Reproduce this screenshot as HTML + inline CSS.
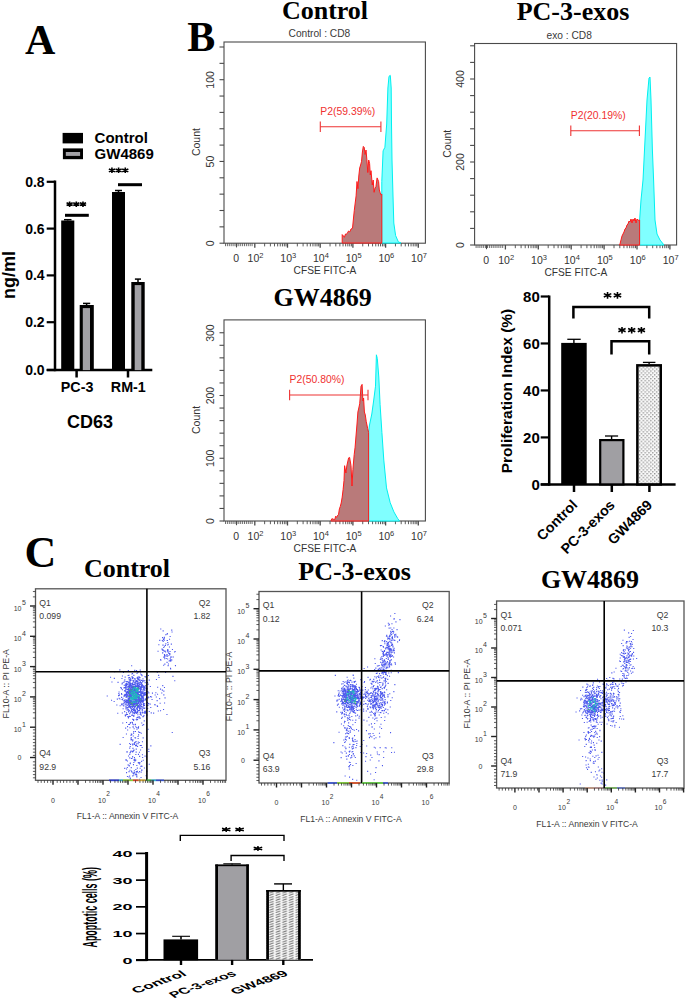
<!DOCTYPE html>
<html><head><meta charset="utf-8"><style>
html,body{margin:0;padding:0;background:#fff;width:685px;height:1001px;overflow:hidden;font-family:"Liberation Sans",sans-serif;}
svg{display:block;}
</style></head><body>
<svg width="685" height="1001" viewBox="0 0 685 1001">
<rect width="685" height="1001" fill="#fff"/>
<text x="25.00" y="54.00" font-family="Liberation Serif" font-size="42" font-weight="bold" text-anchor="start" fill="#000" >A</text>
<text x="187.20" y="50.80" font-family="Liberation Serif" font-size="42" font-weight="bold" text-anchor="start" fill="#000" >B</text>
<text x="24.50" y="566.60" font-family="Liberation Serif" font-size="44" font-weight="bold" text-anchor="start" fill="#000" >C</text>
<rect x="62.60" y="132.90" width="20.40" height="10.50" fill="#000" stroke="none" stroke-width="0" />
<rect x="62.90" y="148.40" width="20.10" height="10.80" fill="#000" stroke="none" stroke-width="0" />
<rect x="65.80" y="152.00" width="14.30" height="3.90" fill="#a2a1a6" stroke="none" stroke-width="0" />
<text x="94.60" y="143.40" font-family="Liberation Sans" font-size="15" font-weight="bold" text-anchor="start" fill="#000" >Control</text>
<text x="94.60" y="159.30" font-family="Liberation Sans" font-size="15" font-weight="bold" text-anchor="start" fill="#000" >GW4869</text>
<line x1="55.00" y1="180.50" x2="55.00" y2="371.20" stroke="#000" stroke-width="2.5" />
<line x1="46.70" y1="370.00" x2="152.30" y2="370.00" stroke="#000" stroke-width="2.5" />
<line x1="46.70" y1="181.80" x2="55.00" y2="181.80" stroke="#000" stroke-width="2.2" />
<text x="44.60" y="186.80" font-family="Liberation Sans" font-size="14" font-weight="bold" text-anchor="end" fill="#000" >0.8</text>
<line x1="46.70" y1="228.60" x2="55.00" y2="228.60" stroke="#000" stroke-width="2.2" />
<text x="44.60" y="233.60" font-family="Liberation Sans" font-size="14" font-weight="bold" text-anchor="end" fill="#000" >0.6</text>
<line x1="46.70" y1="275.40" x2="55.00" y2="275.40" stroke="#000" stroke-width="2.2" />
<text x="44.60" y="280.40" font-family="Liberation Sans" font-size="14" font-weight="bold" text-anchor="end" fill="#000" >0.4</text>
<line x1="46.70" y1="322.20" x2="55.00" y2="322.20" stroke="#000" stroke-width="2.2" />
<text x="44.60" y="327.20" font-family="Liberation Sans" font-size="14" font-weight="bold" text-anchor="end" fill="#000" >0.2</text>
<line x1="46.70" y1="370.00" x2="55.00" y2="370.00" stroke="#000" stroke-width="2.2" />
<text x="44.60" y="375.00" font-family="Liberation Sans" font-size="14" font-weight="bold" text-anchor="end" fill="#000" >0.0</text>
<rect x="61.20" y="220.50" width="13.10" height="149.50" fill="#000" stroke="none" stroke-width="0" />
<rect x="79.70" y="305.00" width="14.10" height="65.00" fill="#000" stroke="none" stroke-width="0" />
<rect x="82.80" y="308.10" width="7.20" height="62.00" fill="#a2a1a6" stroke="none" stroke-width="0" />
<rect x="112.00" y="192.00" width="13.00" height="178.00" fill="#000" stroke="none" stroke-width="0" />
<rect x="131.30" y="282.00" width="13.40" height="88.00" fill="#000" stroke="none" stroke-width="0" />
<rect x="134.70" y="285.10" width="6.60" height="85.00" fill="#a2a1a6" stroke="none" stroke-width="0" />
<line x1="67.70" y1="219.50" x2="67.70" y2="220.50" stroke="#000" stroke-width="1.5" />
<line x1="64.00" y1="219.70" x2="71.50" y2="219.70" stroke="#000" stroke-width="1.5" />
<line x1="86.60" y1="303.40" x2="86.60" y2="305.00" stroke="#000" stroke-width="1.5" />
<line x1="83.00" y1="303.40" x2="90.20" y2="303.40" stroke="#000" stroke-width="1.5" />
<line x1="118.50" y1="190.50" x2="118.50" y2="192.00" stroke="#000" stroke-width="1.5" />
<line x1="115.00" y1="190.50" x2="122.00" y2="190.50" stroke="#000" stroke-width="1.5" />
<line x1="138.00" y1="279.10" x2="138.00" y2="282.00" stroke="#000" stroke-width="1.5" />
<line x1="134.90" y1="279.10" x2="141.00" y2="279.10" stroke="#000" stroke-width="1.5" />
<line x1="65.00" y1="215.30" x2="88.80" y2="215.30" stroke="#000" stroke-width="3" />
<line x1="118.00" y1="184.70" x2="142.00" y2="184.70" stroke="#000" stroke-width="3" />
<path d="M69.63 201.40V207.00M66.57 202.80L72.70 205.60M66.57 205.60L72.70 202.80" stroke="#000" stroke-width="1.6" fill="none"/>
<path d="M76.30 201.40V207.00M73.23 202.80L79.37 205.60M73.23 205.60L79.37 202.80" stroke="#000" stroke-width="1.6" fill="none"/>
<path d="M82.97 201.40V207.00M79.90 202.80L86.03 205.60M79.90 205.60L86.03 202.80" stroke="#000" stroke-width="1.6" fill="none"/>
<path d="M111.93 167.60V173.10M108.87 168.97L115.00 171.72M108.87 171.72L115.00 168.97" stroke="#000" stroke-width="1.6" fill="none"/>
<path d="M118.60 167.60V173.10M115.53 168.97L121.67 171.72M115.53 171.72L121.67 168.97" stroke="#000" stroke-width="1.6" fill="none"/>
<path d="M125.27 167.60V173.10M122.20 168.97L128.33 171.72M122.20 171.72L128.33 168.97" stroke="#000" stroke-width="1.6" fill="none"/>
<line x1="76.60" y1="370.00" x2="76.60" y2="377.50" stroke="#000" stroke-width="2.5" />
<line x1="128.00" y1="370.00" x2="128.00" y2="377.50" stroke="#000" stroke-width="2.5" />
<text x="77.10" y="392.20" font-family="Liberation Sans" font-size="14.3" font-weight="bold" text-anchor="middle" fill="#000" >PC-3</text>
<text x="128.30" y="392.20" font-family="Liberation Sans" font-size="14.3" font-weight="bold" text-anchor="middle" fill="#000" >RM-1</text>
<text x="90.10" y="427.70" font-family="Liberation Sans" font-size="18" font-weight="bold" text-anchor="middle" fill="#000" >CD63</text>
<text transform="translate(14.7,275) rotate(-90)" font-family="Liberation Sans" font-size="18" font-weight="bold" text-anchor="middle">ng/ml</text>
<rect x="224.00" y="42.00" width="201.40" height="201.20" fill="none" stroke="#4a4a4a" stroke-width="1.1" />
<line x1="219.50" y1="243.20" x2="224.00" y2="243.20" stroke="#4a4a4a" stroke-width="1.1" />
<line x1="219.50" y1="226.85" x2="224.00" y2="226.85" stroke="#4a4a4a" stroke-width="1.1" />
<line x1="219.50" y1="210.50" x2="224.00" y2="210.50" stroke="#4a4a4a" stroke-width="1.1" />
<line x1="219.50" y1="194.15" x2="224.00" y2="194.15" stroke="#4a4a4a" stroke-width="1.1" />
<line x1="219.50" y1="177.80" x2="224.00" y2="177.80" stroke="#4a4a4a" stroke-width="1.1" />
<line x1="219.50" y1="161.45" x2="224.00" y2="161.45" stroke="#4a4a4a" stroke-width="1.1" />
<line x1="219.50" y1="145.10" x2="224.00" y2="145.10" stroke="#4a4a4a" stroke-width="1.1" />
<line x1="219.50" y1="128.75" x2="224.00" y2="128.75" stroke="#4a4a4a" stroke-width="1.1" />
<line x1="219.50" y1="112.40" x2="224.00" y2="112.40" stroke="#4a4a4a" stroke-width="1.1" />
<line x1="219.50" y1="96.05" x2="224.00" y2="96.05" stroke="#4a4a4a" stroke-width="1.1" />
<line x1="219.50" y1="79.70" x2="224.00" y2="79.70" stroke="#4a4a4a" stroke-width="1.1" />
<line x1="219.50" y1="63.35" x2="224.00" y2="63.35" stroke="#4a4a4a" stroke-width="1.1" />
<line x1="219.50" y1="47.00" x2="224.00" y2="47.00" stroke="#4a4a4a" stroke-width="1.1" />
<text transform="translate(213.80,243.40) rotate(-90)" font-family="Liberation Sans" font-size="10.5" text-anchor="middle" fill="#333">0</text>
<text transform="translate(213.80,161.60) rotate(-90)" font-family="Liberation Sans" font-size="10.5" text-anchor="middle" fill="#333">50</text>
<text transform="translate(213.80,79.90) rotate(-90)" font-family="Liberation Sans" font-size="10.5" text-anchor="middle" fill="#333">100</text>
<text transform="translate(200.00,142.10) rotate(-90)" font-family="Liberation Sans" font-size="10.5" text-anchor="middle" fill="#333">Count</text>
<line x1="225.50" y1="243.20" x2="225.50" y2="246.20" stroke="#4a4a4a" stroke-width="0.8" />
<line x1="227.40" y1="243.20" x2="227.40" y2="246.20" stroke="#4a4a4a" stroke-width="0.8" />
<line x1="229.30" y1="243.20" x2="229.30" y2="246.20" stroke="#4a4a4a" stroke-width="0.8" />
<line x1="231.20" y1="243.20" x2="231.20" y2="246.20" stroke="#4a4a4a" stroke-width="0.8" />
<line x1="233.10" y1="243.20" x2="233.10" y2="246.20" stroke="#4a4a4a" stroke-width="0.8" />
<line x1="235.00" y1="243.20" x2="235.00" y2="246.20" stroke="#4a4a4a" stroke-width="0.8" />
<line x1="236.90" y1="243.20" x2="236.90" y2="246.20" stroke="#4a4a4a" stroke-width="0.8" />
<line x1="238.80" y1="243.20" x2="238.80" y2="246.20" stroke="#4a4a4a" stroke-width="0.8" />
<line x1="240.70" y1="243.20" x2="240.70" y2="246.20" stroke="#4a4a4a" stroke-width="0.8" />
<line x1="242.60" y1="243.20" x2="242.60" y2="246.20" stroke="#4a4a4a" stroke-width="0.8" />
<line x1="244.50" y1="243.20" x2="244.50" y2="246.20" stroke="#4a4a4a" stroke-width="0.8" />
<line x1="246.40" y1="243.20" x2="246.40" y2="246.20" stroke="#4a4a4a" stroke-width="0.8" />
<line x1="248.30" y1="243.20" x2="248.30" y2="246.20" stroke="#4a4a4a" stroke-width="0.8" />
<line x1="250.20" y1="243.20" x2="250.20" y2="246.20" stroke="#4a4a4a" stroke-width="0.8" />
<line x1="252.10" y1="243.20" x2="252.10" y2="246.20" stroke="#4a4a4a" stroke-width="0.8" />
<line x1="236.50" y1="243.20" x2="236.50" y2="247.40" stroke="#4a4a4a" stroke-width="1.1" />
<line x1="254.80" y1="243.20" x2="254.80" y2="247.70" stroke="#4a4a4a" stroke-width="1.3" />
<line x1="264.64" y1="243.20" x2="264.64" y2="246.40" stroke="#4a4a4a" stroke-width="0.9" />
<line x1="270.40" y1="243.20" x2="270.40" y2="246.40" stroke="#4a4a4a" stroke-width="0.9" />
<line x1="274.49" y1="243.20" x2="274.49" y2="246.40" stroke="#4a4a4a" stroke-width="0.9" />
<line x1="277.66" y1="243.20" x2="277.66" y2="246.40" stroke="#4a4a4a" stroke-width="0.9" />
<line x1="280.25" y1="243.20" x2="280.25" y2="246.40" stroke="#4a4a4a" stroke-width="0.9" />
<line x1="282.43" y1="243.20" x2="282.43" y2="246.40" stroke="#4a4a4a" stroke-width="0.9" />
<line x1="284.33" y1="243.20" x2="284.33" y2="246.40" stroke="#4a4a4a" stroke-width="0.9" />
<line x1="286.00" y1="243.20" x2="286.00" y2="246.40" stroke="#4a4a4a" stroke-width="0.9" />
<line x1="287.50" y1="243.20" x2="287.50" y2="247.70" stroke="#4a4a4a" stroke-width="1.3" />
<line x1="297.34" y1="243.20" x2="297.34" y2="246.40" stroke="#4a4a4a" stroke-width="0.9" />
<line x1="303.10" y1="243.20" x2="303.10" y2="246.40" stroke="#4a4a4a" stroke-width="0.9" />
<line x1="307.19" y1="243.20" x2="307.19" y2="246.40" stroke="#4a4a4a" stroke-width="0.9" />
<line x1="310.36" y1="243.20" x2="310.36" y2="246.40" stroke="#4a4a4a" stroke-width="0.9" />
<line x1="312.95" y1="243.20" x2="312.95" y2="246.40" stroke="#4a4a4a" stroke-width="0.9" />
<line x1="315.13" y1="243.20" x2="315.13" y2="246.40" stroke="#4a4a4a" stroke-width="0.9" />
<line x1="317.03" y1="243.20" x2="317.03" y2="246.40" stroke="#4a4a4a" stroke-width="0.9" />
<line x1="318.70" y1="243.20" x2="318.70" y2="246.40" stroke="#4a4a4a" stroke-width="0.9" />
<line x1="320.20" y1="243.20" x2="320.20" y2="247.70" stroke="#4a4a4a" stroke-width="1.3" />
<line x1="330.04" y1="243.20" x2="330.04" y2="246.40" stroke="#4a4a4a" stroke-width="0.9" />
<line x1="335.80" y1="243.20" x2="335.80" y2="246.40" stroke="#4a4a4a" stroke-width="0.9" />
<line x1="339.89" y1="243.20" x2="339.89" y2="246.40" stroke="#4a4a4a" stroke-width="0.9" />
<line x1="343.06" y1="243.20" x2="343.06" y2="246.40" stroke="#4a4a4a" stroke-width="0.9" />
<line x1="345.65" y1="243.20" x2="345.65" y2="246.40" stroke="#4a4a4a" stroke-width="0.9" />
<line x1="347.83" y1="243.20" x2="347.83" y2="246.40" stroke="#4a4a4a" stroke-width="0.9" />
<line x1="349.73" y1="243.20" x2="349.73" y2="246.40" stroke="#4a4a4a" stroke-width="0.9" />
<line x1="351.40" y1="243.20" x2="351.40" y2="246.40" stroke="#4a4a4a" stroke-width="0.9" />
<line x1="352.90" y1="243.20" x2="352.90" y2="247.70" stroke="#4a4a4a" stroke-width="1.3" />
<line x1="362.74" y1="243.20" x2="362.74" y2="246.40" stroke="#4a4a4a" stroke-width="0.9" />
<line x1="368.50" y1="243.20" x2="368.50" y2="246.40" stroke="#4a4a4a" stroke-width="0.9" />
<line x1="372.59" y1="243.20" x2="372.59" y2="246.40" stroke="#4a4a4a" stroke-width="0.9" />
<line x1="375.76" y1="243.20" x2="375.76" y2="246.40" stroke="#4a4a4a" stroke-width="0.9" />
<line x1="378.35" y1="243.20" x2="378.35" y2="246.40" stroke="#4a4a4a" stroke-width="0.9" />
<line x1="380.53" y1="243.20" x2="380.53" y2="246.40" stroke="#4a4a4a" stroke-width="0.9" />
<line x1="382.43" y1="243.20" x2="382.43" y2="246.40" stroke="#4a4a4a" stroke-width="0.9" />
<line x1="384.10" y1="243.20" x2="384.10" y2="246.40" stroke="#4a4a4a" stroke-width="0.9" />
<line x1="385.60" y1="243.20" x2="385.60" y2="247.70" stroke="#4a4a4a" stroke-width="1.3" />
<line x1="395.44" y1="243.20" x2="395.44" y2="246.40" stroke="#4a4a4a" stroke-width="0.9" />
<line x1="401.20" y1="243.20" x2="401.20" y2="246.40" stroke="#4a4a4a" stroke-width="0.9" />
<line x1="405.29" y1="243.20" x2="405.29" y2="246.40" stroke="#4a4a4a" stroke-width="0.9" />
<line x1="408.46" y1="243.20" x2="408.46" y2="246.40" stroke="#4a4a4a" stroke-width="0.9" />
<line x1="411.05" y1="243.20" x2="411.05" y2="246.40" stroke="#4a4a4a" stroke-width="0.9" />
<line x1="413.23" y1="243.20" x2="413.23" y2="246.40" stroke="#4a4a4a" stroke-width="0.9" />
<line x1="415.13" y1="243.20" x2="415.13" y2="246.40" stroke="#4a4a4a" stroke-width="0.9" />
<line x1="416.80" y1="243.20" x2="416.80" y2="246.40" stroke="#4a4a4a" stroke-width="0.9" />
<line x1="418.30" y1="243.20" x2="418.30" y2="247.70" stroke="#4a4a4a" stroke-width="1.3" />
<text x="236.20" y="261.80" font-family="Liberation Sans" font-size="10.5" font-weight="normal" text-anchor="middle" fill="#333" >0</text>
<text x="247.60" y="261.80" font-family="Liberation Sans" font-size="10.5" fill="#333">10<tspan font-size="7.5" dy="-4">2</tspan></text>
<text x="280.30" y="261.80" font-family="Liberation Sans" font-size="10.5" fill="#333">10<tspan font-size="7.5" dy="-4">3</tspan></text>
<text x="313.00" y="261.80" font-family="Liberation Sans" font-size="10.5" fill="#333">10<tspan font-size="7.5" dy="-4">4</tspan></text>
<text x="345.70" y="261.80" font-family="Liberation Sans" font-size="10.5" fill="#333">10<tspan font-size="7.5" dy="-4">5</tspan></text>
<text x="378.40" y="261.80" font-family="Liberation Sans" font-size="10.5" fill="#333">10<tspan font-size="7.5" dy="-4">6</tspan></text>
<text x="411.10" y="261.80" font-family="Liberation Sans" font-size="10.5" fill="#333">10<tspan font-size="7.5" dy="-4">7</tspan></text>
<text x="325.00" y="274.00" font-family="Liberation Sans" font-size="10.2" font-weight="normal" text-anchor="middle" fill="#333" >CFSE FITC-A</text>
<text x="325.00" y="18.70" font-family="Liberation Serif" font-size="26" font-weight="bold" text-anchor="middle" fill="#000" >Control</text>
<text x="319.40" y="37.40" font-family="Liberation Sans" font-size="10.2" font-weight="normal" text-anchor="middle" fill="#3a3a3a" >Control : CD8</text>
<polygon points="381.8,243.0 381.8,181.5 383.1,150.9 384.9,147.3 386.7,124.0 387.9,88.0 389.0,76.3 390.3,75.4 391.2,88.0 391.5,124.0 392.0,160.0 393.0,196.0 393.8,223.0 395.6,235.5 398.3,241.8 401.0,243.0" fill="#80ffff" stroke="#00f0f0" stroke-width="1" stroke-linejoin="round" />
<polygon points="342.2,243.0 342.2,234.6 343.3,235.8 344.4,237.3 345.5,234.0 346.3,234.1 347.1,233.7 348.5,231.0 349.8,231.9 351.0,229.0 352.5,228.3 353.5,218.0 354.3,210.3 355.2,203.0 356.1,195.9 357.0,181.5 357.9,188.7 358.8,176.0 359.7,168.0 360.6,165.0 361.5,161.7 362.4,152.0 363.3,146.4 364.2,147.3 365.1,154.5 366.0,150.0 366.9,159.9 367.8,172.5 368.7,160.0 369.6,163.5 370.3,175.0 371.0,170.7 372.3,185.0 373.2,180.0 374.1,192.3 375.0,188.0 375.9,186.9 377.1,177.9 378.6,181.5 379.3,190.0 380.0,192.3 380.9,194.9 381.8,194.1 381.8,243.0" fill="#b97a7a" stroke="#ff1a1a" stroke-width="1" stroke-linejoin="round" />
<line x1="320.30" y1="126.70" x2="380.90" y2="126.70" stroke="#ee3333" stroke-width="1.1" />
<line x1="320.30" y1="121.40" x2="320.30" y2="132.00" stroke="#ee3333" stroke-width="1.1" />
<line x1="380.90" y1="121.40" x2="380.90" y2="132.00" stroke="#ee3333" stroke-width="1.1" />
<text x="320.30" y="114.80" font-family="Liberation Sans" font-size="10.4" font-weight="normal" text-anchor="start" fill="#f03030" >P2(59.39%)</text>
<rect x="474.60" y="43.50" width="202.00" height="201.50" fill="none" stroke="#4a4a4a" stroke-width="1.1" />
<line x1="470.10" y1="245.00" x2="474.60" y2="245.00" stroke="#4a4a4a" stroke-width="1.1" />
<line x1="470.10" y1="228.40" x2="474.60" y2="228.40" stroke="#4a4a4a" stroke-width="1.1" />
<line x1="470.10" y1="211.80" x2="474.60" y2="211.80" stroke="#4a4a4a" stroke-width="1.1" />
<line x1="470.10" y1="195.20" x2="474.60" y2="195.20" stroke="#4a4a4a" stroke-width="1.1" />
<line x1="470.10" y1="178.60" x2="474.60" y2="178.60" stroke="#4a4a4a" stroke-width="1.1" />
<line x1="470.10" y1="162.00" x2="474.60" y2="162.00" stroke="#4a4a4a" stroke-width="1.1" />
<line x1="470.10" y1="145.40" x2="474.60" y2="145.40" stroke="#4a4a4a" stroke-width="1.1" />
<line x1="470.10" y1="128.80" x2="474.60" y2="128.80" stroke="#4a4a4a" stroke-width="1.1" />
<line x1="470.10" y1="112.20" x2="474.60" y2="112.20" stroke="#4a4a4a" stroke-width="1.1" />
<line x1="470.10" y1="95.60" x2="474.60" y2="95.60" stroke="#4a4a4a" stroke-width="1.1" />
<line x1="470.10" y1="79.00" x2="474.60" y2="79.00" stroke="#4a4a4a" stroke-width="1.1" />
<line x1="470.10" y1="62.40" x2="474.60" y2="62.40" stroke="#4a4a4a" stroke-width="1.1" />
<line x1="470.10" y1="45.80" x2="474.60" y2="45.80" stroke="#4a4a4a" stroke-width="1.1" />
<text transform="translate(464.40,245.00) rotate(-90)" font-family="Liberation Sans" font-size="10.5" text-anchor="middle" fill="#333">0</text>
<text transform="translate(464.40,162.00) rotate(-90)" font-family="Liberation Sans" font-size="10.5" text-anchor="middle" fill="#333">200</text>
<text transform="translate(464.40,79.00) rotate(-90)" font-family="Liberation Sans" font-size="10.5" text-anchor="middle" fill="#333">400</text>
<text transform="translate(450.60,143.75) rotate(-90)" font-family="Liberation Sans" font-size="10.5" text-anchor="middle" fill="#333">Count</text>
<line x1="476.10" y1="245.00" x2="476.10" y2="248.00" stroke="#4a4a4a" stroke-width="0.8" />
<line x1="478.00" y1="245.00" x2="478.00" y2="248.00" stroke="#4a4a4a" stroke-width="0.8" />
<line x1="479.90" y1="245.00" x2="479.90" y2="248.00" stroke="#4a4a4a" stroke-width="0.8" />
<line x1="481.80" y1="245.00" x2="481.80" y2="248.00" stroke="#4a4a4a" stroke-width="0.8" />
<line x1="483.70" y1="245.00" x2="483.70" y2="248.00" stroke="#4a4a4a" stroke-width="0.8" />
<line x1="485.60" y1="245.00" x2="485.60" y2="248.00" stroke="#4a4a4a" stroke-width="0.8" />
<line x1="487.50" y1="245.00" x2="487.50" y2="248.00" stroke="#4a4a4a" stroke-width="0.8" />
<line x1="489.40" y1="245.00" x2="489.40" y2="248.00" stroke="#4a4a4a" stroke-width="0.8" />
<line x1="491.30" y1="245.00" x2="491.30" y2="248.00" stroke="#4a4a4a" stroke-width="0.8" />
<line x1="493.20" y1="245.00" x2="493.20" y2="248.00" stroke="#4a4a4a" stroke-width="0.8" />
<line x1="495.10" y1="245.00" x2="495.10" y2="248.00" stroke="#4a4a4a" stroke-width="0.8" />
<line x1="497.00" y1="245.00" x2="497.00" y2="248.00" stroke="#4a4a4a" stroke-width="0.8" />
<line x1="498.90" y1="245.00" x2="498.90" y2="248.00" stroke="#4a4a4a" stroke-width="0.8" />
<line x1="500.80" y1="245.00" x2="500.80" y2="248.00" stroke="#4a4a4a" stroke-width="0.8" />
<line x1="502.70" y1="245.00" x2="502.70" y2="248.00" stroke="#4a4a4a" stroke-width="0.8" />
<line x1="486.50" y1="245.00" x2="486.50" y2="249.20" stroke="#4a4a4a" stroke-width="1.1" />
<line x1="505.40" y1="245.00" x2="505.40" y2="249.50" stroke="#4a4a4a" stroke-width="1.3" />
<line x1="515.30" y1="245.00" x2="515.30" y2="248.20" stroke="#4a4a4a" stroke-width="0.9" />
<line x1="521.10" y1="245.00" x2="521.10" y2="248.20" stroke="#4a4a4a" stroke-width="0.9" />
<line x1="525.21" y1="245.00" x2="525.21" y2="248.20" stroke="#4a4a4a" stroke-width="0.9" />
<line x1="528.40" y1="245.00" x2="528.40" y2="248.20" stroke="#4a4a4a" stroke-width="0.9" />
<line x1="531.00" y1="245.00" x2="531.00" y2="248.20" stroke="#4a4a4a" stroke-width="0.9" />
<line x1="533.20" y1="245.00" x2="533.20" y2="248.20" stroke="#4a4a4a" stroke-width="0.9" />
<line x1="535.11" y1="245.00" x2="535.11" y2="248.20" stroke="#4a4a4a" stroke-width="0.9" />
<line x1="536.79" y1="245.00" x2="536.79" y2="248.20" stroke="#4a4a4a" stroke-width="0.9" />
<line x1="538.30" y1="245.00" x2="538.30" y2="249.50" stroke="#4a4a4a" stroke-width="1.3" />
<line x1="548.20" y1="245.00" x2="548.20" y2="248.20" stroke="#4a4a4a" stroke-width="0.9" />
<line x1="554.00" y1="245.00" x2="554.00" y2="248.20" stroke="#4a4a4a" stroke-width="0.9" />
<line x1="558.11" y1="245.00" x2="558.11" y2="248.20" stroke="#4a4a4a" stroke-width="0.9" />
<line x1="561.30" y1="245.00" x2="561.30" y2="248.20" stroke="#4a4a4a" stroke-width="0.9" />
<line x1="563.90" y1="245.00" x2="563.90" y2="248.20" stroke="#4a4a4a" stroke-width="0.9" />
<line x1="566.10" y1="245.00" x2="566.10" y2="248.20" stroke="#4a4a4a" stroke-width="0.9" />
<line x1="568.01" y1="245.00" x2="568.01" y2="248.20" stroke="#4a4a4a" stroke-width="0.9" />
<line x1="569.69" y1="245.00" x2="569.69" y2="248.20" stroke="#4a4a4a" stroke-width="0.9" />
<line x1="571.20" y1="245.00" x2="571.20" y2="249.50" stroke="#4a4a4a" stroke-width="1.3" />
<line x1="581.10" y1="245.00" x2="581.10" y2="248.20" stroke="#4a4a4a" stroke-width="0.9" />
<line x1="586.90" y1="245.00" x2="586.90" y2="248.20" stroke="#4a4a4a" stroke-width="0.9" />
<line x1="591.01" y1="245.00" x2="591.01" y2="248.20" stroke="#4a4a4a" stroke-width="0.9" />
<line x1="594.20" y1="245.00" x2="594.20" y2="248.20" stroke="#4a4a4a" stroke-width="0.9" />
<line x1="596.80" y1="245.00" x2="596.80" y2="248.20" stroke="#4a4a4a" stroke-width="0.9" />
<line x1="599.00" y1="245.00" x2="599.00" y2="248.20" stroke="#4a4a4a" stroke-width="0.9" />
<line x1="600.91" y1="245.00" x2="600.91" y2="248.20" stroke="#4a4a4a" stroke-width="0.9" />
<line x1="602.59" y1="245.00" x2="602.59" y2="248.20" stroke="#4a4a4a" stroke-width="0.9" />
<line x1="604.10" y1="245.00" x2="604.10" y2="249.50" stroke="#4a4a4a" stroke-width="1.3" />
<line x1="614.00" y1="245.00" x2="614.00" y2="248.20" stroke="#4a4a4a" stroke-width="0.9" />
<line x1="619.80" y1="245.00" x2="619.80" y2="248.20" stroke="#4a4a4a" stroke-width="0.9" />
<line x1="623.91" y1="245.00" x2="623.91" y2="248.20" stroke="#4a4a4a" stroke-width="0.9" />
<line x1="627.10" y1="245.00" x2="627.10" y2="248.20" stroke="#4a4a4a" stroke-width="0.9" />
<line x1="629.70" y1="245.00" x2="629.70" y2="248.20" stroke="#4a4a4a" stroke-width="0.9" />
<line x1="631.90" y1="245.00" x2="631.90" y2="248.20" stroke="#4a4a4a" stroke-width="0.9" />
<line x1="633.81" y1="245.00" x2="633.81" y2="248.20" stroke="#4a4a4a" stroke-width="0.9" />
<line x1="635.49" y1="245.00" x2="635.49" y2="248.20" stroke="#4a4a4a" stroke-width="0.9" />
<line x1="637.00" y1="245.00" x2="637.00" y2="249.50" stroke="#4a4a4a" stroke-width="1.3" />
<line x1="646.90" y1="245.00" x2="646.90" y2="248.20" stroke="#4a4a4a" stroke-width="0.9" />
<line x1="652.70" y1="245.00" x2="652.70" y2="248.20" stroke="#4a4a4a" stroke-width="0.9" />
<line x1="656.81" y1="245.00" x2="656.81" y2="248.20" stroke="#4a4a4a" stroke-width="0.9" />
<line x1="660.00" y1="245.00" x2="660.00" y2="248.20" stroke="#4a4a4a" stroke-width="0.9" />
<line x1="662.60" y1="245.00" x2="662.60" y2="248.20" stroke="#4a4a4a" stroke-width="0.9" />
<line x1="664.80" y1="245.00" x2="664.80" y2="248.20" stroke="#4a4a4a" stroke-width="0.9" />
<line x1="666.71" y1="245.00" x2="666.71" y2="248.20" stroke="#4a4a4a" stroke-width="0.9" />
<line x1="668.39" y1="245.00" x2="668.39" y2="248.20" stroke="#4a4a4a" stroke-width="0.9" />
<line x1="669.90" y1="245.00" x2="669.90" y2="249.50" stroke="#4a4a4a" stroke-width="1.3" />
<text x="486.20" y="263.60" font-family="Liberation Sans" font-size="10.5" font-weight="normal" text-anchor="middle" fill="#333" >0</text>
<text x="498.20" y="263.60" font-family="Liberation Sans" font-size="10.5" fill="#333">10<tspan font-size="7.5" dy="-4">2</tspan></text>
<text x="531.10" y="263.60" font-family="Liberation Sans" font-size="10.5" fill="#333">10<tspan font-size="7.5" dy="-4">3</tspan></text>
<text x="564.00" y="263.60" font-family="Liberation Sans" font-size="10.5" fill="#333">10<tspan font-size="7.5" dy="-4">4</tspan></text>
<text x="596.90" y="263.60" font-family="Liberation Sans" font-size="10.5" fill="#333">10<tspan font-size="7.5" dy="-4">5</tspan></text>
<text x="629.80" y="263.60" font-family="Liberation Sans" font-size="10.5" fill="#333">10<tspan font-size="7.5" dy="-4">6</tspan></text>
<text x="662.70" y="263.60" font-family="Liberation Sans" font-size="10.5" fill="#333">10<tspan font-size="7.5" dy="-4">7</tspan></text>
<text x="575.90" y="275.80" font-family="Liberation Sans" font-size="10.2" font-weight="normal" text-anchor="middle" fill="#333" >CFSE FITC-A</text>
<text x="573.00" y="20.00" font-family="Liberation Serif" font-size="26" font-weight="bold" text-anchor="middle" fill="#000" >PC-3-exos</text>
<text x="569.20" y="38.90" font-family="Liberation Sans" font-size="10.2" font-weight="normal" text-anchor="middle" fill="#3a3a3a" >exo : CD8</text>
<polygon points="639.6,245.0 639.6,220.0 641.0,200.0 643.0,180.0 645.0,140.0 647.0,100.0 649.0,78.0 650.0,77.0 651.0,100.0 652.4,150.0 653.6,180.0 655.0,220.0 657.0,234.0 660.0,240.0 664.0,245.0" fill="#80ffff" stroke="#00f0f0" stroke-width="1" stroke-linejoin="round" />
<polygon points="619.6,245.0 620.0,244.0 621.0,239.9 622.0,236.0 623.0,234.0 624.0,232.0 625.0,229.0 626.0,228.0 627.0,225.0 628.0,224.0 629.0,221.0 630.0,222.0 631.0,219.0 632.0,223.0 633.0,219.0 634.0,221.0 635.0,218.0 636.0,223.0 637.0,219.0 638.0,220.0 638.8,220.3 639.6,220.0 639.6,245.0" fill="#b97a7a" stroke="#ff1a1a" stroke-width="1" stroke-linejoin="round" />
<line x1="570.80" y1="130.70" x2="639.40" y2="130.70" stroke="#ee3333" stroke-width="1.1" />
<line x1="570.80" y1="125.40" x2="570.80" y2="136.00" stroke="#ee3333" stroke-width="1.1" />
<line x1="639.40" y1="125.40" x2="639.40" y2="136.00" stroke="#ee3333" stroke-width="1.1" />
<text x="570.80" y="118.80" font-family="Liberation Sans" font-size="10.4" font-weight="normal" text-anchor="start" fill="#f03030" >P2(20.19%)</text>
<rect x="224.00" y="319.90" width="201.40" height="201.10" fill="none" stroke="#4a4a4a" stroke-width="1.1" />
<line x1="219.50" y1="521.00" x2="224.00" y2="521.00" stroke="#4a4a4a" stroke-width="1.1" />
<line x1="219.50" y1="508.45" x2="224.00" y2="508.45" stroke="#4a4a4a" stroke-width="1.1" />
<line x1="219.50" y1="495.90" x2="224.00" y2="495.90" stroke="#4a4a4a" stroke-width="1.1" />
<line x1="219.50" y1="483.35" x2="224.00" y2="483.35" stroke="#4a4a4a" stroke-width="1.1" />
<line x1="219.50" y1="470.80" x2="224.00" y2="470.80" stroke="#4a4a4a" stroke-width="1.1" />
<line x1="219.50" y1="458.25" x2="224.00" y2="458.25" stroke="#4a4a4a" stroke-width="1.1" />
<line x1="219.50" y1="445.70" x2="224.00" y2="445.70" stroke="#4a4a4a" stroke-width="1.1" />
<line x1="219.50" y1="433.15" x2="224.00" y2="433.15" stroke="#4a4a4a" stroke-width="1.1" />
<line x1="219.50" y1="420.60" x2="224.00" y2="420.60" stroke="#4a4a4a" stroke-width="1.1" />
<line x1="219.50" y1="408.05" x2="224.00" y2="408.05" stroke="#4a4a4a" stroke-width="1.1" />
<line x1="219.50" y1="395.50" x2="224.00" y2="395.50" stroke="#4a4a4a" stroke-width="1.1" />
<line x1="219.50" y1="382.95" x2="224.00" y2="382.95" stroke="#4a4a4a" stroke-width="1.1" />
<line x1="219.50" y1="370.40" x2="224.00" y2="370.40" stroke="#4a4a4a" stroke-width="1.1" />
<line x1="219.50" y1="357.85" x2="224.00" y2="357.85" stroke="#4a4a4a" stroke-width="1.1" />
<line x1="219.50" y1="345.30" x2="224.00" y2="345.30" stroke="#4a4a4a" stroke-width="1.1" />
<line x1="219.50" y1="332.75" x2="224.00" y2="332.75" stroke="#4a4a4a" stroke-width="1.1" />
<text transform="translate(213.80,521.00) rotate(-90)" font-family="Liberation Sans" font-size="10.5" text-anchor="middle" fill="#333">0</text>
<text transform="translate(213.80,458.30) rotate(-90)" font-family="Liberation Sans" font-size="10.5" text-anchor="middle" fill="#333">100</text>
<text transform="translate(213.80,395.60) rotate(-90)" font-family="Liberation Sans" font-size="10.5" text-anchor="middle" fill="#333">200</text>
<text transform="translate(213.80,333.10) rotate(-90)" font-family="Liberation Sans" font-size="10.5" text-anchor="middle" fill="#333">300</text>
<text transform="translate(200.00,419.95) rotate(-90)" font-family="Liberation Sans" font-size="10.5" text-anchor="middle" fill="#333">Count</text>
<line x1="225.50" y1="521.00" x2="225.50" y2="524.00" stroke="#4a4a4a" stroke-width="0.8" />
<line x1="227.40" y1="521.00" x2="227.40" y2="524.00" stroke="#4a4a4a" stroke-width="0.8" />
<line x1="229.30" y1="521.00" x2="229.30" y2="524.00" stroke="#4a4a4a" stroke-width="0.8" />
<line x1="231.20" y1="521.00" x2="231.20" y2="524.00" stroke="#4a4a4a" stroke-width="0.8" />
<line x1="233.10" y1="521.00" x2="233.10" y2="524.00" stroke="#4a4a4a" stroke-width="0.8" />
<line x1="235.00" y1="521.00" x2="235.00" y2="524.00" stroke="#4a4a4a" stroke-width="0.8" />
<line x1="236.90" y1="521.00" x2="236.90" y2="524.00" stroke="#4a4a4a" stroke-width="0.8" />
<line x1="238.80" y1="521.00" x2="238.80" y2="524.00" stroke="#4a4a4a" stroke-width="0.8" />
<line x1="240.70" y1="521.00" x2="240.70" y2="524.00" stroke="#4a4a4a" stroke-width="0.8" />
<line x1="242.60" y1="521.00" x2="242.60" y2="524.00" stroke="#4a4a4a" stroke-width="0.8" />
<line x1="244.50" y1="521.00" x2="244.50" y2="524.00" stroke="#4a4a4a" stroke-width="0.8" />
<line x1="246.40" y1="521.00" x2="246.40" y2="524.00" stroke="#4a4a4a" stroke-width="0.8" />
<line x1="248.30" y1="521.00" x2="248.30" y2="524.00" stroke="#4a4a4a" stroke-width="0.8" />
<line x1="250.20" y1="521.00" x2="250.20" y2="524.00" stroke="#4a4a4a" stroke-width="0.8" />
<line x1="252.10" y1="521.00" x2="252.10" y2="524.00" stroke="#4a4a4a" stroke-width="0.8" />
<line x1="236.50" y1="521.00" x2="236.50" y2="525.20" stroke="#4a4a4a" stroke-width="1.1" />
<line x1="254.80" y1="521.00" x2="254.80" y2="525.50" stroke="#4a4a4a" stroke-width="1.3" />
<line x1="264.64" y1="521.00" x2="264.64" y2="524.20" stroke="#4a4a4a" stroke-width="0.9" />
<line x1="270.40" y1="521.00" x2="270.40" y2="524.20" stroke="#4a4a4a" stroke-width="0.9" />
<line x1="274.49" y1="521.00" x2="274.49" y2="524.20" stroke="#4a4a4a" stroke-width="0.9" />
<line x1="277.66" y1="521.00" x2="277.66" y2="524.20" stroke="#4a4a4a" stroke-width="0.9" />
<line x1="280.25" y1="521.00" x2="280.25" y2="524.20" stroke="#4a4a4a" stroke-width="0.9" />
<line x1="282.43" y1="521.00" x2="282.43" y2="524.20" stroke="#4a4a4a" stroke-width="0.9" />
<line x1="284.33" y1="521.00" x2="284.33" y2="524.20" stroke="#4a4a4a" stroke-width="0.9" />
<line x1="286.00" y1="521.00" x2="286.00" y2="524.20" stroke="#4a4a4a" stroke-width="0.9" />
<line x1="287.50" y1="521.00" x2="287.50" y2="525.50" stroke="#4a4a4a" stroke-width="1.3" />
<line x1="297.34" y1="521.00" x2="297.34" y2="524.20" stroke="#4a4a4a" stroke-width="0.9" />
<line x1="303.10" y1="521.00" x2="303.10" y2="524.20" stroke="#4a4a4a" stroke-width="0.9" />
<line x1="307.19" y1="521.00" x2="307.19" y2="524.20" stroke="#4a4a4a" stroke-width="0.9" />
<line x1="310.36" y1="521.00" x2="310.36" y2="524.20" stroke="#4a4a4a" stroke-width="0.9" />
<line x1="312.95" y1="521.00" x2="312.95" y2="524.20" stroke="#4a4a4a" stroke-width="0.9" />
<line x1="315.13" y1="521.00" x2="315.13" y2="524.20" stroke="#4a4a4a" stroke-width="0.9" />
<line x1="317.03" y1="521.00" x2="317.03" y2="524.20" stroke="#4a4a4a" stroke-width="0.9" />
<line x1="318.70" y1="521.00" x2="318.70" y2="524.20" stroke="#4a4a4a" stroke-width="0.9" />
<line x1="320.20" y1="521.00" x2="320.20" y2="525.50" stroke="#4a4a4a" stroke-width="1.3" />
<line x1="330.04" y1="521.00" x2="330.04" y2="524.20" stroke="#4a4a4a" stroke-width="0.9" />
<line x1="335.80" y1="521.00" x2="335.80" y2="524.20" stroke="#4a4a4a" stroke-width="0.9" />
<line x1="339.89" y1="521.00" x2="339.89" y2="524.20" stroke="#4a4a4a" stroke-width="0.9" />
<line x1="343.06" y1="521.00" x2="343.06" y2="524.20" stroke="#4a4a4a" stroke-width="0.9" />
<line x1="345.65" y1="521.00" x2="345.65" y2="524.20" stroke="#4a4a4a" stroke-width="0.9" />
<line x1="347.83" y1="521.00" x2="347.83" y2="524.20" stroke="#4a4a4a" stroke-width="0.9" />
<line x1="349.73" y1="521.00" x2="349.73" y2="524.20" stroke="#4a4a4a" stroke-width="0.9" />
<line x1="351.40" y1="521.00" x2="351.40" y2="524.20" stroke="#4a4a4a" stroke-width="0.9" />
<line x1="352.90" y1="521.00" x2="352.90" y2="525.50" stroke="#4a4a4a" stroke-width="1.3" />
<line x1="362.74" y1="521.00" x2="362.74" y2="524.20" stroke="#4a4a4a" stroke-width="0.9" />
<line x1="368.50" y1="521.00" x2="368.50" y2="524.20" stroke="#4a4a4a" stroke-width="0.9" />
<line x1="372.59" y1="521.00" x2="372.59" y2="524.20" stroke="#4a4a4a" stroke-width="0.9" />
<line x1="375.76" y1="521.00" x2="375.76" y2="524.20" stroke="#4a4a4a" stroke-width="0.9" />
<line x1="378.35" y1="521.00" x2="378.35" y2="524.20" stroke="#4a4a4a" stroke-width="0.9" />
<line x1="380.53" y1="521.00" x2="380.53" y2="524.20" stroke="#4a4a4a" stroke-width="0.9" />
<line x1="382.43" y1="521.00" x2="382.43" y2="524.20" stroke="#4a4a4a" stroke-width="0.9" />
<line x1="384.10" y1="521.00" x2="384.10" y2="524.20" stroke="#4a4a4a" stroke-width="0.9" />
<line x1="385.60" y1="521.00" x2="385.60" y2="525.50" stroke="#4a4a4a" stroke-width="1.3" />
<line x1="395.44" y1="521.00" x2="395.44" y2="524.20" stroke="#4a4a4a" stroke-width="0.9" />
<line x1="401.20" y1="521.00" x2="401.20" y2="524.20" stroke="#4a4a4a" stroke-width="0.9" />
<line x1="405.29" y1="521.00" x2="405.29" y2="524.20" stroke="#4a4a4a" stroke-width="0.9" />
<line x1="408.46" y1="521.00" x2="408.46" y2="524.20" stroke="#4a4a4a" stroke-width="0.9" />
<line x1="411.05" y1="521.00" x2="411.05" y2="524.20" stroke="#4a4a4a" stroke-width="0.9" />
<line x1="413.23" y1="521.00" x2="413.23" y2="524.20" stroke="#4a4a4a" stroke-width="0.9" />
<line x1="415.13" y1="521.00" x2="415.13" y2="524.20" stroke="#4a4a4a" stroke-width="0.9" />
<line x1="416.80" y1="521.00" x2="416.80" y2="524.20" stroke="#4a4a4a" stroke-width="0.9" />
<line x1="418.30" y1="521.00" x2="418.30" y2="525.50" stroke="#4a4a4a" stroke-width="1.3" />
<text x="236.20" y="539.60" font-family="Liberation Sans" font-size="10.5" font-weight="normal" text-anchor="middle" fill="#333" >0</text>
<text x="247.60" y="539.60" font-family="Liberation Sans" font-size="10.5" fill="#333">10<tspan font-size="7.5" dy="-4">2</tspan></text>
<text x="280.30" y="539.60" font-family="Liberation Sans" font-size="10.5" fill="#333">10<tspan font-size="7.5" dy="-4">3</tspan></text>
<text x="313.00" y="539.60" font-family="Liberation Sans" font-size="10.5" fill="#333">10<tspan font-size="7.5" dy="-4">4</tspan></text>
<text x="345.70" y="539.60" font-family="Liberation Sans" font-size="10.5" fill="#333">10<tspan font-size="7.5" dy="-4">5</tspan></text>
<text x="378.40" y="539.60" font-family="Liberation Sans" font-size="10.5" fill="#333">10<tspan font-size="7.5" dy="-4">6</tspan></text>
<text x="411.10" y="539.60" font-family="Liberation Sans" font-size="10.5" fill="#333">10<tspan font-size="7.5" dy="-4">7</tspan></text>
<text x="325.00" y="551.80" font-family="Liberation Sans" font-size="10.2" font-weight="normal" text-anchor="middle" fill="#333" >CFSE FITC-A</text>
<text x="322.70" y="305.50" font-family="Liberation Serif" font-size="26" font-weight="bold" text-anchor="middle" fill="#000" >GW4869</text>
<text x="0.00" y="0.60" font-family="Liberation Sans" font-size="10.2" font-weight="normal" text-anchor="middle" fill="#3a3a3a" ></text>
<polygon points="368.6,521.0 368.6,432.4 369.5,425.0 371.8,414.0 373.6,401.0 375.5,386.2 376.4,354.8 377.3,358.5 378.8,377.0 380.1,404.7 381.9,432.4 383.8,460.1 386.5,487.9 390.2,502.7 393.9,511.9 397.6,518.4 399.5,521.0" fill="#80ffff" stroke="#00f0f0" stroke-width="1" stroke-linejoin="round" />
<polygon points="331.1,521.0 331.1,520.2 332.0,518.5 332.9,519.3 333.9,519.3 334.8,519.5 335.7,516.2 336.6,517.4 337.6,515.3 338.5,514.7 339.4,508.9 340.3,506.4 341.2,503.0 342.2,497.1 343.1,489.6 344.0,480.5 344.6,465.7 345.9,473.0 346.8,466.0 347.7,462.0 348.6,457.9 349.6,457.4 351.0,465.7 352.0,486.0 352.9,469.4 354.2,454.6 355.1,447.2 356.0,436.0 357.0,424.0 357.9,412.0 358.8,408.0 359.7,403.8 360.4,395.0 361.0,386.2 362.1,384.4 362.9,401.0 363.6,398.0 364.4,412.0 365.3,415.0 366.2,421.3 367.7,428.7 368.6,432.4 368.6,521.0" fill="#b97a7a" stroke="#ff1a1a" stroke-width="1" stroke-linejoin="round" />
<line x1="289.60" y1="395.00" x2="368.00" y2="395.00" stroke="#ee3333" stroke-width="1.1" />
<line x1="289.60" y1="389.70" x2="289.60" y2="400.30" stroke="#ee3333" stroke-width="1.1" />
<line x1="368.00" y1="389.70" x2="368.00" y2="400.30" stroke="#ee3333" stroke-width="1.1" />
<text x="289.60" y="383.10" font-family="Liberation Sans" font-size="10.4" font-weight="normal" text-anchor="start" fill="#f03030" >P2(50.80%)</text>
<line x1="549.20" y1="295.50" x2="549.20" y2="485.60" stroke="#000" stroke-width="2.5" />
<line x1="540.70" y1="484.40" x2="675.60" y2="484.40" stroke="#000" stroke-width="2.5" />
<line x1="540.70" y1="296.50" x2="549.20" y2="296.50" stroke="#000" stroke-width="2.2" />
<text x="539.80" y="301.70" font-family="Liberation Sans" font-size="15" font-weight="bold" text-anchor="end" fill="#000" >80</text>
<line x1="540.70" y1="343.47" x2="549.20" y2="343.47" stroke="#000" stroke-width="2.2" />
<text x="539.80" y="348.67" font-family="Liberation Sans" font-size="15" font-weight="bold" text-anchor="end" fill="#000" >60</text>
<line x1="540.70" y1="390.45" x2="549.20" y2="390.45" stroke="#000" stroke-width="2.2" />
<text x="539.80" y="395.65" font-family="Liberation Sans" font-size="15" font-weight="bold" text-anchor="end" fill="#000" >40</text>
<line x1="540.70" y1="437.42" x2="549.20" y2="437.42" stroke="#000" stroke-width="2.2" />
<text x="539.80" y="442.62" font-family="Liberation Sans" font-size="15" font-weight="bold" text-anchor="end" fill="#000" >20</text>
<line x1="540.70" y1="484.40" x2="549.20" y2="484.40" stroke="#000" stroke-width="2.2" />
<text x="539.80" y="489.60" font-family="Liberation Sans" font-size="15" font-weight="bold" text-anchor="end" fill="#000" >0</text>
<rect x="561.20" y="342.90" width="25.50" height="141.50" fill="#000" stroke="none" stroke-width="0" />
<rect x="600.20" y="440.10" width="23.20" height="44.30" fill="#a09fa3" stroke="#000" stroke-width="2.2" />
<defs><pattern id="dots" x="638.8" y="366.6" width="3.8" height="3.8" patternUnits="userSpaceOnUse"><rect width="3.8" height="3.8" fill="#fafafa"/><rect x="0.2" y="0.2" width="1.1" height="1.1" fill="#555"/><rect x="2.1" y="2.1" width="1.1" height="1.1" fill="#606060"/></pattern><pattern id="hatch" x="268.5" y="891" width="6.6" height="2.45" patternUnits="userSpaceOnUse"><rect width="6.6" height="2.45" fill="#f7f7f7"/><path d="M0.6,2.1 L5.2,0.5" stroke="#707070" stroke-width="0.9"/></pattern></defs>
<rect x="637.35" y="365.35" width="23.40" height="119.05" fill="url(#dots)" stroke="#000" stroke-width="2.5" />
<line x1="573.90" y1="339.30" x2="573.90" y2="342.90" stroke="#000" stroke-width="1.4" />
<line x1="567.30" y1="339.30" x2="580.70" y2="339.30" stroke="#000" stroke-width="1.3" />
<line x1="611.60" y1="436.00" x2="611.60" y2="439.00" stroke="#000" stroke-width="1.4" />
<line x1="605.00" y1="436.00" x2="618.10" y2="436.00" stroke="#000" stroke-width="1.3" />
<line x1="649.10" y1="362.40" x2="649.10" y2="364.10" stroke="#000" stroke-width="1.4" />
<line x1="642.90" y1="362.40" x2="655.40" y2="362.40" stroke="#000" stroke-width="1.3" />
<line x1="574.00" y1="484.40" x2="574.00" y2="492.00" stroke="#000" stroke-width="2.5" />
<line x1="611.80" y1="484.40" x2="611.80" y2="492.00" stroke="#000" stroke-width="2.5" />
<line x1="649.40" y1="484.40" x2="649.40" y2="492.00" stroke="#000" stroke-width="2.5" />
<polyline points="573.4,318.4 573.4,307 649.2,307 649.2,318.4" fill="none" stroke="#000" stroke-width="2.5"/>
<polyline points="611.5,354.6 611.5,341.2 649.2,341.2 649.2,354.6" fill="none" stroke="#000" stroke-width="2.5"/>
<path d="M607.55 291.90V298.80M603.80 293.62L611.30 297.08M603.80 297.08L611.30 293.62" stroke="#000" stroke-width="1.6" fill="none"/>
<path d="M617.45 291.90V298.80M613.70 293.62L621.20 297.08M613.70 297.08L621.20 293.62" stroke="#000" stroke-width="1.6" fill="none"/>
<path d="M622.00 326.90V333.50M618.40 328.55L625.60 331.85M618.40 331.85L625.60 328.55" stroke="#000" stroke-width="1.6" fill="none"/>
<path d="M631.70 326.90V333.50M628.10 328.55L635.30 331.85M628.10 331.85L635.30 328.55" stroke="#000" stroke-width="1.6" fill="none"/>
<path d="M641.40 326.90V333.50M637.80 328.55L645.00 331.85M637.80 331.85L645.00 328.55" stroke="#000" stroke-width="1.6" fill="none"/>
<text transform="translate(512.2,391) rotate(-90)" font-family="Liberation Sans" font-size="15.5" font-weight="bold" text-anchor="middle">Proliferation Index (%)</text>
<text transform="translate(578.2,505.8) rotate(-45)" font-family="Liberation Sans" font-size="14.2" font-weight="bold" text-anchor="end">Control</text>
<text transform="translate(615.7,505.8) rotate(-45)" font-family="Liberation Sans" font-size="14.2" font-weight="bold" text-anchor="end">PC-3-exos</text>
<text transform="translate(653.2,505.8) rotate(-45)" font-family="Liberation Sans" font-size="14.2" font-weight="bold" text-anchor="end">GW4869</text>
<rect x="35.50" y="588.80" width="190.50" height="191.50" fill="none" stroke="#555" stroke-width="1.3" />
<path d="M141.6 708.8h1.1v1.1h-1.1zM134.3 706.1h1.1v1.1h-1.1zM128.9 681.4h1.1v1.1h-1.1zM144.8 698.2h1.1v1.1h-1.1zM134.5 694.4h1.1v1.1h-1.1zM133.8 688.3h1.1v1.1h-1.1zM121.9 689.2h1.1v1.1h-1.1zM135.5 705.0h1.1v1.1h-1.1zM138.2 684.7h1.1v1.1h-1.1zM141.2 722.4h1.1v1.1h-1.1zM138.1 700.9h1.1v1.1h-1.1zM131.4 673.4h1.1v1.1h-1.1zM138.4 682.6h1.1v1.1h-1.1zM124.8 684.7h1.1v1.1h-1.1zM127.2 694.6h1.1v1.1h-1.1zM134.9 712.0h1.1v1.1h-1.1zM137.7 705.6h1.1v1.1h-1.1zM132.1 686.8h1.1v1.1h-1.1zM125.0 694.1h1.1v1.1h-1.1zM142.8 699.0h1.1v1.1h-1.1zM129.9 689.7h1.1v1.1h-1.1zM118.9 694.6h1.1v1.1h-1.1zM123.9 690.4h1.1v1.1h-1.1zM121.0 693.0h1.1v1.1h-1.1zM130.3 696.9h1.1v1.1h-1.1zM135.1 694.7h1.1v1.1h-1.1zM139.4 677.1h1.1v1.1h-1.1zM136.9 684.3h1.1v1.1h-1.1zM132.8 696.4h1.1v1.1h-1.1zM131.2 692.3h1.1v1.1h-1.1zM129.4 695.8h1.1v1.1h-1.1zM127.0 691.8h1.1v1.1h-1.1zM133.2 695.6h1.1v1.1h-1.1zM137.7 706.3h1.1v1.1h-1.1zM137.4 678.8h1.1v1.1h-1.1zM134.1 713.2h1.1v1.1h-1.1zM130.9 688.8h1.1v1.1h-1.1zM138.1 704.8h1.1v1.1h-1.1zM133.3 709.8h1.1v1.1h-1.1zM130.2 701.5h1.1v1.1h-1.1zM143.6 707.9h1.1v1.1h-1.1zM136.4 707.5h1.1v1.1h-1.1zM133.9 689.5h1.1v1.1h-1.1zM131.5 684.3h1.1v1.1h-1.1zM144.2 692.4h1.1v1.1h-1.1zM135.8 708.5h1.1v1.1h-1.1zM130.2 691.2h1.1v1.1h-1.1zM138.8 697.9h1.1v1.1h-1.1zM137.8 689.3h1.1v1.1h-1.1zM129.7 715.9h1.1v1.1h-1.1zM135.6 693.2h1.1v1.1h-1.1zM141.4 692.1h1.1v1.1h-1.1zM144.5 676.1h1.1v1.1h-1.1zM129.1 694.5h1.1v1.1h-1.1zM136.8 708.7h1.1v1.1h-1.1zM135.4 699.2h1.1v1.1h-1.1zM132.7 705.7h1.1v1.1h-1.1zM142.7 680.3h1.1v1.1h-1.1zM136.0 703.1h1.1v1.1h-1.1zM135.5 686.5h1.1v1.1h-1.1zM129.7 678.9h1.1v1.1h-1.1zM128.2 711.3h1.1v1.1h-1.1zM118.6 697.7h1.1v1.1h-1.1zM137.7 691.5h1.1v1.1h-1.1zM126.0 684.3h1.1v1.1h-1.1zM132.0 701.6h1.1v1.1h-1.1zM123.7 680.7h1.1v1.1h-1.1zM139.1 704.0h1.1v1.1h-1.1zM136.6 695.9h1.1v1.1h-1.1zM136.9 677.7h1.1v1.1h-1.1zM127.3 684.0h1.1v1.1h-1.1zM133.3 714.9h1.1v1.1h-1.1zM139.9 690.2h1.1v1.1h-1.1zM136.9 677.7h1.1v1.1h-1.1zM135.7 693.2h1.1v1.1h-1.1zM140.2 694.3h1.1v1.1h-1.1zM136.5 701.1h1.1v1.1h-1.1zM144.2 707.6h1.1v1.1h-1.1zM146.3 691.1h1.1v1.1h-1.1zM134.4 705.8h1.1v1.1h-1.1zM139.1 694.1h1.1v1.1h-1.1zM147.0 682.0h1.1v1.1h-1.1zM137.4 699.3h1.1v1.1h-1.1zM141.3 693.5h1.1v1.1h-1.1zM132.3 688.7h1.1v1.1h-1.1zM131.5 721.7h1.1v1.1h-1.1zM129.9 683.9h1.1v1.1h-1.1zM130.9 700.2h1.1v1.1h-1.1zM130.2 711.8h1.1v1.1h-1.1zM132.9 703.1h1.1v1.1h-1.1zM128.0 688.9h1.1v1.1h-1.1zM131.5 689.1h1.1v1.1h-1.1zM123.6 695.8h1.1v1.1h-1.1zM124.7 694.8h1.1v1.1h-1.1zM137.7 693.2h1.1v1.1h-1.1zM144.7 693.3h1.1v1.1h-1.1zM139.7 702.1h1.1v1.1h-1.1zM131.4 714.4h1.1v1.1h-1.1zM135.7 693.7h1.1v1.1h-1.1zM142.6 685.2h1.1v1.1h-1.1zM139.4 681.8h1.1v1.1h-1.1zM137.1 704.1h1.1v1.1h-1.1zM132.7 681.2h1.1v1.1h-1.1zM147.5 704.6h1.1v1.1h-1.1zM128.0 691.4h1.1v1.1h-1.1zM129.2 697.8h1.1v1.1h-1.1zM134.4 697.1h1.1v1.1h-1.1zM128.3 701.2h1.1v1.1h-1.1zM133.9 712.8h1.1v1.1h-1.1zM128.3 702.6h1.1v1.1h-1.1zM141.2 695.5h1.1v1.1h-1.1zM131.0 686.8h1.1v1.1h-1.1zM134.0 688.0h1.1v1.1h-1.1zM130.6 695.9h1.1v1.1h-1.1zM123.4 687.3h1.1v1.1h-1.1zM133.2 708.5h1.1v1.1h-1.1zM140.4 699.9h1.1v1.1h-1.1zM139.5 708.6h1.1v1.1h-1.1zM131.3 708.5h1.1v1.1h-1.1zM128.6 705.7h1.1v1.1h-1.1zM125.5 684.5h1.1v1.1h-1.1zM141.4 691.9h1.1v1.1h-1.1zM134.5 701.7h1.1v1.1h-1.1zM134.6 691.9h1.1v1.1h-1.1zM133.5 686.4h1.1v1.1h-1.1zM139.0 708.2h1.1v1.1h-1.1zM144.4 693.0h1.1v1.1h-1.1zM133.2 715.9h1.1v1.1h-1.1zM140.6 707.6h1.1v1.1h-1.1zM129.9 682.6h1.1v1.1h-1.1zM147.5 683.4h1.1v1.1h-1.1zM136.4 685.4h1.1v1.1h-1.1zM133.2 699.4h1.1v1.1h-1.1zM137.2 693.8h1.1v1.1h-1.1zM132.2 697.6h1.1v1.1h-1.1zM134.6 710.8h1.1v1.1h-1.1zM129.3 685.7h1.1v1.1h-1.1zM135.7 702.5h1.1v1.1h-1.1zM133.4 707.5h1.1v1.1h-1.1zM130.6 679.6h1.1v1.1h-1.1zM141.3 693.0h1.1v1.1h-1.1zM140.3 682.2h1.1v1.1h-1.1zM135.5 690.5h1.1v1.1h-1.1zM120.8 688.1h1.1v1.1h-1.1zM137.4 694.1h1.1v1.1h-1.1zM130.2 691.4h1.1v1.1h-1.1zM130.3 704.1h1.1v1.1h-1.1zM128.9 698.7h1.1v1.1h-1.1zM126.7 704.8h1.1v1.1h-1.1zM126.6 695.7h1.1v1.1h-1.1zM134.6 695.8h1.1v1.1h-1.1zM125.2 683.6h1.1v1.1h-1.1zM118.3 693.1h1.1v1.1h-1.1zM137.4 686.6h1.1v1.1h-1.1zM129.6 687.0h1.1v1.1h-1.1zM140.0 695.2h1.1v1.1h-1.1zM125.4 705.6h1.1v1.1h-1.1zM133.3 674.8h1.1v1.1h-1.1zM125.4 695.7h1.1v1.1h-1.1zM129.9 684.2h1.1v1.1h-1.1zM129.1 685.2h1.1v1.1h-1.1zM136.7 677.0h1.1v1.1h-1.1zM137.5 683.1h1.1v1.1h-1.1zM133.7 709.8h1.1v1.1h-1.1zM131.5 693.5h1.1v1.1h-1.1zM125.4 694.0h1.1v1.1h-1.1zM129.6 706.0h1.1v1.1h-1.1zM121.2 694.0h1.1v1.1h-1.1zM127.6 703.4h1.1v1.1h-1.1zM135.5 701.3h1.1v1.1h-1.1zM134.2 698.7h1.1v1.1h-1.1zM129.3 693.7h1.1v1.1h-1.1zM134.2 689.2h1.1v1.1h-1.1zM132.2 678.0h1.1v1.1h-1.1zM131.4 690.6h1.1v1.1h-1.1zM139.1 709.8h1.1v1.1h-1.1zM132.6 700.9h1.1v1.1h-1.1zM131.7 677.4h1.1v1.1h-1.1zM140.7 687.2h1.1v1.1h-1.1zM126.0 701.7h1.1v1.1h-1.1zM137.3 707.4h1.1v1.1h-1.1zM140.4 693.3h1.1v1.1h-1.1zM133.5 682.2h1.1v1.1h-1.1zM133.4 686.2h1.1v1.1h-1.1zM135.0 710.1h1.1v1.1h-1.1zM133.6 699.2h1.1v1.1h-1.1zM141.5 699.4h1.1v1.1h-1.1zM134.8 697.5h1.1v1.1h-1.1zM140.1 672.5h1.1v1.1h-1.1zM128.7 710.1h1.1v1.1h-1.1zM133.6 691.0h1.1v1.1h-1.1zM129.1 695.3h1.1v1.1h-1.1zM135.7 712.5h1.1v1.1h-1.1zM131.2 691.8h1.1v1.1h-1.1zM130.9 706.2h1.1v1.1h-1.1zM136.2 694.9h1.1v1.1h-1.1zM137.5 688.5h1.1v1.1h-1.1zM123.7 684.7h1.1v1.1h-1.1zM141.3 684.0h1.1v1.1h-1.1zM133.5 692.2h1.1v1.1h-1.1zM138.7 702.7h1.1v1.1h-1.1zM135.4 692.6h1.1v1.1h-1.1zM128.6 683.1h1.1v1.1h-1.1zM139.1 683.4h1.1v1.1h-1.1zM124.6 676.6h1.1v1.1h-1.1zM134.6 698.3h1.1v1.1h-1.1zM130.2 690.3h1.1v1.1h-1.1zM128.3 690.7h1.1v1.1h-1.1zM131.1 702.8h1.1v1.1h-1.1zM138.7 688.2h1.1v1.1h-1.1zM132.4 679.7h1.1v1.1h-1.1zM134.6 687.8h1.1v1.1h-1.1zM141.7 712.3h1.1v1.1h-1.1zM136.9 685.1h1.1v1.1h-1.1zM136.1 694.7h1.1v1.1h-1.1zM131.8 696.7h1.1v1.1h-1.1zM131.5 676.0h1.1v1.1h-1.1zM132.1 694.4h1.1v1.1h-1.1zM135.7 696.3h1.1v1.1h-1.1zM137.3 678.4h1.1v1.1h-1.1zM132.6 704.4h1.1v1.1h-1.1zM129.9 692.0h1.1v1.1h-1.1zM137.4 671.8h1.1v1.1h-1.1zM140.8 703.4h1.1v1.1h-1.1zM143.2 693.9h1.1v1.1h-1.1zM132.4 683.8h1.1v1.1h-1.1zM129.9 703.4h1.1v1.1h-1.1zM130.4 705.3h1.1v1.1h-1.1zM137.7 682.3h1.1v1.1h-1.1zM133.0 703.5h1.1v1.1h-1.1zM134.4 683.8h1.1v1.1h-1.1zM141.7 711.9h1.1v1.1h-1.1zM133.5 698.2h1.1v1.1h-1.1zM122.4 697.7h1.1v1.1h-1.1zM144.4 691.7h1.1v1.1h-1.1zM143.2 687.0h1.1v1.1h-1.1zM127.4 693.2h1.1v1.1h-1.1zM136.3 680.5h1.1v1.1h-1.1zM126.0 712.3h1.1v1.1h-1.1zM129.5 701.1h1.1v1.1h-1.1zM131.8 683.7h1.1v1.1h-1.1zM136.8 704.0h1.1v1.1h-1.1zM136.9 696.3h1.1v1.1h-1.1zM134.2 699.5h1.1v1.1h-1.1zM130.0 686.4h1.1v1.1h-1.1zM144.1 703.2h1.1v1.1h-1.1zM139.6 711.8h1.1v1.1h-1.1zM127.3 708.6h1.1v1.1h-1.1zM132.1 714.6h1.1v1.1h-1.1zM142.2 680.0h1.1v1.1h-1.1zM131.4 684.4h1.1v1.1h-1.1zM137.1 680.4h1.1v1.1h-1.1zM134.3 678.7h1.1v1.1h-1.1zM128.9 695.8h1.1v1.1h-1.1zM136.6 682.9h1.1v1.1h-1.1zM138.1 686.5h1.1v1.1h-1.1zM131.9 708.9h1.1v1.1h-1.1zM137.9 700.5h1.1v1.1h-1.1zM134.2 669.8h1.1v1.1h-1.1zM128.2 689.7h1.1v1.1h-1.1zM124.7 690.4h1.1v1.1h-1.1zM128.0 702.3h1.1v1.1h-1.1zM132.4 705.7h1.1v1.1h-1.1zM120.2 687.0h1.1v1.1h-1.1zM122.9 671.8h1.1v1.1h-1.1zM129.7 691.3h1.1v1.1h-1.1zM145.3 687.2h1.1v1.1h-1.1zM144.6 682.1h1.1v1.1h-1.1zM129.9 702.1h1.1v1.1h-1.1zM128.1 706.3h1.1v1.1h-1.1zM131.4 704.0h1.1v1.1h-1.1zM136.5 701.5h1.1v1.1h-1.1zM130.7 690.8h1.1v1.1h-1.1zM134.2 706.4h1.1v1.1h-1.1zM132.4 685.6h1.1v1.1h-1.1zM125.8 696.3h1.1v1.1h-1.1zM143.1 692.3h1.1v1.1h-1.1zM144.3 713.0h1.1v1.1h-1.1zM138.6 696.2h1.1v1.1h-1.1zM139.8 692.2h1.1v1.1h-1.1zM135.7 691.5h1.1v1.1h-1.1zM141.4 694.7h1.1v1.1h-1.1zM126.9 713.9h1.1v1.1h-1.1zM140.1 702.3h1.1v1.1h-1.1zM133.2 690.8h1.1v1.1h-1.1zM133.4 705.7h1.1v1.1h-1.1zM140.6 682.0h1.1v1.1h-1.1zM139.2 699.9h1.1v1.1h-1.1zM132.7 705.9h1.1v1.1h-1.1zM142.5 707.4h1.1v1.1h-1.1zM125.5 708.5h1.1v1.1h-1.1zM128.8 693.7h1.1v1.1h-1.1zM139.0 694.6h1.1v1.1h-1.1zM140.0 687.7h1.1v1.1h-1.1zM134.8 686.4h1.1v1.1h-1.1zM151.0 696.5h1.1v1.1h-1.1zM147.4 683.8h1.1v1.1h-1.1zM128.8 692.4h1.1v1.1h-1.1zM136.7 689.3h1.1v1.1h-1.1zM133.0 685.6h1.1v1.1h-1.1zM136.9 706.5h1.1v1.1h-1.1zM141.1 692.1h1.1v1.1h-1.1zM137.9 702.9h1.1v1.1h-1.1zM130.3 702.9h1.1v1.1h-1.1zM131.8 691.3h1.1v1.1h-1.1zM132.2 684.0h1.1v1.1h-1.1zM130.6 707.9h1.1v1.1h-1.1zM138.9 676.5h1.1v1.1h-1.1zM129.6 695.3h1.1v1.1h-1.1zM126.2 691.4h1.1v1.1h-1.1zM124.1 686.9h1.1v1.1h-1.1zM135.6 695.1h1.1v1.1h-1.1zM132.8 692.4h1.1v1.1h-1.1zM127.8 670.0h1.1v1.1h-1.1zM133.1 699.6h1.1v1.1h-1.1zM135.5 680.7h1.1v1.1h-1.1zM142.3 702.1h1.1v1.1h-1.1zM137.5 696.0h1.1v1.1h-1.1zM141.7 689.5h1.1v1.1h-1.1zM132.6 688.1h1.1v1.1h-1.1zM128.7 715.8h1.1v1.1h-1.1zM137.1 682.2h1.1v1.1h-1.1zM125.8 683.1h1.1v1.1h-1.1zM131.2 683.1h1.1v1.1h-1.1zM128.2 690.4h1.1v1.1h-1.1zM140.7 687.0h1.1v1.1h-1.1zM140.7 698.8h1.1v1.1h-1.1zM135.8 704.9h1.1v1.1h-1.1zM134.5 702.6h1.1v1.1h-1.1zM129.0 696.6h1.1v1.1h-1.1zM128.9 704.9h1.1v1.1h-1.1zM124.3 689.9h1.1v1.1h-1.1zM134.0 692.8h1.1v1.1h-1.1zM133.2 690.0h1.1v1.1h-1.1zM141.6 710.2h1.1v1.1h-1.1zM140.3 679.5h1.1v1.1h-1.1zM137.0 691.4h1.1v1.1h-1.1zM130.1 701.9h1.1v1.1h-1.1zM131.0 690.5h1.1v1.1h-1.1zM136.8 682.7h1.1v1.1h-1.1zM146.3 688.7h1.1v1.1h-1.1zM129.4 703.4h1.1v1.1h-1.1zM125.2 699.2h1.1v1.1h-1.1zM123.2 705.4h1.1v1.1h-1.1zM133.1 693.1h1.1v1.1h-1.1zM142.8 698.5h1.1v1.1h-1.1zM129.3 694.5h1.1v1.1h-1.1zM146.5 692.9h1.1v1.1h-1.1zM137.8 678.3h1.1v1.1h-1.1zM136.0 688.4h1.1v1.1h-1.1zM132.5 699.4h1.1v1.1h-1.1zM138.6 690.9h1.1v1.1h-1.1zM129.9 706.4h1.1v1.1h-1.1zM134.8 691.8h1.1v1.1h-1.1zM131.2 700.6h1.1v1.1h-1.1zM126.6 700.3h1.1v1.1h-1.1zM132.6 694.6h1.1v1.1h-1.1zM137.1 691.3h1.1v1.1h-1.1zM129.5 695.7h1.1v1.1h-1.1zM135.6 694.7h1.1v1.1h-1.1zM126.8 707.1h1.1v1.1h-1.1zM134.0 690.7h1.1v1.1h-1.1zM142.4 692.4h1.1v1.1h-1.1zM128.5 697.6h1.1v1.1h-1.1zM135.8 679.9h1.1v1.1h-1.1zM128.1 699.3h1.1v1.1h-1.1zM143.9 686.9h1.1v1.1h-1.1zM137.6 697.7h1.1v1.1h-1.1zM129.6 680.3h1.1v1.1h-1.1zM142.7 716.1h1.1v1.1h-1.1zM135.5 694.4h1.1v1.1h-1.1zM128.5 683.4h1.1v1.1h-1.1zM139.7 669.6h1.1v1.1h-1.1zM131.9 687.6h1.1v1.1h-1.1zM136.5 673.0h1.1v1.1h-1.1zM137.8 706.3h1.1v1.1h-1.1zM125.7 702.4h1.1v1.1h-1.1zM133.1 680.4h1.1v1.1h-1.1zM130.6 685.3h1.1v1.1h-1.1zM135.0 690.3h1.1v1.1h-1.1zM129.2 702.9h1.1v1.1h-1.1zM119.4 698.5h1.1v1.1h-1.1zM148.2 696.8h1.1v1.1h-1.1zM133.5 704.7h1.1v1.1h-1.1zM143.1 693.7h1.1v1.1h-1.1zM128.6 692.8h1.1v1.1h-1.1zM131.6 697.8h1.1v1.1h-1.1zM131.7 699.1h1.1v1.1h-1.1zM132.5 699.2h1.1v1.1h-1.1zM139.9 681.3h1.1v1.1h-1.1zM133.9 686.5h1.1v1.1h-1.1zM134.3 703.8h1.1v1.1h-1.1zM134.4 701.3h1.1v1.1h-1.1zM130.9 693.5h1.1v1.1h-1.1zM139.5 686.0h1.1v1.1h-1.1zM131.7 699.0h1.1v1.1h-1.1zM143.0 702.8h1.1v1.1h-1.1zM134.4 685.7h1.1v1.1h-1.1zM132.1 692.3h1.1v1.1h-1.1zM138.2 698.2h1.1v1.1h-1.1zM132.7 708.6h1.1v1.1h-1.1zM128.0 709.2h1.1v1.1h-1.1zM133.2 686.5h1.1v1.1h-1.1zM143.3 704.4h1.1v1.1h-1.1zM130.1 696.8h1.1v1.1h-1.1zM128.1 687.8h1.1v1.1h-1.1zM134.4 698.3h1.1v1.1h-1.1zM130.5 710.9h1.1v1.1h-1.1zM132.7 691.8h1.1v1.1h-1.1zM131.7 694.8h1.1v1.1h-1.1zM131.8 678.0h1.1v1.1h-1.1zM137.1 692.6h1.1v1.1h-1.1zM137.3 710.4h1.1v1.1h-1.1zM127.0 696.5h1.1v1.1h-1.1zM129.2 684.2h1.1v1.1h-1.1zM123.7 694.7h1.1v1.1h-1.1zM135.2 685.1h1.1v1.1h-1.1zM143.0 705.3h1.1v1.1h-1.1zM136.8 712.2h1.1v1.1h-1.1zM145.2 685.5h1.1v1.1h-1.1zM133.8 692.5h1.1v1.1h-1.1zM121.6 703.5h1.1v1.1h-1.1zM136.9 705.5h1.1v1.1h-1.1zM136.2 703.5h1.1v1.1h-1.1zM144.0 693.1h1.1v1.1h-1.1zM139.6 689.1h1.1v1.1h-1.1zM135.9 699.8h1.1v1.1h-1.1zM134.1 697.7h1.1v1.1h-1.1zM144.9 693.9h1.1v1.1h-1.1zM144.3 694.3h1.1v1.1h-1.1zM131.2 687.4h1.1v1.1h-1.1zM121.9 699.1h1.1v1.1h-1.1zM139.8 689.2h1.1v1.1h-1.1zM125.4 685.1h1.1v1.1h-1.1zM140.9 682.5h1.1v1.1h-1.1zM117.2 712.7h1.1v1.1h-1.1zM132.1 692.9h1.1v1.1h-1.1zM146.3 696.8h1.1v1.1h-1.1zM129.8 703.8h1.1v1.1h-1.1zM129.0 689.6h1.1v1.1h-1.1zM137.9 686.5h1.1v1.1h-1.1zM132.8 700.9h1.1v1.1h-1.1zM136.1 698.6h1.1v1.1h-1.1zM124.3 694.0h1.1v1.1h-1.1zM139.0 684.6h1.1v1.1h-1.1zM141.7 700.2h1.1v1.1h-1.1zM133.1 719.9h1.1v1.1h-1.1zM127.7 689.1h1.1v1.1h-1.1zM140.7 714.6h1.1v1.1h-1.1zM138.4 698.9h1.1v1.1h-1.1zM134.2 701.5h1.1v1.1h-1.1zM125.6 696.9h1.1v1.1h-1.1zM145.0 676.5h1.1v1.1h-1.1zM138.8 698.8h1.1v1.1h-1.1zM136.4 691.1h1.1v1.1h-1.1zM128.5 706.9h1.1v1.1h-1.1zM130.8 709.5h1.1v1.1h-1.1zM141.6 698.2h1.1v1.1h-1.1zM138.5 687.8h1.1v1.1h-1.1zM132.1 692.5h1.1v1.1h-1.1zM135.1 698.0h1.1v1.1h-1.1zM127.3 716.1h1.1v1.1h-1.1zM136.9 716.7h1.1v1.1h-1.1zM135.9 694.7h1.1v1.1h-1.1zM133.8 694.6h1.1v1.1h-1.1zM143.2 703.9h1.1v1.1h-1.1zM130.8 693.9h1.1v1.1h-1.1zM129.2 695.5h1.1v1.1h-1.1zM132.7 687.7h1.1v1.1h-1.1zM137.1 695.6h1.1v1.1h-1.1zM127.6 674.9h1.1v1.1h-1.1zM133.2 686.6h1.1v1.1h-1.1zM127.0 702.1h1.1v1.1h-1.1zM144.4 689.7h1.1v1.1h-1.1zM128.3 691.5h1.1v1.1h-1.1zM131.5 683.7h1.1v1.1h-1.1zM128.6 698.3h1.1v1.1h-1.1zM131.5 684.7h1.1v1.1h-1.1zM137.1 682.8h1.1v1.1h-1.1zM131.7 707.0h1.1v1.1h-1.1zM123.3 700.3h1.1v1.1h-1.1zM126.5 700.1h1.1v1.1h-1.1zM131.9 682.4h1.1v1.1h-1.1zM127.2 700.2h1.1v1.1h-1.1zM134.7 693.8h1.1v1.1h-1.1zM130.6 705.8h1.1v1.1h-1.1zM146.6 714.5h1.1v1.1h-1.1zM140.3 705.5h1.1v1.1h-1.1zM131.4 690.7h1.1v1.1h-1.1zM133.4 689.2h1.1v1.1h-1.1zM127.3 694.7h1.1v1.1h-1.1zM132.9 704.6h1.1v1.1h-1.1zM123.8 699.6h1.1v1.1h-1.1zM138.6 716.2h1.1v1.1h-1.1zM128.8 686.0h1.1v1.1h-1.1zM143.6 694.0h1.1v1.1h-1.1zM143.1 695.1h1.1v1.1h-1.1zM126.3 695.2h1.1v1.1h-1.1zM129.7 703.8h1.1v1.1h-1.1zM129.7 694.3h1.1v1.1h-1.1zM130.5 691.0h1.1v1.1h-1.1zM134.4 696.4h1.1v1.1h-1.1zM140.0 700.7h1.1v1.1h-1.1zM140.8 683.5h1.1v1.1h-1.1zM138.8 694.5h1.1v1.1h-1.1zM134.8 699.4h1.1v1.1h-1.1zM131.6 694.6h1.1v1.1h-1.1zM142.8 700.8h1.1v1.1h-1.1zM135.2 695.5h1.1v1.1h-1.1zM135.4 701.2h1.1v1.1h-1.1zM130.5 692.7h1.1v1.1h-1.1zM137.3 714.2h1.1v1.1h-1.1zM128.8 691.4h1.1v1.1h-1.1zM128.6 682.6h1.1v1.1h-1.1zM139.8 713.5h1.1v1.1h-1.1zM137.6 676.3h1.1v1.1h-1.1zM133.4 703.5h1.1v1.1h-1.1zM125.4 701.0h1.1v1.1h-1.1zM137.2 699.3h1.1v1.1h-1.1zM144.6 710.6h1.1v1.1h-1.1zM135.4 702.7h1.1v1.1h-1.1zM134.5 701.3h1.1v1.1h-1.1zM123.8 700.5h1.1v1.1h-1.1zM126.3 682.4h1.1v1.1h-1.1zM130.8 698.2h1.1v1.1h-1.1zM143.2 680.5h1.1v1.1h-1.1zM136.1 697.4h1.1v1.1h-1.1zM139.6 687.3h1.1v1.1h-1.1zM142.9 688.3h1.1v1.1h-1.1zM129.6 697.4h1.1v1.1h-1.1zM138.0 705.7h1.1v1.1h-1.1zM133.7 689.8h1.1v1.1h-1.1zM131.4 690.5h1.1v1.1h-1.1zM139.6 711.5h1.1v1.1h-1.1zM128.2 700.2h1.1v1.1h-1.1zM143.7 685.8h1.1v1.1h-1.1zM137.7 697.6h1.1v1.1h-1.1zM143.3 693.6h1.1v1.1h-1.1zM125.8 714.1h1.1v1.1h-1.1zM142.0 681.3h1.1v1.1h-1.1zM128.8 684.9h1.1v1.1h-1.1zM144.2 710.9h1.1v1.1h-1.1zM133.5 708.0h1.1v1.1h-1.1zM135.5 701.9h1.1v1.1h-1.1zM131.9 703.5h1.1v1.1h-1.1zM147.0 701.9h1.1v1.1h-1.1zM126.6 709.7h1.1v1.1h-1.1zM135.2 703.1h1.1v1.1h-1.1zM140.1 688.1h1.1v1.1h-1.1zM128.9 692.4h1.1v1.1h-1.1zM129.0 689.8h1.1v1.1h-1.1zM130.9 703.0h1.1v1.1h-1.1zM137.1 710.5h1.1v1.1h-1.1zM135.4 700.5h1.1v1.1h-1.1zM139.5 697.7h1.1v1.1h-1.1zM129.7 677.8h1.1v1.1h-1.1zM132.3 690.1h1.1v1.1h-1.1zM125.2 686.8h1.1v1.1h-1.1zM135.5 694.8h1.1v1.1h-1.1zM129.8 704.0h1.1v1.1h-1.1zM138.9 698.5h1.1v1.1h-1.1zM117.5 681.8h1.1v1.1h-1.1zM140.0 687.1h1.1v1.1h-1.1zM128.6 679.2h1.1v1.1h-1.1zM136.6 702.7h1.1v1.1h-1.1zM136.6 688.7h1.1v1.1h-1.1zM121.0 696.8h1.1v1.1h-1.1zM133.3 692.8h1.1v1.1h-1.1zM138.0 692.1h1.1v1.1h-1.1zM130.5 684.9h1.1v1.1h-1.1zM128.1 686.0h1.1v1.1h-1.1zM131.2 702.7h1.1v1.1h-1.1zM124.3 687.1h1.1v1.1h-1.1zM124.6 700.6h1.1v1.1h-1.1zM134.9 710.4h1.1v1.1h-1.1zM134.4 692.3h1.1v1.1h-1.1zM126.8 688.7h1.1v1.1h-1.1zM136.5 683.3h1.1v1.1h-1.1zM141.5 696.0h1.1v1.1h-1.1zM134.3 689.3h1.1v1.1h-1.1zM142.9 699.9h1.1v1.1h-1.1zM126.7 700.5h1.1v1.1h-1.1zM133.7 698.9h1.1v1.1h-1.1zM132.5 699.4h1.1v1.1h-1.1zM141.3 674.5h1.1v1.1h-1.1zM137.8 693.9h1.1v1.1h-1.1zM138.5 695.4h1.1v1.1h-1.1zM142.0 700.0h1.1v1.1h-1.1zM151.9 692.6h1.1v1.1h-1.1zM133.2 724.2h1.1v1.1h-1.1zM139.6 714.0h1.1v1.1h-1.1zM132.0 706.3h1.1v1.1h-1.1zM127.8 698.1h1.1v1.1h-1.1zM124.3 679.3h1.1v1.1h-1.1zM150.0 696.1h1.1v1.1h-1.1zM128.7 704.5h1.1v1.1h-1.1zM130.1 688.1h1.1v1.1h-1.1zM124.7 701.4h1.1v1.1h-1.1zM134.1 690.8h1.1v1.1h-1.1zM131.2 697.1h1.1v1.1h-1.1zM140.4 693.4h1.1v1.1h-1.1zM142.6 686.4h1.1v1.1h-1.1zM131.7 691.5h1.1v1.1h-1.1zM125.3 689.1h1.1v1.1h-1.1zM138.1 692.0h1.1v1.1h-1.1zM123.7 702.1h1.1v1.1h-1.1zM140.3 698.5h1.1v1.1h-1.1zM128.1 697.4h1.1v1.1h-1.1zM128.9 692.4h1.1v1.1h-1.1zM134.1 684.2h1.1v1.1h-1.1zM143.4 715.1h1.1v1.1h-1.1zM136.1 712.1h1.1v1.1h-1.1zM123.7 700.5h1.1v1.1h-1.1zM131.1 700.9h1.1v1.1h-1.1zM140.8 696.0h1.1v1.1h-1.1zM134.2 686.9h1.1v1.1h-1.1zM130.9 709.7h1.1v1.1h-1.1zM128.5 695.7h1.1v1.1h-1.1zM127.9 692.2h1.1v1.1h-1.1zM140.6 674.1h1.1v1.1h-1.1zM128.7 683.5h1.1v1.1h-1.1zM129.4 689.2h1.1v1.1h-1.1zM129.1 702.3h1.1v1.1h-1.1zM134.7 701.3h1.1v1.1h-1.1zM134.8 711.5h1.1v1.1h-1.1zM134.8 686.5h1.1v1.1h-1.1zM131.6 702.5h1.1v1.1h-1.1zM131.5 686.8h1.1v1.1h-1.1zM137.2 688.8h1.1v1.1h-1.1zM127.7 703.8h1.1v1.1h-1.1zM137.0 703.4h1.1v1.1h-1.1zM141.8 691.8h1.1v1.1h-1.1zM130.4 689.0h1.1v1.1h-1.1zM132.9 704.8h1.1v1.1h-1.1zM139.2 700.4h1.1v1.1h-1.1zM125.8 691.8h1.1v1.1h-1.1zM134.6 689.7h1.1v1.1h-1.1zM126.9 691.5h1.1v1.1h-1.1zM147.4 691.2h1.1v1.1h-1.1zM142.4 716.1h1.1v1.1h-1.1zM137.2 694.0h1.1v1.1h-1.1zM136.5 698.7h1.1v1.1h-1.1zM136.8 680.8h1.1v1.1h-1.1zM137.9 701.8h1.1v1.1h-1.1zM135.1 706.1h1.1v1.1h-1.1zM136.6 693.1h1.1v1.1h-1.1zM131.7 692.9h1.1v1.1h-1.1zM142.0 710.3h1.1v1.1h-1.1zM140.2 699.3h1.1v1.1h-1.1zM141.2 685.1h1.1v1.1h-1.1zM135.0 694.5h1.1v1.1h-1.1zM144.3 699.6h1.1v1.1h-1.1zM137.5 678.4h1.1v1.1h-1.1zM138.8 701.1h1.1v1.1h-1.1zM131.1 665.2h1.1v1.1h-1.1zM129.8 683.5h1.1v1.1h-1.1zM131.0 701.4h1.1v1.1h-1.1zM130.0 699.8h1.1v1.1h-1.1zM135.1 698.4h1.1v1.1h-1.1zM142.6 696.8h1.1v1.1h-1.1zM129.2 686.8h1.1v1.1h-1.1zM138.5 678.9h1.1v1.1h-1.1zM125.8 702.1h1.1v1.1h-1.1zM139.9 683.7h1.1v1.1h-1.1zM142.4 685.8h1.1v1.1h-1.1zM140.3 698.1h1.1v1.1h-1.1zM127.3 693.2h1.1v1.1h-1.1zM136.7 689.0h1.1v1.1h-1.1zM137.6 700.7h1.1v1.1h-1.1zM136.5 695.6h1.1v1.1h-1.1zM140.3 693.8h1.1v1.1h-1.1zM132.5 692.4h1.1v1.1h-1.1zM128.4 674.7h1.1v1.1h-1.1zM129.1 692.3h1.1v1.1h-1.1zM128.3 693.4h1.1v1.1h-1.1zM132.6 696.3h1.1v1.1h-1.1zM138.0 688.2h1.1v1.1h-1.1zM143.9 707.7h1.1v1.1h-1.1zM133.2 691.6h1.1v1.1h-1.1zM137.9 691.3h1.1v1.1h-1.1zM129.0 687.0h1.1v1.1h-1.1zM133.3 696.7h1.1v1.1h-1.1zM133.2 708.0h1.1v1.1h-1.1zM132.4 726.2h1.1v1.1h-1.1zM140.7 693.0h1.1v1.1h-1.1zM134.1 700.8h1.1v1.1h-1.1zM127.5 698.5h1.1v1.1h-1.1zM126.5 694.1h1.1v1.1h-1.1zM131.7 686.5h1.1v1.1h-1.1zM129.4 688.8h1.1v1.1h-1.1zM146.0 691.6h1.1v1.1h-1.1zM133.9 713.1h1.1v1.1h-1.1zM154.6 694.5h1.1v1.1h-1.1zM126.1 700.1h1.1v1.1h-1.1zM131.8 693.7h1.1v1.1h-1.1zM125.3 691.2h1.1v1.1h-1.1zM133.1 719.1h1.1v1.1h-1.1zM132.0 693.1h1.1v1.1h-1.1zM128.3 686.7h1.1v1.1h-1.1zM139.9 690.5h1.1v1.1h-1.1zM127.3 692.6h1.1v1.1h-1.1zM141.2 698.2h1.1v1.1h-1.1zM136.1 691.9h1.1v1.1h-1.1zM131.9 683.6h1.1v1.1h-1.1zM139.3 704.3h1.1v1.1h-1.1zM137.2 689.1h1.1v1.1h-1.1zM142.0 696.8h1.1v1.1h-1.1zM128.7 696.6h1.1v1.1h-1.1zM138.2 709.9h1.1v1.1h-1.1zM127.8 681.6h1.1v1.1h-1.1zM137.5 687.8h1.1v1.1h-1.1zM148.7 679.6h1.1v1.1h-1.1zM136.2 717.5h1.1v1.1h-1.1zM134.1 709.5h1.1v1.1h-1.1zM131.9 694.4h1.1v1.1h-1.1zM142.2 685.1h1.1v1.1h-1.1zM130.9 710.2h1.1v1.1h-1.1zM146.3 694.5h1.1v1.1h-1.1zM135.2 684.6h1.1v1.1h-1.1zM141.8 708.8h1.1v1.1h-1.1zM141.0 685.3h1.1v1.1h-1.1zM132.0 694.6h1.1v1.1h-1.1zM131.4 692.3h1.1v1.1h-1.1zM129.9 685.0h1.1v1.1h-1.1zM128.1 699.9h1.1v1.1h-1.1zM134.7 681.7h1.1v1.1h-1.1zM136.3 698.8h1.1v1.1h-1.1zM128.7 686.0h1.1v1.1h-1.1zM133.5 707.7h1.1v1.1h-1.1zM135.8 691.0h1.1v1.1h-1.1zM139.5 707.3h1.1v1.1h-1.1zM145.6 687.9h1.1v1.1h-1.1zM128.1 677.3h1.1v1.1h-1.1zM125.7 699.5h1.1v1.1h-1.1zM136.3 685.8h1.1v1.1h-1.1zM141.7 697.2h1.1v1.1h-1.1zM136.0 669.9h1.1v1.1h-1.1zM136.4 685.8h1.1v1.1h-1.1zM129.0 676.9h1.1v1.1h-1.1zM136.0 696.3h1.1v1.1h-1.1zM132.1 706.0h1.1v1.1h-1.1zM140.9 679.9h1.1v1.1h-1.1zM126.7 681.0h1.1v1.1h-1.1zM121.4 677.9h1.1v1.1h-1.1zM133.1 687.2h1.1v1.1h-1.1zM136.9 687.7h1.1v1.1h-1.1zM140.8 695.3h1.1v1.1h-1.1zM135.2 689.8h1.1v1.1h-1.1zM138.1 705.4h1.1v1.1h-1.1zM139.2 684.5h1.1v1.1h-1.1zM136.6 711.4h1.1v1.1h-1.1zM133.1 701.2h1.1v1.1h-1.1zM124.7 693.8h1.1v1.1h-1.1zM136.3 696.8h1.1v1.1h-1.1zM125.9 692.8h1.1v1.1h-1.1zM148.1 696.4h1.1v1.1h-1.1zM131.0 693.4h1.1v1.1h-1.1zM136.2 707.6h1.1v1.1h-1.1zM134.0 703.8h1.1v1.1h-1.1zM135.3 695.3h1.1v1.1h-1.1zM130.0 697.4h1.1v1.1h-1.1zM140.9 687.6h1.1v1.1h-1.1zM133.9 693.1h1.1v1.1h-1.1zM138.4 696.2h1.1v1.1h-1.1zM141.5 675.2h1.1v1.1h-1.1zM136.5 692.9h1.1v1.1h-1.1zM134.7 696.1h1.1v1.1h-1.1zM134.1 706.9h1.1v1.1h-1.1zM127.8 692.8h1.1v1.1h-1.1zM137.2 704.8h1.1v1.1h-1.1zM125.5 706.8h1.1v1.1h-1.1zM125.9 685.1h1.1v1.1h-1.1zM142.2 700.8h1.1v1.1h-1.1zM129.9 700.0h1.1v1.1h-1.1zM138.0 696.7h1.1v1.1h-1.1zM146.1 689.5h1.1v1.1h-1.1zM131.3 692.4h1.1v1.1h-1.1zM132.7 695.4h1.1v1.1h-1.1zM135.2 693.9h1.1v1.1h-1.1zM135.3 692.7h1.1v1.1h-1.1zM131.1 695.9h1.1v1.1h-1.1zM125.3 688.0h1.1v1.1h-1.1zM142.5 692.4h1.1v1.1h-1.1zM139.1 698.3h1.1v1.1h-1.1zM129.3 694.3h1.1v1.1h-1.1zM125.2 685.9h1.1v1.1h-1.1zM139.3 691.8h1.1v1.1h-1.1zM129.6 691.3h1.1v1.1h-1.1zM141.1 704.0h1.1v1.1h-1.1zM135.2 691.5h1.1v1.1h-1.1zM132.8 693.3h1.1v1.1h-1.1zM140.7 687.2h1.1v1.1h-1.1zM140.2 691.4h1.1v1.1h-1.1zM140.8 685.8h1.1v1.1h-1.1zM126.6 686.4h1.1v1.1h-1.1zM136.8 699.2h1.1v1.1h-1.1zM132.6 680.0h1.1v1.1h-1.1zM124.1 711.1h1.1v1.1h-1.1zM128.8 685.1h1.1v1.1h-1.1zM134.3 689.2h1.1v1.1h-1.1zM128.3 682.5h1.1v1.1h-1.1zM136.7 685.0h1.1v1.1h-1.1zM138.0 684.4h1.1v1.1h-1.1zM139.1 696.9h1.1v1.1h-1.1zM128.4 685.3h1.1v1.1h-1.1zM137.3 690.0h1.1v1.1h-1.1zM128.5 710.1h1.1v1.1h-1.1zM141.0 696.6h1.1v1.1h-1.1zM138.5 694.7h1.1v1.1h-1.1zM134.7 695.8h1.1v1.1h-1.1zM132.1 691.1h1.1v1.1h-1.1zM136.8 717.0h1.1v1.1h-1.1zM140.3 693.2h1.1v1.1h-1.1zM127.6 685.8h1.1v1.1h-1.1zM130.1 694.5h1.1v1.1h-1.1zM136.5 693.3h1.1v1.1h-1.1zM134.5 689.4h1.1v1.1h-1.1zM137.8 685.3h1.1v1.1h-1.1zM131.1 694.9h1.1v1.1h-1.1zM134.5 687.2h1.1v1.1h-1.1zM131.6 676.5h1.1v1.1h-1.1zM133.3 703.7h1.1v1.1h-1.1zM141.0 685.3h1.1v1.1h-1.1zM142.5 696.7h1.1v1.1h-1.1zM136.8 691.1h1.1v1.1h-1.1zM126.9 690.8h1.1v1.1h-1.1zM136.2 696.1h1.1v1.1h-1.1zM134.3 688.5h1.1v1.1h-1.1zM143.5 708.0h1.1v1.1h-1.1zM139.5 691.3h1.1v1.1h-1.1zM136.9 685.7h1.1v1.1h-1.1zM126.7 701.6h1.1v1.1h-1.1zM147.8 702.9h1.1v1.1h-1.1zM141.2 700.2h1.1v1.1h-1.1zM121.5 683.4h1.1v1.1h-1.1zM132.5 677.1h1.1v1.1h-1.1zM138.3 717.1h1.1v1.1h-1.1zM125.5 681.0h1.1v1.1h-1.1zM135.2 687.1h1.1v1.1h-1.1zM138.1 702.3h1.1v1.1h-1.1zM132.3 699.1h1.1v1.1h-1.1zM127.6 699.4h1.1v1.1h-1.1zM142.4 678.3h1.1v1.1h-1.1zM141.1 701.4h1.1v1.1h-1.1zM140.6 689.0h1.1v1.1h-1.1zM132.9 709.9h1.1v1.1h-1.1zM130.3 693.0h1.1v1.1h-1.1zM138.3 691.4h1.1v1.1h-1.1zM138.9 700.9h1.1v1.1h-1.1zM133.8 686.9h1.1v1.1h-1.1zM143.0 697.5h1.1v1.1h-1.1zM132.1 710.8h1.1v1.1h-1.1zM141.5 686.8h1.1v1.1h-1.1zM126.5 686.8h1.1v1.1h-1.1zM141.7 683.8h1.1v1.1h-1.1zM134.6 691.9h1.1v1.1h-1.1zM126.6 699.8h1.1v1.1h-1.1zM126.5 702.2h1.1v1.1h-1.1zM135.5 694.9h1.1v1.1h-1.1zM135.7 682.4h1.1v1.1h-1.1zM143.5 687.5h1.1v1.1h-1.1zM126.7 683.5h1.1v1.1h-1.1zM126.5 688.5h1.1v1.1h-1.1zM138.7 693.9h1.1v1.1h-1.1zM135.5 685.7h1.1v1.1h-1.1zM121.8 712.4h1.1v1.1h-1.1zM141.1 686.7h1.1v1.1h-1.1zM129.8 684.9h1.1v1.1h-1.1zM130.2 700.9h1.1v1.1h-1.1zM137.5 680.3h1.1v1.1h-1.1zM131.6 689.4h1.1v1.1h-1.1zM129.9 680.1h1.1v1.1h-1.1zM140.3 691.5h1.1v1.1h-1.1zM136.7 696.0h1.1v1.1h-1.1zM135.7 696.5h1.1v1.1h-1.1zM140.0 697.7h1.1v1.1h-1.1zM142.5 707.0h1.1v1.1h-1.1zM142.0 693.0h1.1v1.1h-1.1zM138.4 705.4h1.1v1.1h-1.1zM136.7 690.6h1.1v1.1h-1.1zM129.2 701.8h1.1v1.1h-1.1zM132.1 687.7h1.1v1.1h-1.1zM143.6 687.7h1.1v1.1h-1.1zM141.7 696.2h1.1v1.1h-1.1zM144.0 705.0h1.1v1.1h-1.1zM133.6 702.9h1.1v1.1h-1.1zM143.6 689.5h1.1v1.1h-1.1zM145.0 711.4h1.1v1.1h-1.1zM128.5 682.2h1.1v1.1h-1.1zM144.3 680.2h1.1v1.1h-1.1zM133.9 690.9h1.1v1.1h-1.1zM132.4 688.3h1.1v1.1h-1.1zM134.7 688.5h1.1v1.1h-1.1zM137.0 700.2h1.1v1.1h-1.1zM135.8 713.0h1.1v1.1h-1.1zM140.2 705.1h1.1v1.1h-1.1zM132.6 706.0h1.1v1.1h-1.1zM137.2 712.5h1.1v1.1h-1.1zM128.1 710.8h1.1v1.1h-1.1zM134.9 689.8h1.1v1.1h-1.1zM142.8 704.2h1.1v1.1h-1.1zM135.6 704.8h1.1v1.1h-1.1zM129.4 679.7h1.1v1.1h-1.1zM135.5 689.6h1.1v1.1h-1.1zM137.1 687.8h1.1v1.1h-1.1zM131.6 692.8h1.1v1.1h-1.1zM145.0 685.5h1.1v1.1h-1.1zM135.5 695.2h1.1v1.1h-1.1zM137.1 681.0h1.1v1.1h-1.1zM136.3 693.0h1.1v1.1h-1.1zM132.5 686.5h1.1v1.1h-1.1zM139.7 717.6h1.1v1.1h-1.1zM131.9 702.2h1.1v1.1h-1.1zM130.5 705.6h1.1v1.1h-1.1zM143.2 689.6h1.1v1.1h-1.1zM133.2 698.0h1.1v1.1h-1.1zM136.7 689.4h1.1v1.1h-1.1zM123.3 681.9h1.1v1.1h-1.1zM134.7 678.6h1.1v1.1h-1.1zM137.8 686.9h1.1v1.1h-1.1zM137.4 697.3h1.1v1.1h-1.1zM137.9 686.0h1.1v1.1h-1.1zM128.9 695.4h1.1v1.1h-1.1zM144.9 685.2h1.1v1.1h-1.1zM135.5 703.0h1.1v1.1h-1.1zM139.0 696.8h1.1v1.1h-1.1zM134.4 708.7h1.1v1.1h-1.1zM137.8 701.4h1.1v1.1h-1.1zM133.7 703.1h1.1v1.1h-1.1zM128.7 690.0h1.1v1.1h-1.1zM132.1 711.5h1.1v1.1h-1.1zM137.7 702.6h1.1v1.1h-1.1zM144.2 688.5h1.1v1.1h-1.1zM140.1 712.3h1.1v1.1h-1.1zM121.8 682.4h1.1v1.1h-1.1zM129.9 693.8h1.1v1.1h-1.1zM140.4 703.3h1.1v1.1h-1.1zM135.0 696.0h1.1v1.1h-1.1zM130.9 703.0h1.1v1.1h-1.1zM131.4 697.0h1.1v1.1h-1.1zM134.2 677.9h1.1v1.1h-1.1zM137.0 711.3h1.1v1.1h-1.1zM135.3 697.3h1.1v1.1h-1.1zM142.5 691.0h1.1v1.1h-1.1zM130.2 702.0h1.1v1.1h-1.1zM139.5 694.9h1.1v1.1h-1.1zM130.8 695.5h1.1v1.1h-1.1zM142.8 704.0h1.1v1.1h-1.1zM129.1 681.4h1.1v1.1h-1.1zM149.8 686.0h1.1v1.1h-1.1zM141.6 700.9h1.1v1.1h-1.1zM136.4 711.2h1.1v1.1h-1.1zM134.4 699.0h1.1v1.1h-1.1zM134.8 680.4h1.1v1.1h-1.1zM133.9 695.8h1.1v1.1h-1.1zM139.9 695.2h1.1v1.1h-1.1zM139.0 707.5h1.1v1.1h-1.1zM136.1 680.9h1.1v1.1h-1.1zM125.9 692.1h1.1v1.1h-1.1zM127.9 701.6h1.1v1.1h-1.1zM135.5 692.3h1.1v1.1h-1.1zM130.0 701.0h1.1v1.1h-1.1zM139.6 700.7h1.1v1.1h-1.1zM139.4 683.8h1.1v1.1h-1.1zM126.1 685.0h1.1v1.1h-1.1zM133.4 702.1h1.1v1.1h-1.1zM139.2 705.7h1.1v1.1h-1.1zM133.5 683.9h1.1v1.1h-1.1zM138.8 685.9h1.1v1.1h-1.1zM135.2 700.7h1.1v1.1h-1.1zM138.6 706.7h1.1v1.1h-1.1zM131.3 699.7h1.1v1.1h-1.1zM127.8 706.4h1.1v1.1h-1.1zM132.0 672.9h1.1v1.1h-1.1zM137.8 687.2h1.1v1.1h-1.1zM131.2 689.7h1.1v1.1h-1.1zM138.4 686.5h1.1v1.1h-1.1zM133.9 711.4h1.1v1.1h-1.1zM135.5 692.9h1.1v1.1h-1.1zM142.9 695.4h1.1v1.1h-1.1zM136.7 677.9h1.1v1.1h-1.1zM129.8 699.2h1.1v1.1h-1.1zM130.9 695.5h1.1v1.1h-1.1zM125.5 707.5h1.1v1.1h-1.1zM133.3 680.3h1.1v1.1h-1.1zM126.7 688.8h1.1v1.1h-1.1zM135.8 692.8h1.1v1.1h-1.1zM137.5 699.5h1.1v1.1h-1.1zM128.3 704.7h1.1v1.1h-1.1zM138.7 700.0h1.1v1.1h-1.1zM138.5 677.3h1.1v1.1h-1.1zM141.1 690.7h1.1v1.1h-1.1zM126.2 694.7h1.1v1.1h-1.1zM145.3 712.4h1.1v1.1h-1.1zM139.0 695.2h1.1v1.1h-1.1zM139.0 697.8h1.1v1.1h-1.1zM140.6 705.8h1.1v1.1h-1.1zM133.3 712.2h1.1v1.1h-1.1zM137.8 710.1h1.1v1.1h-1.1zM135.6 704.3h1.1v1.1h-1.1zM135.4 698.1h1.1v1.1h-1.1zM136.9 708.8h1.1v1.1h-1.1zM137.3 707.2h1.1v1.1h-1.1zM120.8 687.6h1.1v1.1h-1.1zM134.6 682.6h1.1v1.1h-1.1zM140.4 700.5h1.1v1.1h-1.1zM129.1 690.9h1.1v1.1h-1.1zM128.2 689.4h1.1v1.1h-1.1zM131.9 693.4h1.1v1.1h-1.1zM134.2 685.9h1.1v1.1h-1.1zM129.4 691.4h1.1v1.1h-1.1zM136.3 695.0h1.1v1.1h-1.1zM145.4 693.8h1.1v1.1h-1.1zM131.3 685.9h1.1v1.1h-1.1zM136.5 700.3h1.1v1.1h-1.1zM133.7 701.4h1.1v1.1h-1.1zM132.4 712.6h1.1v1.1h-1.1zM135.3 704.9h1.1v1.1h-1.1zM137.8 685.6h1.1v1.1h-1.1zM136.9 709.1h1.1v1.1h-1.1zM134.8 686.6h1.1v1.1h-1.1zM139.7 701.9h1.1v1.1h-1.1zM146.6 687.8h1.1v1.1h-1.1zM128.2 695.3h1.1v1.1h-1.1zM123.2 704.7h1.1v1.1h-1.1zM121.5 704.5h1.1v1.1h-1.1zM142.2 695.7h1.1v1.1h-1.1zM132.4 689.8h1.1v1.1h-1.1zM144.9 699.1h1.1v1.1h-1.1zM134.4 706.2h1.1v1.1h-1.1zM132.4 694.7h1.1v1.1h-1.1zM122.6 708.2h1.1v1.1h-1.1zM136.3 700.5h1.1v1.1h-1.1zM130.0 707.4h1.1v1.1h-1.1zM139.1 679.8h1.1v1.1h-1.1zM135.9 688.5h1.1v1.1h-1.1zM135.1 699.7h1.1v1.1h-1.1zM143.8 694.1h1.1v1.1h-1.1zM140.2 701.2h1.1v1.1h-1.1zM129.0 692.5h1.1v1.1h-1.1zM125.1 690.4h1.1v1.1h-1.1zM142.7 712.2h1.1v1.1h-1.1zM124.9 715.3h1.1v1.1h-1.1zM125.5 758.9h1.1v1.1h-1.1zM133.4 743.3h1.1v1.1h-1.1zM127.6 764.3h1.1v1.1h-1.1zM142.1 757.0h1.1v1.1h-1.1zM132.8 750.7h1.1v1.1h-1.1zM137.6 738.0h1.1v1.1h-1.1zM126.9 776.0h1.1v1.1h-1.1zM137.5 743.1h1.1v1.1h-1.1zM135.5 741.1h1.1v1.1h-1.1zM122.6 737.0h1.1v1.1h-1.1zM133.2 730.9h1.1v1.1h-1.1zM150.3 745.3h1.1v1.1h-1.1zM132.6 772.8h1.1v1.1h-1.1zM130.5 750.4h1.1v1.1h-1.1zM134.1 760.1h1.1v1.1h-1.1zM133.9 743.6h1.1v1.1h-1.1zM135.7 718.9h1.1v1.1h-1.1zM141.4 769.6h1.1v1.1h-1.1zM126.0 772.2h1.1v1.1h-1.1zM138.0 726.2h1.1v1.1h-1.1zM135.7 748.6h1.1v1.1h-1.1zM129.2 706.2h1.1v1.1h-1.1zM141.5 765.7h1.1v1.1h-1.1zM135.0 744.8h1.1v1.1h-1.1zM133.9 743.8h1.1v1.1h-1.1zM135.0 737.3h1.1v1.1h-1.1zM132.2 718.8h1.1v1.1h-1.1zM137.9 753.8h1.1v1.1h-1.1zM129.7 746.0h1.1v1.1h-1.1zM134.7 741.7h1.1v1.1h-1.1zM137.8 727.7h1.1v1.1h-1.1zM148.7 763.7h1.1v1.1h-1.1zM134.9 731.0h1.1v1.1h-1.1zM137.0 719.0h1.1v1.1h-1.1zM135.8 770.9h1.1v1.1h-1.1zM135.6 751.6h1.1v1.1h-1.1zM138.0 734.3h1.1v1.1h-1.1zM141.1 760.8h1.1v1.1h-1.1zM136.8 767.6h1.1v1.1h-1.1zM136.3 719.4h1.1v1.1h-1.1zM126.8 766.9h1.1v1.1h-1.1zM142.7 759.7h1.1v1.1h-1.1zM140.7 732.7h1.1v1.1h-1.1zM132.2 744.3h1.1v1.1h-1.1zM133.9 757.0h1.1v1.1h-1.1zM130.9 758.0h1.1v1.1h-1.1zM144.5 755.6h1.1v1.1h-1.1zM133.6 728.2h1.1v1.1h-1.1zM132.1 751.4h1.1v1.1h-1.1zM129.9 722.3h1.1v1.1h-1.1zM131.9 722.1h1.1v1.1h-1.1zM132.3 739.5h1.1v1.1h-1.1zM133.3 761.9h1.1v1.1h-1.1zM132.1 723.5h1.1v1.1h-1.1zM134.1 758.9h1.1v1.1h-1.1zM119.6 743.8h1.1v1.1h-1.1zM133.6 709.6h1.1v1.1h-1.1zM145.5 775.2h1.1v1.1h-1.1zM132.2 744.4h1.1v1.1h-1.1zM137.9 726.8h1.1v1.1h-1.1zM133.0 732.6h1.1v1.1h-1.1zM134.5 760.3h1.1v1.1h-1.1zM130.9 738.8h1.1v1.1h-1.1zM135.2 759.6h1.1v1.1h-1.1zM127.9 717.4h1.1v1.1h-1.1zM140.8 744.9h1.1v1.1h-1.1zM129.6 763.1h1.1v1.1h-1.1zM138.1 731.3h1.1v1.1h-1.1zM135.9 743.4h1.1v1.1h-1.1zM141.6 747.0h1.1v1.1h-1.1zM129.7 777.6h1.1v1.1h-1.1zM132.1 755.9h1.1v1.1h-1.1zM143.9 767.4h1.1v1.1h-1.1zM132.7 726.6h1.1v1.1h-1.1zM131.2 733.8h1.1v1.1h-1.1zM147.6 728.7h1.1v1.1h-1.1zM130.9 770.6h1.1v1.1h-1.1zM125.9 733.5h1.1v1.1h-1.1zM131.8 743.4h1.1v1.1h-1.1zM142.6 737.3h1.1v1.1h-1.1zM135.3 754.0h1.1v1.1h-1.1zM141.9 741.2h1.1v1.1h-1.1zM125.6 759.8h1.1v1.1h-1.1zM136.2 775.3h1.1v1.1h-1.1zM133.3 759.4h1.1v1.1h-1.1zM132.4 747.8h1.1v1.1h-1.1zM132.7 735.4h1.1v1.1h-1.1zM129.6 752.1h1.1v1.1h-1.1zM141.5 706.1h1.1v1.1h-1.1zM130.0 751.5h1.1v1.1h-1.1zM140.0 749.4h1.1v1.1h-1.1zM130.7 736.9h1.1v1.1h-1.1zM138.9 732.0h1.1v1.1h-1.1zM133.1 749.7h1.1v1.1h-1.1zM126.5 751.0h1.1v1.1h-1.1zM129.2 747.6h1.1v1.1h-1.1zM137.7 741.4h1.1v1.1h-1.1zM141.9 724.7h1.1v1.1h-1.1zM130.8 733.4h1.1v1.1h-1.1zM146.0 756.4h1.1v1.1h-1.1zM129.2 713.1h1.1v1.1h-1.1zM138.5 716.1h1.1v1.1h-1.1zM137.5 736.0h1.1v1.1h-1.1zM131.3 715.0h1.1v1.1h-1.1zM139.7 745.0h1.1v1.1h-1.1zM137.0 745.9h1.1v1.1h-1.1zM126.9 760.4h1.1v1.1h-1.1zM130.5 734.8h1.1v1.1h-1.1zM139.3 762.0h1.1v1.1h-1.1zM130.0 721.9h1.1v1.1h-1.1zM129.6 722.7h1.1v1.1h-1.1zM134.9 724.1h1.1v1.1h-1.1zM135.5 745.3h1.1v1.1h-1.1zM131.9 757.4h1.1v1.1h-1.1zM130.5 738.3h1.1v1.1h-1.1zM132.2 775.3h1.1v1.1h-1.1zM128.7 765.5h1.1v1.1h-1.1zM148.3 750.9h1.1v1.1h-1.1zM128.7 764.9h1.1v1.1h-1.1zM148.2 748.7h1.1v1.1h-1.1zM129.4 727.2h1.1v1.1h-1.1zM138.7 717.5h1.1v1.1h-1.1zM126.0 722.0h1.1v1.1h-1.1zM139.1 755.8h1.1v1.1h-1.1zM129.2 753.8h1.1v1.1h-1.1zM125.1 727.6h1.1v1.1h-1.1zM130.6 739.4h1.1v1.1h-1.1zM129.9 744.0h1.1v1.1h-1.1zM138.9 751.7h1.1v1.1h-1.1zM134.4 737.2h1.1v1.1h-1.1zM141.0 769.6h1.1v1.1h-1.1zM143.7 720.3h1.1v1.1h-1.1zM129.2 757.3h1.1v1.1h-1.1zM128.1 716.4h1.1v1.1h-1.1zM129.4 769.7h1.1v1.1h-1.1zM141.9 754.2h1.1v1.1h-1.1zM132.2 739.2h1.1v1.1h-1.1zM136.3 727.0h1.1v1.1h-1.1zM134.8 723.8h1.1v1.1h-1.1zM137.8 762.1h1.1v1.1h-1.1zM138.7 742.0h1.1v1.1h-1.1zM140.4 766.0h1.1v1.1h-1.1zM134.2 758.6h1.1v1.1h-1.1zM139.4 732.0h1.1v1.1h-1.1zM127.0 726.1h1.1v1.1h-1.1zM129.0 724.0h1.1v1.1h-1.1zM133.5 749.6h1.1v1.1h-1.1zM124.2 767.8h1.1v1.1h-1.1zM135.2 726.2h1.1v1.1h-1.1zM128.0 755.4h1.1v1.1h-1.1zM131.7 750.8h1.1v1.1h-1.1zM127.1 729.5h1.1v1.1h-1.1zM129.1 742.9h1.1v1.1h-1.1zM128.2 723.9h1.1v1.1h-1.1zM136.4 728.6h1.1v1.1h-1.1zM134.1 742.1h1.1v1.1h-1.1zM136.1 744.9h1.1v1.1h-1.1zM132.1 740.4h1.1v1.1h-1.1zM126.5 751.6h1.1v1.1h-1.1zM139.0 770.9h1.1v1.1h-1.1zM128.3 776.4h1.1v1.1h-1.1zM135.5 772.4h1.1v1.1h-1.1zM139.1 778.8h1.1v1.1h-1.1zM135.4 773.8h1.1v1.1h-1.1zM131.5 771.6h1.1v1.1h-1.1zM130.7 767.1h1.1v1.1h-1.1zM133.9 772.4h1.1v1.1h-1.1zM140.6 771.6h1.1v1.1h-1.1zM136.1 773.9h1.1v1.1h-1.1zM129.8 762.6h1.1v1.1h-1.1zM126.0 772.1h1.1v1.1h-1.1zM139.6 767.7h1.1v1.1h-1.1zM135.3 768.9h1.1v1.1h-1.1zM133.2 772.6h1.1v1.1h-1.1zM136.3 776.5h1.1v1.1h-1.1zM134.8 774.2h1.1v1.1h-1.1zM129.8 778.3h1.1v1.1h-1.1zM136.9 770.7h1.1v1.1h-1.1zM146.4 770.7h1.1v1.1h-1.1zM140.5 777.0h1.1v1.1h-1.1zM133.8 770.3h1.1v1.1h-1.1zM138.3 772.2h1.1v1.1h-1.1zM133.1 774.5h1.1v1.1h-1.1zM126.0 768.5h1.1v1.1h-1.1zM136.3 765.0h1.1v1.1h-1.1zM132.9 764.1h1.1v1.1h-1.1zM133.7 772.1h1.1v1.1h-1.1zM136.5 771.6h1.1v1.1h-1.1zM129.1 775.4h1.1v1.1h-1.1zM138.4 762.6h1.1v1.1h-1.1zM130.7 767.2h1.1v1.1h-1.1zM128.5 771.1h1.1v1.1h-1.1zM140.7 765.6h1.1v1.1h-1.1zM139.1 763.3h1.1v1.1h-1.1zM174.2 680.2h1.1v1.1h-1.1zM164.4 656.2h1.1v1.1h-1.1zM162.6 641.0h1.1v1.1h-1.1zM171.9 649.0h1.1v1.1h-1.1zM162.4 644.6h1.1v1.1h-1.1zM160.2 628.4h1.1v1.1h-1.1zM170.8 643.6h1.1v1.1h-1.1zM166.9 639.9h1.1v1.1h-1.1zM171.5 631.5h1.1v1.1h-1.1zM169.2 653.1h1.1v1.1h-1.1zM169.7 658.3h1.1v1.1h-1.1zM167.6 649.7h1.1v1.1h-1.1zM158.3 644.2h1.1v1.1h-1.1zM164.3 663.6h1.1v1.1h-1.1zM165.0 672.0h1.1v1.1h-1.1zM174.1 651.5h1.1v1.1h-1.1zM167.2 649.0h1.1v1.1h-1.1zM162.7 649.4h1.1v1.1h-1.1zM166.6 640.0h1.1v1.1h-1.1zM169.6 636.0h1.1v1.1h-1.1zM161.8 649.2h1.1v1.1h-1.1zM167.4 655.1h1.1v1.1h-1.1zM163.9 654.0h1.1v1.1h-1.1zM169.1 654.5h1.1v1.1h-1.1zM163.2 647.0h1.1v1.1h-1.1zM169.5 651.0h1.1v1.1h-1.1zM163.2 656.5h1.1v1.1h-1.1zM157.5 650.7h1.1v1.1h-1.1zM168.0 651.4h1.1v1.1h-1.1zM166.5 661.8h1.1v1.1h-1.1zM160.3 659.7h1.1v1.1h-1.1zM166.5 653.9h1.1v1.1h-1.1zM166.9 649.8h1.1v1.1h-1.1zM170.0 667.7h1.1v1.1h-1.1zM163.8 636.7h1.1v1.1h-1.1zM171.2 656.4h1.1v1.1h-1.1zM161.6 648.5h1.1v1.1h-1.1zM166.8 633.1h1.1v1.1h-1.1zM165.7 657.9h1.1v1.1h-1.1zM168.3 652.8h1.1v1.1h-1.1zM171.2 629.6h1.1v1.1h-1.1zM167.2 642.0h1.1v1.1h-1.1zM165.3 643.2h1.1v1.1h-1.1zM165.1 651.5h1.1v1.1h-1.1zM162.6 630.3h1.1v1.1h-1.1zM163.8 639.6h1.1v1.1h-1.1zM163.6 657.0h1.1v1.1h-1.1zM169.0 638.7h1.1v1.1h-1.1zM170.5 659.3h1.1v1.1h-1.1zM162.9 639.1h1.1v1.1h-1.1zM162.5 644.4h1.1v1.1h-1.1zM165.5 654.8h1.1v1.1h-1.1zM161.8 640.0h1.1v1.1h-1.1zM167.2 644.4h1.1v1.1h-1.1zM162.0 637.1h1.1v1.1h-1.1zM169.5 660.1h1.1v1.1h-1.1zM167.6 665.1h1.1v1.1h-1.1zM164.5 650.6h1.1v1.1h-1.1zM163.4 638.0h1.1v1.1h-1.1zM167.9 663.5h1.1v1.1h-1.1zM168.6 660.4h1.1v1.1h-1.1zM167.7 643.7h1.1v1.1h-1.1zM161.4 648.4h1.1v1.1h-1.1zM170.2 660.6h1.1v1.1h-1.1zM172.8 656.4h1.1v1.1h-1.1zM163.8 637.3h1.1v1.1h-1.1zM167.0 651.2h1.1v1.1h-1.1zM164.0 655.1h1.1v1.1h-1.1zM160.1 659.1h1.1v1.1h-1.1zM166.5 633.7h1.1v1.1h-1.1zM163.1 664.7h1.1v1.1h-1.1zM164.9 644.8h1.1v1.1h-1.1zM167.1 658.5h1.1v1.1h-1.1zM174.9 665.1h1.1v1.1h-1.1zM166.5 656.0h1.1v1.1h-1.1zM164.1 658.2h1.1v1.1h-1.1zM174.6 651.0h1.1v1.1h-1.1zM163.9 645.7h1.1v1.1h-1.1zM163.6 650.6h1.1v1.1h-1.1zM170.1 668.5h1.1v1.1h-1.1zM172.4 675.8h1.1v1.1h-1.1zM165.2 634.2h1.1v1.1h-1.1zM162.2 652.2h1.1v1.1h-1.1zM168.9 646.4h1.1v1.1h-1.1zM170.1 656.6h1.1v1.1h-1.1zM162.4 650.0h1.1v1.1h-1.1zM169.4 653.6h1.1v1.1h-1.1zM162.0 652.4h1.1v1.1h-1.1zM159.2 639.8h1.1v1.1h-1.1zM171.3 659.4h1.1v1.1h-1.1zM159.1 698.1h1.1v1.1h-1.1zM163.3 694.3h1.1v1.1h-1.1zM155.3 692.2h1.1v1.1h-1.1zM144.4 694.9h1.1v1.1h-1.1zM166.4 714.0h1.1v1.1h-1.1zM144.8 692.0h1.1v1.1h-1.1zM148.7 710.9h1.1v1.1h-1.1zM161.8 689.6h1.1v1.1h-1.1zM147.1 707.9h1.1v1.1h-1.1zM148.3 692.3h1.1v1.1h-1.1zM161.2 692.4h1.1v1.1h-1.1zM171.7 731.9h1.1v1.1h-1.1zM157.0 693.7h1.1v1.1h-1.1zM164.0 702.4h1.1v1.1h-1.1zM145.0 711.2h1.1v1.1h-1.1zM147.3 697.7h1.1v1.1h-1.1zM154.3 704.0h1.1v1.1h-1.1zM163.3 690.6h1.1v1.1h-1.1zM153.1 712.6h1.1v1.1h-1.1zM151.5 698.9h1.1v1.1h-1.1zM160.0 710.2h1.1v1.1h-1.1zM156.7 705.3h1.1v1.1h-1.1zM132.2 704.4h1.1v1.1h-1.1zM146.7 704.8h1.1v1.1h-1.1zM150.2 707.0h1.1v1.1h-1.1zM163.9 686.9h1.1v1.1h-1.1zM158.1 674.8h1.1v1.1h-1.1zM139.3 699.8h1.1v1.1h-1.1zM160.0 688.6h1.1v1.1h-1.1zM144.4 699.6h1.1v1.1h-1.1zM143.1 724.1h1.1v1.1h-1.1zM155.9 678.9h1.1v1.1h-1.1zM163.0 709.0h1.1v1.1h-1.1zM144.1 711.9h1.1v1.1h-1.1zM154.5 704.3h1.1v1.1h-1.1zM148.1 702.9h1.1v1.1h-1.1zM159.6 702.7h1.1v1.1h-1.1zM149.6 703.6h1.1v1.1h-1.1zM155.8 696.5h1.1v1.1h-1.1zM156.8 671.7h1.1v1.1h-1.1zM157.0 705.9h1.1v1.1h-1.1zM137.2 693.7h1.1v1.1h-1.1zM156.6 700.1h1.1v1.1h-1.1zM157.8 710.4h1.1v1.1h-1.1zM164.5 697.3h1.1v1.1h-1.1zM158.5 676.9h1.1v1.1h-1.1zM157.1 686.7h1.1v1.1h-1.1zM147.9 674.9h1.1v1.1h-1.1zM150.7 712.3h1.1v1.1h-1.1zM162.2 685.1h1.1v1.1h-1.1zM110.0 676.7h1.1v1.1h-1.1zM128.3 699.3h1.1v1.1h-1.1zM125.9 700.2h1.1v1.1h-1.1zM121.5 698.9h1.1v1.1h-1.1zM113.8 677.8h1.1v1.1h-1.1zM106.7 695.4h1.1v1.1h-1.1zM125.5 703.8h1.1v1.1h-1.1zM122.8 703.2h1.1v1.1h-1.1zM116.3 704.5h1.1v1.1h-1.1zM111.0 699.7h1.1v1.1h-1.1zM138.6 693.9h1.1v1.1h-1.1zM116.8 698.6h1.1v1.1h-1.1zM113.6 700.9h1.1v1.1h-1.1zM114.1 671.2h1.1v1.1h-1.1zM118.5 691.5h1.1v1.1h-1.1zM128.7 700.4h1.1v1.1h-1.1zM121.0 703.6h1.1v1.1h-1.1zM122.2 722.5h1.1v1.1h-1.1zM119.3 669.3h1.1v1.1h-1.1zM118.0 695.1h1.1v1.1h-1.1zM121.9 675.4h1.1v1.1h-1.1zM124.7 714.6h1.1v1.1h-1.1zM111.4 681.5h1.1v1.1h-1.1zM124.5 703.4h1.1v1.1h-1.1zM119.6 705.2h1.1v1.1h-1.1z" fill="#1f2ee8" fill-opacity="0.8"/>
<path d="M135.6 693.6h1.1v1.1h-1.1zM134.9 701.8h1.1v1.1h-1.1zM130.1 697.0h1.1v1.1h-1.1zM135.4 695.9h1.1v1.1h-1.1zM134.6 687.8h1.1v1.1h-1.1zM135.5 695.2h1.1v1.1h-1.1zM130.9 698.6h1.1v1.1h-1.1zM134.1 691.1h1.1v1.1h-1.1zM131.0 692.1h1.1v1.1h-1.1zM133.3 691.3h1.1v1.1h-1.1zM133.6 692.8h1.1v1.1h-1.1zM130.0 697.6h1.1v1.1h-1.1zM133.0 701.7h1.1v1.1h-1.1zM138.6 695.9h1.1v1.1h-1.1zM132.5 693.8h1.1v1.1h-1.1zM132.7 699.1h1.1v1.1h-1.1zM131.2 700.2h1.1v1.1h-1.1zM139.2 694.4h1.1v1.1h-1.1zM131.5 694.1h1.1v1.1h-1.1zM132.0 695.2h1.1v1.1h-1.1zM135.3 694.1h1.1v1.1h-1.1zM135.7 693.6h1.1v1.1h-1.1zM136.3 697.8h1.1v1.1h-1.1zM135.6 692.5h1.1v1.1h-1.1zM134.0 686.8h1.1v1.1h-1.1zM136.7 688.1h1.1v1.1h-1.1zM131.2 693.8h1.1v1.1h-1.1zM138.7 694.9h1.1v1.1h-1.1zM133.0 687.9h1.1v1.1h-1.1zM137.2 700.6h1.1v1.1h-1.1zM132.9 688.8h1.1v1.1h-1.1zM132.7 701.9h1.1v1.1h-1.1zM137.1 696.2h1.1v1.1h-1.1zM132.6 698.2h1.1v1.1h-1.1zM131.4 696.1h1.1v1.1h-1.1zM131.7 689.7h1.1v1.1h-1.1zM134.5 695.8h1.1v1.1h-1.1zM130.4 690.6h1.1v1.1h-1.1zM134.7 694.3h1.1v1.1h-1.1zM135.4 699.4h1.1v1.1h-1.1zM132.4 689.9h1.1v1.1h-1.1zM134.3 686.9h1.1v1.1h-1.1zM137.1 690.3h1.1v1.1h-1.1zM131.5 699.0h1.1v1.1h-1.1zM136.6 694.5h1.1v1.1h-1.1zM134.0 696.6h1.1v1.1h-1.1zM133.7 695.9h1.1v1.1h-1.1zM136.1 690.3h1.1v1.1h-1.1zM130.8 698.3h1.1v1.1h-1.1zM133.5 695.3h1.1v1.1h-1.1zM132.4 691.3h1.1v1.1h-1.1zM137.0 695.2h1.1v1.1h-1.1zM133.0 695.3h1.1v1.1h-1.1zM132.7 696.9h1.1v1.1h-1.1zM135.5 687.5h1.1v1.1h-1.1zM135.4 692.9h1.1v1.1h-1.1zM135.9 696.9h1.1v1.1h-1.1zM136.6 689.3h1.1v1.1h-1.1zM131.6 697.1h1.1v1.1h-1.1zM133.8 698.2h1.1v1.1h-1.1zM130.0 692.9h1.1v1.1h-1.1zM135.2 698.0h1.1v1.1h-1.1zM135.2 689.5h1.1v1.1h-1.1zM137.8 688.8h1.1v1.1h-1.1zM136.7 689.2h1.1v1.1h-1.1zM136.8 701.2h1.1v1.1h-1.1zM137.7 691.4h1.1v1.1h-1.1zM136.1 694.6h1.1v1.1h-1.1zM137.0 690.5h1.1v1.1h-1.1zM135.1 696.3h1.1v1.1h-1.1zM137.6 691.2h1.1v1.1h-1.1zM139.1 697.6h1.1v1.1h-1.1zM131.3 693.8h1.1v1.1h-1.1zM134.2 697.1h1.1v1.1h-1.1zM135.8 694.0h1.1v1.1h-1.1zM135.8 688.1h1.1v1.1h-1.1zM135.6 690.8h1.1v1.1h-1.1zM132.0 698.9h1.1v1.1h-1.1zM130.5 697.9h1.1v1.1h-1.1zM134.1 692.6h1.1v1.1h-1.1zM134.8 696.1h1.1v1.1h-1.1zM131.9 697.8h1.1v1.1h-1.1zM134.5 696.3h1.1v1.1h-1.1zM132.6 691.7h1.1v1.1h-1.1zM132.0 701.4h1.1v1.1h-1.1zM133.1 694.7h1.1v1.1h-1.1zM134.0 698.0h1.1v1.1h-1.1zM134.4 701.5h1.1v1.1h-1.1zM133.6 696.0h1.1v1.1h-1.1zM131.8 692.5h1.1v1.1h-1.1zM133.3 701.2h1.1v1.1h-1.1zM136.4 690.0h1.1v1.1h-1.1z" fill="#19c9b5" fill-opacity="0.9"/>
<path d="M135.7 704.7h1.1v1.1h-1.1zM129.5 701.8h1.1v1.1h-1.1zM131.8 704.7h1.1v1.1h-1.1zM136.7 704.5h1.1v1.1h-1.1zM128.4 696.0h1.1v1.1h-1.1zM131.0 702.8h1.1v1.1h-1.1zM129.1 688.2h1.1v1.1h-1.1zM129.2 692.8h1.1v1.1h-1.1zM128.9 691.2h1.1v1.1h-1.1zM128.9 699.8h1.1v1.1h-1.1zM140.1 699.2h1.1v1.1h-1.1zM132.5 686.4h1.1v1.1h-1.1zM130.6 689.4h1.1v1.1h-1.1zM131.3 702.9h1.1v1.1h-1.1zM137.3 687.3h1.1v1.1h-1.1z" fill="#3ccc3c" fill-opacity="0.9"/>
<line x1="146.90" y1="588.80" x2="146.90" y2="780.30" stroke="#000" stroke-width="1.6" />
<line x1="35.50" y1="671.80" x2="226.00" y2="671.80" stroke="#000" stroke-width="1.6" />
<rect x="109.00" y="779.40" width="10.00" height="1.80" fill="#2a3ad8" stroke="none" stroke-width="0" fill-opacity="0.9"/>
<rect x="119.00" y="779.40" width="4.00" height="1.80" fill="#30b8d8" stroke="none" stroke-width="0" fill-opacity="0.9"/>
<rect x="123.00" y="779.40" width="10.00" height="1.80" fill="#90d030" stroke="none" stroke-width="0" fill-opacity="0.9"/>
<rect x="133.00" y="779.40" width="5.50" height="1.80" fill="#e04020" stroke="none" stroke-width="0" fill-opacity="0.9"/>
<rect x="138.50" y="779.40" width="7.00" height="1.80" fill="#e0b030" stroke="none" stroke-width="0" fill-opacity="0.9"/>
<rect x="146.70" y="779.40" width="4.70" height="1.80" fill="#50d040" stroke="none" stroke-width="0" fill-opacity="0.9"/>
<rect x="151.40" y="779.40" width="4.60" height="1.80" fill="#30b8d8" stroke="none" stroke-width="0" fill-opacity="0.9"/>
<rect x="156.00" y="779.40" width="8.00" height="1.80" fill="#3050e0" stroke="none" stroke-width="0" fill-opacity="0.8"/>
<line x1="53.00" y1="780.30" x2="53.00" y2="784.80" stroke="#222" stroke-width="1.4" />
<line x1="78.00" y1="780.30" x2="78.00" y2="784.80" stroke="#222" stroke-width="1.4" />
<line x1="85.53" y1="780.30" x2="85.53" y2="782.90" stroke="#333" stroke-width="0.8" />
<line x1="89.93" y1="780.30" x2="89.93" y2="782.90" stroke="#333" stroke-width="0.8" />
<line x1="93.05" y1="780.30" x2="93.05" y2="782.90" stroke="#333" stroke-width="0.8" />
<line x1="95.47" y1="780.30" x2="95.47" y2="782.90" stroke="#333" stroke-width="0.8" />
<line x1="97.45" y1="780.30" x2="97.45" y2="782.90" stroke="#333" stroke-width="0.8" />
<line x1="99.13" y1="780.30" x2="99.13" y2="782.90" stroke="#333" stroke-width="0.8" />
<line x1="100.58" y1="780.30" x2="100.58" y2="782.90" stroke="#333" stroke-width="0.8" />
<line x1="101.86" y1="780.30" x2="101.86" y2="782.90" stroke="#333" stroke-width="0.8" />
<line x1="103.00" y1="780.30" x2="103.00" y2="784.80" stroke="#222" stroke-width="1.4" />
<line x1="110.53" y1="780.30" x2="110.53" y2="782.90" stroke="#333" stroke-width="0.8" />
<line x1="114.93" y1="780.30" x2="114.93" y2="782.90" stroke="#333" stroke-width="0.8" />
<line x1="118.05" y1="780.30" x2="118.05" y2="782.90" stroke="#333" stroke-width="0.8" />
<line x1="120.47" y1="780.30" x2="120.47" y2="782.90" stroke="#333" stroke-width="0.8" />
<line x1="122.45" y1="780.30" x2="122.45" y2="782.90" stroke="#333" stroke-width="0.8" />
<line x1="124.13" y1="780.30" x2="124.13" y2="782.90" stroke="#333" stroke-width="0.8" />
<line x1="125.58" y1="780.30" x2="125.58" y2="782.90" stroke="#333" stroke-width="0.8" />
<line x1="126.86" y1="780.30" x2="126.86" y2="782.90" stroke="#333" stroke-width="0.8" />
<line x1="128.00" y1="780.30" x2="128.00" y2="784.80" stroke="#222" stroke-width="1.4" />
<line x1="135.53" y1="780.30" x2="135.53" y2="782.90" stroke="#333" stroke-width="0.8" />
<line x1="139.93" y1="780.30" x2="139.93" y2="782.90" stroke="#333" stroke-width="0.8" />
<line x1="143.05" y1="780.30" x2="143.05" y2="782.90" stroke="#333" stroke-width="0.8" />
<line x1="145.47" y1="780.30" x2="145.47" y2="782.90" stroke="#333" stroke-width="0.8" />
<line x1="147.45" y1="780.30" x2="147.45" y2="782.90" stroke="#333" stroke-width="0.8" />
<line x1="149.13" y1="780.30" x2="149.13" y2="782.90" stroke="#333" stroke-width="0.8" />
<line x1="150.58" y1="780.30" x2="150.58" y2="782.90" stroke="#333" stroke-width="0.8" />
<line x1="151.86" y1="780.30" x2="151.86" y2="782.90" stroke="#333" stroke-width="0.8" />
<line x1="153.00" y1="780.30" x2="153.00" y2="784.80" stroke="#222" stroke-width="1.4" />
<line x1="160.53" y1="780.30" x2="160.53" y2="782.90" stroke="#333" stroke-width="0.8" />
<line x1="164.93" y1="780.30" x2="164.93" y2="782.90" stroke="#333" stroke-width="0.8" />
<line x1="168.05" y1="780.30" x2="168.05" y2="782.90" stroke="#333" stroke-width="0.8" />
<line x1="170.47" y1="780.30" x2="170.47" y2="782.90" stroke="#333" stroke-width="0.8" />
<line x1="172.45" y1="780.30" x2="172.45" y2="782.90" stroke="#333" stroke-width="0.8" />
<line x1="174.13" y1="780.30" x2="174.13" y2="782.90" stroke="#333" stroke-width="0.8" />
<line x1="175.58" y1="780.30" x2="175.58" y2="782.90" stroke="#333" stroke-width="0.8" />
<line x1="176.86" y1="780.30" x2="176.86" y2="782.90" stroke="#333" stroke-width="0.8" />
<line x1="178.00" y1="780.30" x2="178.00" y2="784.80" stroke="#222" stroke-width="1.4" />
<line x1="185.53" y1="780.30" x2="185.53" y2="782.90" stroke="#333" stroke-width="0.8" />
<line x1="189.93" y1="780.30" x2="189.93" y2="782.90" stroke="#333" stroke-width="0.8" />
<line x1="193.05" y1="780.30" x2="193.05" y2="782.90" stroke="#333" stroke-width="0.8" />
<line x1="195.47" y1="780.30" x2="195.47" y2="782.90" stroke="#333" stroke-width="0.8" />
<line x1="197.45" y1="780.30" x2="197.45" y2="782.90" stroke="#333" stroke-width="0.8" />
<line x1="199.13" y1="780.30" x2="199.13" y2="782.90" stroke="#333" stroke-width="0.8" />
<line x1="200.58" y1="780.30" x2="200.58" y2="782.90" stroke="#333" stroke-width="0.8" />
<line x1="201.86" y1="780.30" x2="201.86" y2="782.90" stroke="#333" stroke-width="0.8" />
<line x1="203.00" y1="780.30" x2="203.00" y2="784.80" stroke="#222" stroke-width="1.4" />
<line x1="210.53" y1="780.30" x2="210.53" y2="782.90" stroke="#333" stroke-width="0.8" />
<line x1="214.93" y1="780.30" x2="214.93" y2="782.90" stroke="#333" stroke-width="0.8" />
<line x1="218.05" y1="780.30" x2="218.05" y2="782.90" stroke="#333" stroke-width="0.8" />
<line x1="220.47" y1="780.30" x2="220.47" y2="782.90" stroke="#333" stroke-width="0.8" />
<line x1="222.45" y1="780.30" x2="222.45" y2="782.90" stroke="#333" stroke-width="0.8" />
<line x1="224.13" y1="780.30" x2="224.13" y2="782.90" stroke="#333" stroke-width="0.8" />
<line x1="225.58" y1="780.30" x2="225.58" y2="782.90" stroke="#333" stroke-width="0.8" />
<line x1="38.00" y1="780.30" x2="38.00" y2="782.90" stroke="#333" stroke-width="0.8" />
<line x1="41.20" y1="780.30" x2="41.20" y2="782.90" stroke="#333" stroke-width="0.8" />
<line x1="44.40" y1="780.30" x2="44.40" y2="782.90" stroke="#333" stroke-width="0.8" />
<line x1="47.60" y1="780.30" x2="47.60" y2="782.90" stroke="#333" stroke-width="0.8" />
<line x1="50.80" y1="780.30" x2="50.80" y2="782.90" stroke="#333" stroke-width="0.8" />
<line x1="57.20" y1="780.30" x2="57.20" y2="782.90" stroke="#333" stroke-width="0.8" />
<line x1="60.40" y1="780.30" x2="60.40" y2="782.90" stroke="#333" stroke-width="0.8" />
<line x1="63.60" y1="780.30" x2="63.60" y2="782.90" stroke="#333" stroke-width="0.8" />
<line x1="66.80" y1="780.30" x2="66.80" y2="782.90" stroke="#333" stroke-width="0.8" />
<line x1="70.00" y1="780.30" x2="70.00" y2="782.90" stroke="#333" stroke-width="0.8" />
<line x1="73.20" y1="780.30" x2="73.20" y2="782.90" stroke="#333" stroke-width="0.8" />
<line x1="76.40" y1="780.30" x2="76.40" y2="782.90" stroke="#333" stroke-width="0.8" />
<line x1="30.00" y1="757.50" x2="35.50" y2="757.50" stroke="#222" stroke-width="1.4" />
<line x1="30.00" y1="727.20" x2="35.50" y2="727.20" stroke="#222" stroke-width="1.4" />
<line x1="32.90" y1="718.08" x2="35.50" y2="718.08" stroke="#333" stroke-width="0.8" />
<line x1="32.90" y1="712.74" x2="35.50" y2="712.74" stroke="#333" stroke-width="0.8" />
<line x1="32.90" y1="708.96" x2="35.50" y2="708.96" stroke="#333" stroke-width="0.8" />
<line x1="32.90" y1="706.02" x2="35.50" y2="706.02" stroke="#333" stroke-width="0.8" />
<line x1="32.90" y1="703.62" x2="35.50" y2="703.62" stroke="#333" stroke-width="0.8" />
<line x1="32.90" y1="701.59" x2="35.50" y2="701.59" stroke="#333" stroke-width="0.8" />
<line x1="32.90" y1="699.84" x2="35.50" y2="699.84" stroke="#333" stroke-width="0.8" />
<line x1="32.90" y1="698.29" x2="35.50" y2="698.29" stroke="#333" stroke-width="0.8" />
<line x1="30.00" y1="696.90" x2="35.50" y2="696.90" stroke="#222" stroke-width="1.4" />
<line x1="32.90" y1="687.78" x2="35.50" y2="687.78" stroke="#333" stroke-width="0.8" />
<line x1="32.90" y1="682.44" x2="35.50" y2="682.44" stroke="#333" stroke-width="0.8" />
<line x1="32.90" y1="678.66" x2="35.50" y2="678.66" stroke="#333" stroke-width="0.8" />
<line x1="32.90" y1="675.72" x2="35.50" y2="675.72" stroke="#333" stroke-width="0.8" />
<line x1="32.90" y1="673.32" x2="35.50" y2="673.32" stroke="#333" stroke-width="0.8" />
<line x1="32.90" y1="671.29" x2="35.50" y2="671.29" stroke="#333" stroke-width="0.8" />
<line x1="32.90" y1="669.54" x2="35.50" y2="669.54" stroke="#333" stroke-width="0.8" />
<line x1="32.90" y1="667.99" x2="35.50" y2="667.99" stroke="#333" stroke-width="0.8" />
<line x1="30.00" y1="666.60" x2="35.50" y2="666.60" stroke="#222" stroke-width="1.4" />
<line x1="32.90" y1="657.48" x2="35.50" y2="657.48" stroke="#333" stroke-width="0.8" />
<line x1="32.90" y1="652.14" x2="35.50" y2="652.14" stroke="#333" stroke-width="0.8" />
<line x1="32.90" y1="648.36" x2="35.50" y2="648.36" stroke="#333" stroke-width="0.8" />
<line x1="32.90" y1="645.42" x2="35.50" y2="645.42" stroke="#333" stroke-width="0.8" />
<line x1="32.90" y1="643.02" x2="35.50" y2="643.02" stroke="#333" stroke-width="0.8" />
<line x1="32.90" y1="640.99" x2="35.50" y2="640.99" stroke="#333" stroke-width="0.8" />
<line x1="32.90" y1="639.24" x2="35.50" y2="639.24" stroke="#333" stroke-width="0.8" />
<line x1="32.90" y1="637.69" x2="35.50" y2="637.69" stroke="#333" stroke-width="0.8" />
<line x1="30.00" y1="636.30" x2="35.50" y2="636.30" stroke="#222" stroke-width="1.4" />
<line x1="32.90" y1="627.18" x2="35.50" y2="627.18" stroke="#333" stroke-width="0.8" />
<line x1="32.90" y1="621.84" x2="35.50" y2="621.84" stroke="#333" stroke-width="0.8" />
<line x1="32.90" y1="618.06" x2="35.50" y2="618.06" stroke="#333" stroke-width="0.8" />
<line x1="32.90" y1="615.12" x2="35.50" y2="615.12" stroke="#333" stroke-width="0.8" />
<line x1="32.90" y1="612.72" x2="35.50" y2="612.72" stroke="#333" stroke-width="0.8" />
<line x1="32.90" y1="610.69" x2="35.50" y2="610.69" stroke="#333" stroke-width="0.8" />
<line x1="32.90" y1="608.94" x2="35.50" y2="608.94" stroke="#333" stroke-width="0.8" />
<line x1="32.90" y1="607.39" x2="35.50" y2="607.39" stroke="#333" stroke-width="0.8" />
<line x1="30.00" y1="606.00" x2="35.50" y2="606.00" stroke="#222" stroke-width="1.4" />
<line x1="32.90" y1="596.88" x2="35.50" y2="596.88" stroke="#333" stroke-width="0.8" />
<line x1="32.90" y1="591.54" x2="35.50" y2="591.54" stroke="#333" stroke-width="0.8" />
<line x1="32.90" y1="777.80" x2="35.50" y2="777.80" stroke="#333" stroke-width="0.8" />
<line x1="32.90" y1="774.60" x2="35.50" y2="774.60" stroke="#333" stroke-width="0.8" />
<line x1="32.90" y1="771.40" x2="35.50" y2="771.40" stroke="#333" stroke-width="0.8" />
<line x1="32.90" y1="768.20" x2="35.50" y2="768.20" stroke="#333" stroke-width="0.8" />
<line x1="32.90" y1="765.00" x2="35.50" y2="765.00" stroke="#333" stroke-width="0.8" />
<line x1="32.90" y1="761.80" x2="35.50" y2="761.80" stroke="#333" stroke-width="0.8" />
<line x1="32.90" y1="755.40" x2="35.50" y2="755.40" stroke="#333" stroke-width="0.8" />
<line x1="32.90" y1="752.20" x2="35.50" y2="752.20" stroke="#333" stroke-width="0.8" />
<line x1="32.90" y1="749.00" x2="35.50" y2="749.00" stroke="#333" stroke-width="0.8" />
<line x1="32.90" y1="745.80" x2="35.50" y2="745.80" stroke="#333" stroke-width="0.8" />
<line x1="32.90" y1="742.60" x2="35.50" y2="742.60" stroke="#333" stroke-width="0.8" />
<line x1="32.90" y1="739.40" x2="35.50" y2="739.40" stroke="#333" stroke-width="0.8" />
<line x1="32.90" y1="736.20" x2="35.50" y2="736.20" stroke="#333" stroke-width="0.8" />
<line x1="32.90" y1="733.00" x2="35.50" y2="733.00" stroke="#333" stroke-width="0.8" />
<line x1="32.90" y1="729.80" x2="35.50" y2="729.80" stroke="#333" stroke-width="0.8" />
<text x="53.00" y="802.60" font-family="Liberation Sans" font-size="7" font-weight="normal" text-anchor="middle" fill="#3a3a3a" >0</text>
<text x="98.00" y="802.60" font-family="Liberation Sans" font-size="7" fill="#3a3a3a">10<tspan font-size="6.6" dx="0.5" dy="-6.5">2</tspan></text>
<text x="148.00" y="802.60" font-family="Liberation Sans" font-size="7" fill="#3a3a3a">10<tspan font-size="6.6" dx="0.5" dy="-6.5">4</tspan></text>
<text x="198.00" y="802.60" font-family="Liberation Sans" font-size="7" fill="#3a3a3a">10<tspan font-size="6.6" dx="0.5" dy="-6.5">6</tspan></text>
<text x="21.30" y="760.00" font-family="Liberation Sans" font-size="7" font-weight="normal" text-anchor="end" fill="#3a3a3a" >0</text>
<text x="13.70" y="732.20" font-family="Liberation Sans" font-size="7" fill="#3a3a3a">10<tspan font-size="7" dx="0.5" dy="-5.6">1</tspan></text>
<text x="13.70" y="701.90" font-family="Liberation Sans" font-size="7" fill="#3a3a3a">10<tspan font-size="7" dx="0.5" dy="-5.6">2</tspan></text>
<text x="13.70" y="671.60" font-family="Liberation Sans" font-size="7" fill="#3a3a3a">10<tspan font-size="7" dx="0.5" dy="-5.6">3</tspan></text>
<text x="13.70" y="641.30" font-family="Liberation Sans" font-size="7" fill="#3a3a3a">10<tspan font-size="7" dx="0.5" dy="-5.6">4</tspan></text>
<text x="13.70" y="611.00" font-family="Liberation Sans" font-size="7" fill="#3a3a3a">10<tspan font-size="7" dx="0.5" dy="-5.6">5</tspan></text>
<text x="127.55" y="819.10" font-family="Liberation Sans" font-size="9" font-weight="normal" text-anchor="middle" fill="#3a3a3a" textLength="101.5" lengthAdjust="spacingAndGlyphs">FL1-A :: Annexin V FITC-A</text>
<text transform="translate(8.50,683.75) rotate(-90)" font-family="Liberation Sans" font-size="9.8" text-anchor="middle" fill="#3a3a3a" textLength="69.5" lengthAdjust="spacingAndGlyphs">FL10-A :: PI PE-A</text>
<text x="127.00" y="577.00" font-family="Liberation Serif" font-size="26" font-weight="bold" text-anchor="middle" fill="#000" >Control</text>
<text x="39.30" y="605.60" font-family="Liberation Sans" font-size="8.7" font-weight="normal" text-anchor="start" fill="#3a3a3a" >Q1</text>
<text x="39.30" y="619.10" font-family="Liberation Sans" font-size="8.7" font-weight="normal" text-anchor="start" fill="#3a3a3a" >0.099</text>
<text x="210.40" y="605.60" font-family="Liberation Sans" font-size="8.7" font-weight="normal" text-anchor="end" fill="#3a3a3a" >Q2</text>
<text x="210.40" y="619.10" font-family="Liberation Sans" font-size="8.7" font-weight="normal" text-anchor="end" fill="#3a3a3a" >1.82</text>
<text x="39.30" y="755.80" font-family="Liberation Sans" font-size="8.7" font-weight="normal" text-anchor="start" fill="#3a3a3a" >Q4</text>
<text x="39.30" y="769.60" font-family="Liberation Sans" font-size="8.7" font-weight="normal" text-anchor="start" fill="#3a3a3a" >92.9</text>
<text x="210.40" y="755.80" font-family="Liberation Sans" font-size="8.7" font-weight="normal" text-anchor="end" fill="#3a3a3a" >Q3</text>
<text x="210.40" y="769.60" font-family="Liberation Sans" font-size="8.7" font-weight="normal" text-anchor="end" fill="#3a3a3a" >5.16</text>
<rect x="259.00" y="591.50" width="190.20" height="191.50" fill="none" stroke="#555" stroke-width="1.3" />
<path d="M364.6 691.5h1.1v1.1h-1.1zM360.5 703.7h1.1v1.1h-1.1zM348.6 690.9h1.1v1.1h-1.1zM345.0 690.3h1.1v1.1h-1.1zM345.7 699.7h1.1v1.1h-1.1zM365.2 695.9h1.1v1.1h-1.1zM357.4 697.9h1.1v1.1h-1.1zM342.1 707.3h1.1v1.1h-1.1zM349.6 700.1h1.1v1.1h-1.1zM359.7 696.4h1.1v1.1h-1.1zM359.1 688.2h1.1v1.1h-1.1zM359.2 689.5h1.1v1.1h-1.1zM341.1 713.3h1.1v1.1h-1.1zM356.1 707.2h1.1v1.1h-1.1zM344.1 698.7h1.1v1.1h-1.1zM357.1 692.5h1.1v1.1h-1.1zM343.7 708.8h1.1v1.1h-1.1zM343.7 698.9h1.1v1.1h-1.1zM349.9 688.0h1.1v1.1h-1.1zM346.9 706.9h1.1v1.1h-1.1zM354.8 693.3h1.1v1.1h-1.1zM345.7 714.0h1.1v1.1h-1.1zM344.0 696.3h1.1v1.1h-1.1zM337.5 695.2h1.1v1.1h-1.1zM360.6 702.8h1.1v1.1h-1.1zM354.2 693.8h1.1v1.1h-1.1zM358.9 700.4h1.1v1.1h-1.1zM352.7 711.6h1.1v1.1h-1.1zM339.7 694.4h1.1v1.1h-1.1zM353.9 711.5h1.1v1.1h-1.1zM350.7 694.6h1.1v1.1h-1.1zM355.1 706.4h1.1v1.1h-1.1zM352.3 696.0h1.1v1.1h-1.1zM355.4 697.3h1.1v1.1h-1.1zM353.0 700.5h1.1v1.1h-1.1zM349.7 698.0h1.1v1.1h-1.1zM351.9 698.2h1.1v1.1h-1.1zM343.8 688.3h1.1v1.1h-1.1zM350.2 698.1h1.1v1.1h-1.1zM352.0 684.3h1.1v1.1h-1.1zM351.4 681.6h1.1v1.1h-1.1zM346.9 697.4h1.1v1.1h-1.1zM349.9 699.7h1.1v1.1h-1.1zM353.1 693.7h1.1v1.1h-1.1zM345.5 702.1h1.1v1.1h-1.1zM355.3 695.0h1.1v1.1h-1.1zM350.0 697.2h1.1v1.1h-1.1zM352.4 699.4h1.1v1.1h-1.1zM334.4 695.4h1.1v1.1h-1.1zM355.2 696.3h1.1v1.1h-1.1zM351.0 706.5h1.1v1.1h-1.1zM353.8 685.3h1.1v1.1h-1.1zM356.8 698.2h1.1v1.1h-1.1zM344.6 695.4h1.1v1.1h-1.1zM348.5 692.5h1.1v1.1h-1.1zM360.1 693.7h1.1v1.1h-1.1zM343.4 695.8h1.1v1.1h-1.1zM344.8 701.0h1.1v1.1h-1.1zM359.7 704.0h1.1v1.1h-1.1zM338.0 694.5h1.1v1.1h-1.1zM346.9 717.3h1.1v1.1h-1.1zM359.8 697.9h1.1v1.1h-1.1zM347.2 710.0h1.1v1.1h-1.1zM357.3 697.3h1.1v1.1h-1.1zM347.1 697.0h1.1v1.1h-1.1zM355.2 699.2h1.1v1.1h-1.1zM353.1 695.3h1.1v1.1h-1.1zM353.7 705.6h1.1v1.1h-1.1zM341.6 699.4h1.1v1.1h-1.1zM355.9 687.8h1.1v1.1h-1.1zM350.5 694.9h1.1v1.1h-1.1zM352.6 684.6h1.1v1.1h-1.1zM347.0 703.0h1.1v1.1h-1.1zM350.2 705.6h1.1v1.1h-1.1zM361.1 692.7h1.1v1.1h-1.1zM353.5 691.1h1.1v1.1h-1.1zM346.5 696.9h1.1v1.1h-1.1zM345.4 681.3h1.1v1.1h-1.1zM352.1 693.4h1.1v1.1h-1.1zM354.3 696.4h1.1v1.1h-1.1zM353.2 697.8h1.1v1.1h-1.1zM359.4 695.7h1.1v1.1h-1.1zM349.8 701.7h1.1v1.1h-1.1zM348.4 689.2h1.1v1.1h-1.1zM356.5 702.6h1.1v1.1h-1.1zM351.1 693.1h1.1v1.1h-1.1zM350.0 690.9h1.1v1.1h-1.1zM342.2 699.3h1.1v1.1h-1.1zM361.1 696.1h1.1v1.1h-1.1zM341.1 687.8h1.1v1.1h-1.1zM344.4 696.0h1.1v1.1h-1.1zM347.6 679.4h1.1v1.1h-1.1zM336.4 699.8h1.1v1.1h-1.1zM350.8 685.5h1.1v1.1h-1.1zM353.5 692.2h1.1v1.1h-1.1zM344.0 702.9h1.1v1.1h-1.1zM350.4 695.6h1.1v1.1h-1.1zM348.1 681.4h1.1v1.1h-1.1zM351.4 695.2h1.1v1.1h-1.1zM350.0 686.3h1.1v1.1h-1.1zM353.0 694.2h1.1v1.1h-1.1zM351.4 691.5h1.1v1.1h-1.1zM347.8 694.0h1.1v1.1h-1.1zM356.2 704.4h1.1v1.1h-1.1zM350.8 706.2h1.1v1.1h-1.1zM355.2 715.3h1.1v1.1h-1.1zM357.7 696.7h1.1v1.1h-1.1zM345.7 686.0h1.1v1.1h-1.1zM348.6 690.5h1.1v1.1h-1.1zM351.1 691.9h1.1v1.1h-1.1zM352.3 689.0h1.1v1.1h-1.1zM353.7 681.9h1.1v1.1h-1.1zM354.0 702.8h1.1v1.1h-1.1zM350.8 697.5h1.1v1.1h-1.1zM356.4 695.0h1.1v1.1h-1.1zM346.4 702.0h1.1v1.1h-1.1zM348.0 706.6h1.1v1.1h-1.1zM338.5 692.5h1.1v1.1h-1.1zM353.2 690.8h1.1v1.1h-1.1zM353.4 686.0h1.1v1.1h-1.1zM352.4 693.7h1.1v1.1h-1.1zM345.5 702.3h1.1v1.1h-1.1zM353.4 686.4h1.1v1.1h-1.1zM351.7 704.7h1.1v1.1h-1.1zM348.5 715.1h1.1v1.1h-1.1zM353.4 689.8h1.1v1.1h-1.1zM350.0 699.2h1.1v1.1h-1.1zM354.1 703.5h1.1v1.1h-1.1zM361.3 686.1h1.1v1.1h-1.1zM342.5 683.2h1.1v1.1h-1.1zM348.6 690.0h1.1v1.1h-1.1zM352.2 691.3h1.1v1.1h-1.1zM347.1 690.9h1.1v1.1h-1.1zM344.5 709.4h1.1v1.1h-1.1zM342.1 696.3h1.1v1.1h-1.1zM350.5 684.0h1.1v1.1h-1.1zM359.9 691.6h1.1v1.1h-1.1zM348.9 706.6h1.1v1.1h-1.1zM347.1 702.1h1.1v1.1h-1.1zM356.2 694.7h1.1v1.1h-1.1zM353.9 693.5h1.1v1.1h-1.1zM352.0 697.8h1.1v1.1h-1.1zM342.8 709.5h1.1v1.1h-1.1zM351.5 688.5h1.1v1.1h-1.1zM351.9 710.7h1.1v1.1h-1.1zM349.2 706.9h1.1v1.1h-1.1zM345.6 712.2h1.1v1.1h-1.1zM353.5 700.5h1.1v1.1h-1.1zM347.1 699.2h1.1v1.1h-1.1zM351.1 702.1h1.1v1.1h-1.1zM348.1 702.7h1.1v1.1h-1.1zM354.0 698.1h1.1v1.1h-1.1zM341.9 702.1h1.1v1.1h-1.1zM339.9 694.4h1.1v1.1h-1.1zM351.9 686.3h1.1v1.1h-1.1zM356.8 696.4h1.1v1.1h-1.1zM347.3 692.0h1.1v1.1h-1.1zM344.7 690.8h1.1v1.1h-1.1zM368.3 694.4h1.1v1.1h-1.1zM345.3 698.7h1.1v1.1h-1.1zM353.7 697.5h1.1v1.1h-1.1zM360.5 709.2h1.1v1.1h-1.1zM353.0 695.0h1.1v1.1h-1.1zM349.8 693.6h1.1v1.1h-1.1zM349.9 694.6h1.1v1.1h-1.1zM351.4 705.1h1.1v1.1h-1.1zM355.4 703.3h1.1v1.1h-1.1zM355.0 712.5h1.1v1.1h-1.1zM342.3 694.9h1.1v1.1h-1.1zM355.3 703.2h1.1v1.1h-1.1zM354.8 698.2h1.1v1.1h-1.1zM342.8 686.2h1.1v1.1h-1.1zM349.6 687.8h1.1v1.1h-1.1zM352.4 699.5h1.1v1.1h-1.1zM348.2 692.8h1.1v1.1h-1.1zM349.2 704.1h1.1v1.1h-1.1zM342.7 704.5h1.1v1.1h-1.1zM344.9 693.3h1.1v1.1h-1.1zM352.6 674.5h1.1v1.1h-1.1zM348.4 685.4h1.1v1.1h-1.1zM358.2 698.3h1.1v1.1h-1.1zM353.6 705.8h1.1v1.1h-1.1zM344.3 687.7h1.1v1.1h-1.1zM349.2 696.9h1.1v1.1h-1.1zM355.9 683.7h1.1v1.1h-1.1zM346.2 689.4h1.1v1.1h-1.1zM366.4 690.8h1.1v1.1h-1.1zM355.0 686.1h1.1v1.1h-1.1zM357.2 690.9h1.1v1.1h-1.1zM343.0 702.6h1.1v1.1h-1.1zM349.4 693.3h1.1v1.1h-1.1zM349.2 712.8h1.1v1.1h-1.1zM347.4 704.6h1.1v1.1h-1.1zM338.0 693.8h1.1v1.1h-1.1zM352.2 685.1h1.1v1.1h-1.1zM345.0 699.2h1.1v1.1h-1.1zM347.3 697.2h1.1v1.1h-1.1zM341.9 687.4h1.1v1.1h-1.1zM344.6 689.2h1.1v1.1h-1.1zM353.6 692.9h1.1v1.1h-1.1zM349.1 701.7h1.1v1.1h-1.1zM347.6 703.2h1.1v1.1h-1.1zM351.6 695.3h1.1v1.1h-1.1zM353.2 699.7h1.1v1.1h-1.1zM349.5 698.4h1.1v1.1h-1.1zM358.2 691.0h1.1v1.1h-1.1zM355.0 680.7h1.1v1.1h-1.1zM346.4 715.0h1.1v1.1h-1.1zM353.6 707.7h1.1v1.1h-1.1zM343.4 690.2h1.1v1.1h-1.1zM349.4 693.0h1.1v1.1h-1.1zM346.2 701.6h1.1v1.1h-1.1zM345.9 701.9h1.1v1.1h-1.1zM351.9 701.7h1.1v1.1h-1.1zM352.0 693.5h1.1v1.1h-1.1zM350.1 694.3h1.1v1.1h-1.1zM345.3 701.7h1.1v1.1h-1.1zM344.0 695.9h1.1v1.1h-1.1zM343.1 690.8h1.1v1.1h-1.1zM351.2 698.2h1.1v1.1h-1.1zM353.2 699.5h1.1v1.1h-1.1zM343.2 694.1h1.1v1.1h-1.1zM353.5 695.3h1.1v1.1h-1.1zM358.4 702.3h1.1v1.1h-1.1zM354.2 701.5h1.1v1.1h-1.1zM337.3 699.5h1.1v1.1h-1.1zM344.0 710.8h1.1v1.1h-1.1zM358.9 704.7h1.1v1.1h-1.1zM358.8 693.0h1.1v1.1h-1.1zM356.5 691.1h1.1v1.1h-1.1zM356.2 697.6h1.1v1.1h-1.1zM359.7 697.1h1.1v1.1h-1.1zM348.5 681.9h1.1v1.1h-1.1zM343.3 693.9h1.1v1.1h-1.1zM342.0 702.9h1.1v1.1h-1.1zM358.5 699.3h1.1v1.1h-1.1zM355.0 686.6h1.1v1.1h-1.1zM352.4 695.3h1.1v1.1h-1.1zM353.9 681.0h1.1v1.1h-1.1zM353.4 694.5h1.1v1.1h-1.1zM356.9 696.8h1.1v1.1h-1.1zM349.4 707.2h1.1v1.1h-1.1zM343.9 695.5h1.1v1.1h-1.1zM353.6 694.5h1.1v1.1h-1.1zM345.6 698.3h1.1v1.1h-1.1zM344.7 692.6h1.1v1.1h-1.1zM337.8 703.6h1.1v1.1h-1.1zM348.9 692.9h1.1v1.1h-1.1zM346.6 676.7h1.1v1.1h-1.1zM347.0 694.1h1.1v1.1h-1.1zM345.1 698.2h1.1v1.1h-1.1zM352.8 708.8h1.1v1.1h-1.1zM354.5 687.1h1.1v1.1h-1.1zM347.4 710.1h1.1v1.1h-1.1zM343.8 693.6h1.1v1.1h-1.1zM351.2 708.3h1.1v1.1h-1.1zM354.7 689.7h1.1v1.1h-1.1zM344.3 693.3h1.1v1.1h-1.1zM360.3 692.8h1.1v1.1h-1.1zM338.6 696.0h1.1v1.1h-1.1zM342.6 681.0h1.1v1.1h-1.1zM344.4 690.4h1.1v1.1h-1.1zM365.8 692.0h1.1v1.1h-1.1zM343.6 688.0h1.1v1.1h-1.1zM344.2 706.7h1.1v1.1h-1.1zM356.2 705.3h1.1v1.1h-1.1zM345.3 701.3h1.1v1.1h-1.1zM353.1 689.3h1.1v1.1h-1.1zM345.7 693.2h1.1v1.1h-1.1zM353.6 680.9h1.1v1.1h-1.1zM348.3 697.5h1.1v1.1h-1.1zM345.9 704.3h1.1v1.1h-1.1zM355.8 709.3h1.1v1.1h-1.1zM357.9 701.4h1.1v1.1h-1.1zM356.5 692.5h1.1v1.1h-1.1zM352.4 696.7h1.1v1.1h-1.1zM350.6 694.1h1.1v1.1h-1.1zM338.7 698.7h1.1v1.1h-1.1zM356.9 688.9h1.1v1.1h-1.1zM352.4 706.7h1.1v1.1h-1.1zM347.4 709.8h1.1v1.1h-1.1zM350.0 688.2h1.1v1.1h-1.1zM343.4 696.3h1.1v1.1h-1.1zM360.2 679.1h1.1v1.1h-1.1zM351.5 710.2h1.1v1.1h-1.1zM352.2 706.3h1.1v1.1h-1.1zM356.0 688.9h1.1v1.1h-1.1zM354.1 703.0h1.1v1.1h-1.1zM346.9 680.3h1.1v1.1h-1.1zM343.3 687.7h1.1v1.1h-1.1zM353.3 707.8h1.1v1.1h-1.1zM359.7 703.1h1.1v1.1h-1.1zM353.3 703.4h1.1v1.1h-1.1zM362.9 697.5h1.1v1.1h-1.1zM345.1 692.8h1.1v1.1h-1.1zM354.5 695.3h1.1v1.1h-1.1zM355.6 690.8h1.1v1.1h-1.1zM354.0 698.1h1.1v1.1h-1.1zM360.4 702.7h1.1v1.1h-1.1zM354.1 693.2h1.1v1.1h-1.1zM356.4 703.6h1.1v1.1h-1.1zM351.5 698.5h1.1v1.1h-1.1zM351.7 692.3h1.1v1.1h-1.1zM344.9 689.3h1.1v1.1h-1.1zM344.1 685.0h1.1v1.1h-1.1zM359.0 704.4h1.1v1.1h-1.1zM364.9 686.9h1.1v1.1h-1.1zM346.9 691.9h1.1v1.1h-1.1zM350.6 691.6h1.1v1.1h-1.1zM352.1 696.7h1.1v1.1h-1.1zM348.8 681.9h1.1v1.1h-1.1zM357.2 705.8h1.1v1.1h-1.1zM348.1 688.8h1.1v1.1h-1.1zM358.5 700.6h1.1v1.1h-1.1zM359.1 705.7h1.1v1.1h-1.1zM344.3 708.1h1.1v1.1h-1.1zM348.7 705.7h1.1v1.1h-1.1zM348.6 695.8h1.1v1.1h-1.1zM341.9 690.8h1.1v1.1h-1.1zM345.5 699.5h1.1v1.1h-1.1zM353.6 690.6h1.1v1.1h-1.1zM348.0 690.8h1.1v1.1h-1.1zM359.2 693.5h1.1v1.1h-1.1zM348.7 689.8h1.1v1.1h-1.1zM351.4 691.2h1.1v1.1h-1.1zM338.8 692.4h1.1v1.1h-1.1zM355.7 686.2h1.1v1.1h-1.1zM346.7 687.6h1.1v1.1h-1.1zM346.1 695.0h1.1v1.1h-1.1zM351.5 704.7h1.1v1.1h-1.1zM354.3 699.9h1.1v1.1h-1.1zM345.1 702.5h1.1v1.1h-1.1zM350.6 706.0h1.1v1.1h-1.1zM351.5 700.6h1.1v1.1h-1.1zM361.0 690.7h1.1v1.1h-1.1zM352.6 699.4h1.1v1.1h-1.1zM350.4 696.9h1.1v1.1h-1.1zM346.9 683.3h1.1v1.1h-1.1zM361.3 696.7h1.1v1.1h-1.1zM349.7 700.5h1.1v1.1h-1.1zM350.5 702.2h1.1v1.1h-1.1zM340.4 695.0h1.1v1.1h-1.1zM345.2 700.8h1.1v1.1h-1.1zM352.7 674.8h1.1v1.1h-1.1zM352.7 690.6h1.1v1.1h-1.1zM343.5 694.8h1.1v1.1h-1.1zM351.7 696.9h1.1v1.1h-1.1zM355.9 691.1h1.1v1.1h-1.1zM354.6 689.0h1.1v1.1h-1.1zM354.7 685.3h1.1v1.1h-1.1zM336.9 704.6h1.1v1.1h-1.1zM338.8 695.7h1.1v1.1h-1.1zM360.6 702.4h1.1v1.1h-1.1zM341.6 695.3h1.1v1.1h-1.1zM352.9 709.5h1.1v1.1h-1.1zM339.5 690.4h1.1v1.1h-1.1zM344.5 720.9h1.1v1.1h-1.1zM354.2 681.1h1.1v1.1h-1.1zM341.3 690.2h1.1v1.1h-1.1zM350.9 702.6h1.1v1.1h-1.1zM359.0 698.2h1.1v1.1h-1.1zM352.6 695.2h1.1v1.1h-1.1zM352.7 702.7h1.1v1.1h-1.1zM359.1 693.6h1.1v1.1h-1.1zM351.7 698.6h1.1v1.1h-1.1zM357.2 695.2h1.1v1.1h-1.1zM352.3 694.9h1.1v1.1h-1.1zM347.4 699.1h1.1v1.1h-1.1zM349.7 692.8h1.1v1.1h-1.1zM348.5 707.0h1.1v1.1h-1.1zM352.5 688.9h1.1v1.1h-1.1zM358.5 694.5h1.1v1.1h-1.1zM340.4 711.8h1.1v1.1h-1.1zM351.4 688.0h1.1v1.1h-1.1zM357.7 690.8h1.1v1.1h-1.1zM348.9 682.2h1.1v1.1h-1.1zM351.0 697.9h1.1v1.1h-1.1zM362.2 689.6h1.1v1.1h-1.1zM346.6 686.9h1.1v1.1h-1.1zM347.4 699.4h1.1v1.1h-1.1zM358.6 689.7h1.1v1.1h-1.1zM355.6 697.7h1.1v1.1h-1.1zM351.2 701.7h1.1v1.1h-1.1zM349.5 692.3h1.1v1.1h-1.1zM365.5 696.6h1.1v1.1h-1.1zM348.1 691.7h1.1v1.1h-1.1zM350.5 699.6h1.1v1.1h-1.1zM343.3 692.1h1.1v1.1h-1.1zM353.3 677.6h1.1v1.1h-1.1zM342.6 698.2h1.1v1.1h-1.1zM341.9 711.8h1.1v1.1h-1.1zM357.1 696.3h1.1v1.1h-1.1zM356.8 701.9h1.1v1.1h-1.1zM351.9 706.9h1.1v1.1h-1.1zM343.3 699.0h1.1v1.1h-1.1zM353.2 700.5h1.1v1.1h-1.1zM347.4 690.0h1.1v1.1h-1.1zM345.5 692.0h1.1v1.1h-1.1zM363.8 696.7h1.1v1.1h-1.1zM354.6 700.6h1.1v1.1h-1.1zM360.0 691.6h1.1v1.1h-1.1zM356.7 702.7h1.1v1.1h-1.1zM341.1 683.5h1.1v1.1h-1.1zM350.9 691.9h1.1v1.1h-1.1zM360.5 689.6h1.1v1.1h-1.1zM349.4 687.7h1.1v1.1h-1.1zM349.9 709.3h1.1v1.1h-1.1zM351.6 690.2h1.1v1.1h-1.1zM358.5 702.4h1.1v1.1h-1.1zM353.7 696.6h1.1v1.1h-1.1zM357.5 695.6h1.1v1.1h-1.1zM341.5 689.1h1.1v1.1h-1.1zM353.2 690.4h1.1v1.1h-1.1zM354.7 692.7h1.1v1.1h-1.1zM341.1 703.3h1.1v1.1h-1.1zM355.6 696.2h1.1v1.1h-1.1zM354.9 691.3h1.1v1.1h-1.1zM352.8 711.1h1.1v1.1h-1.1zM342.6 697.4h1.1v1.1h-1.1zM353.5 688.8h1.1v1.1h-1.1zM349.7 685.5h1.1v1.1h-1.1zM358.5 686.8h1.1v1.1h-1.1zM343.8 684.7h1.1v1.1h-1.1zM347.2 688.8h1.1v1.1h-1.1zM354.5 700.7h1.1v1.1h-1.1zM363.7 681.9h1.1v1.1h-1.1zM358.9 686.9h1.1v1.1h-1.1zM346.7 682.4h1.1v1.1h-1.1zM349.5 708.0h1.1v1.1h-1.1zM342.4 701.5h1.1v1.1h-1.1zM356.4 704.6h1.1v1.1h-1.1zM353.9 710.0h1.1v1.1h-1.1zM350.7 709.2h1.1v1.1h-1.1zM345.6 696.6h1.1v1.1h-1.1zM344.3 700.4h1.1v1.1h-1.1zM352.2 702.2h1.1v1.1h-1.1zM354.7 694.5h1.1v1.1h-1.1zM344.3 695.2h1.1v1.1h-1.1zM352.5 695.9h1.1v1.1h-1.1zM342.7 694.6h1.1v1.1h-1.1zM352.1 693.4h1.1v1.1h-1.1zM348.6 693.7h1.1v1.1h-1.1zM353.6 699.9h1.1v1.1h-1.1zM352.6 686.4h1.1v1.1h-1.1zM346.9 691.1h1.1v1.1h-1.1zM344.3 690.6h1.1v1.1h-1.1zM351.0 706.5h1.1v1.1h-1.1zM350.4 694.1h1.1v1.1h-1.1zM352.8 706.3h1.1v1.1h-1.1zM360.2 701.4h1.1v1.1h-1.1zM343.8 689.3h1.1v1.1h-1.1zM346.6 699.8h1.1v1.1h-1.1zM351.1 702.3h1.1v1.1h-1.1zM345.9 706.5h1.1v1.1h-1.1zM341.1 699.3h1.1v1.1h-1.1zM362.3 696.8h1.1v1.1h-1.1zM350.0 679.7h1.1v1.1h-1.1zM343.9 701.1h1.1v1.1h-1.1zM349.1 708.9h1.1v1.1h-1.1zM348.5 692.4h1.1v1.1h-1.1zM361.3 705.2h1.1v1.1h-1.1zM355.6 693.2h1.1v1.1h-1.1zM348.8 690.9h1.1v1.1h-1.1zM353.0 691.3h1.1v1.1h-1.1zM341.5 692.5h1.1v1.1h-1.1zM344.6 692.8h1.1v1.1h-1.1zM345.2 693.8h1.1v1.1h-1.1zM336.2 711.3h1.1v1.1h-1.1zM355.6 701.2h1.1v1.1h-1.1zM350.0 693.7h1.1v1.1h-1.1zM340.3 700.8h1.1v1.1h-1.1zM360.2 689.6h1.1v1.1h-1.1zM343.8 696.6h1.1v1.1h-1.1zM354.0 693.2h1.1v1.1h-1.1zM362.0 697.3h1.1v1.1h-1.1zM361.5 698.8h1.1v1.1h-1.1zM345.5 685.6h1.1v1.1h-1.1zM351.1 707.6h1.1v1.1h-1.1zM350.3 703.7h1.1v1.1h-1.1zM349.9 711.5h1.1v1.1h-1.1zM354.7 697.2h1.1v1.1h-1.1zM342.2 691.1h1.1v1.1h-1.1zM356.9 690.1h1.1v1.1h-1.1zM355.8 701.1h1.1v1.1h-1.1zM349.3 702.1h1.1v1.1h-1.1zM359.5 694.0h1.1v1.1h-1.1zM349.1 698.0h1.1v1.1h-1.1zM355.4 703.7h1.1v1.1h-1.1zM343.6 703.4h1.1v1.1h-1.1zM356.3 692.5h1.1v1.1h-1.1zM356.2 690.9h1.1v1.1h-1.1zM346.3 682.8h1.1v1.1h-1.1zM347.7 700.6h1.1v1.1h-1.1zM349.8 701.5h1.1v1.1h-1.1zM357.0 714.6h1.1v1.1h-1.1zM353.1 695.4h1.1v1.1h-1.1zM345.8 695.3h1.1v1.1h-1.1zM353.5 692.2h1.1v1.1h-1.1zM344.4 697.2h1.1v1.1h-1.1zM351.8 689.8h1.1v1.1h-1.1zM349.7 697.0h1.1v1.1h-1.1zM347.4 695.6h1.1v1.1h-1.1zM345.2 691.3h1.1v1.1h-1.1zM354.1 701.0h1.1v1.1h-1.1zM347.4 686.1h1.1v1.1h-1.1zM352.6 685.1h1.1v1.1h-1.1zM339.7 694.4h1.1v1.1h-1.1zM345.7 692.5h1.1v1.1h-1.1zM353.8 685.8h1.1v1.1h-1.1zM348.1 706.0h1.1v1.1h-1.1zM350.1 695.9h1.1v1.1h-1.1zM349.2 680.2h1.1v1.1h-1.1zM346.0 694.2h1.1v1.1h-1.1zM343.1 689.2h1.1v1.1h-1.1zM347.6 705.4h1.1v1.1h-1.1zM348.0 687.4h1.1v1.1h-1.1zM351.4 695.1h1.1v1.1h-1.1zM352.8 700.6h1.1v1.1h-1.1zM345.9 698.4h1.1v1.1h-1.1zM349.7 691.8h1.1v1.1h-1.1zM343.0 702.1h1.1v1.1h-1.1zM345.8 693.9h1.1v1.1h-1.1zM352.9 707.7h1.1v1.1h-1.1zM350.3 701.2h1.1v1.1h-1.1zM343.7 696.3h1.1v1.1h-1.1zM358.2 698.1h1.1v1.1h-1.1zM351.4 710.6h1.1v1.1h-1.1zM345.8 700.8h1.1v1.1h-1.1zM350.8 697.1h1.1v1.1h-1.1zM334.8 674.8h1.1v1.1h-1.1zM343.7 713.3h1.1v1.1h-1.1zM355.2 703.9h1.1v1.1h-1.1zM349.7 695.4h1.1v1.1h-1.1zM345.3 696.9h1.1v1.1h-1.1zM350.9 693.3h1.1v1.1h-1.1zM347.6 684.0h1.1v1.1h-1.1zM360.4 694.8h1.1v1.1h-1.1zM355.1 687.6h1.1v1.1h-1.1zM342.9 689.5h1.1v1.1h-1.1zM341.1 699.9h1.1v1.1h-1.1zM350.3 679.9h1.1v1.1h-1.1zM358.5 709.6h1.1v1.1h-1.1zM351.4 698.7h1.1v1.1h-1.1zM342.3 704.6h1.1v1.1h-1.1zM343.9 705.5h1.1v1.1h-1.1zM348.2 698.7h1.1v1.1h-1.1zM353.3 707.8h1.1v1.1h-1.1zM349.8 684.0h1.1v1.1h-1.1zM350.2 698.3h1.1v1.1h-1.1zM351.3 706.0h1.1v1.1h-1.1zM351.6 707.9h1.1v1.1h-1.1zM345.2 694.9h1.1v1.1h-1.1zM349.5 696.3h1.1v1.1h-1.1zM351.4 703.5h1.1v1.1h-1.1zM342.9 689.5h1.1v1.1h-1.1zM345.0 703.5h1.1v1.1h-1.1zM351.4 709.9h1.1v1.1h-1.1zM346.6 689.2h1.1v1.1h-1.1zM340.9 698.2h1.1v1.1h-1.1zM345.2 699.6h1.1v1.1h-1.1zM347.4 692.3h1.1v1.1h-1.1zM361.5 698.5h1.1v1.1h-1.1zM352.3 698.1h1.1v1.1h-1.1zM354.6 712.7h1.1v1.1h-1.1zM347.3 691.5h1.1v1.1h-1.1zM357.9 700.2h1.1v1.1h-1.1zM362.9 697.1h1.1v1.1h-1.1zM351.8 698.1h1.1v1.1h-1.1zM356.8 701.0h1.1v1.1h-1.1zM357.0 710.0h1.1v1.1h-1.1zM351.3 690.9h1.1v1.1h-1.1zM347.6 684.3h1.1v1.1h-1.1zM357.1 693.9h1.1v1.1h-1.1zM355.4 693.5h1.1v1.1h-1.1zM351.6 699.3h1.1v1.1h-1.1zM342.7 693.1h1.1v1.1h-1.1zM344.7 706.2h1.1v1.1h-1.1zM355.7 704.3h1.1v1.1h-1.1zM347.7 695.3h1.1v1.1h-1.1zM350.2 707.5h1.1v1.1h-1.1zM345.9 700.3h1.1v1.1h-1.1zM356.0 702.8h1.1v1.1h-1.1zM338.8 706.7h1.1v1.1h-1.1zM346.1 696.7h1.1v1.1h-1.1zM360.1 702.1h1.1v1.1h-1.1zM354.4 689.2h1.1v1.1h-1.1zM343.8 681.7h1.1v1.1h-1.1zM350.4 705.6h1.1v1.1h-1.1zM354.4 686.9h1.1v1.1h-1.1zM354.1 688.0h1.1v1.1h-1.1zM360.6 693.8h1.1v1.1h-1.1zM346.4 689.5h1.1v1.1h-1.1zM352.0 690.3h1.1v1.1h-1.1zM355.2 704.0h1.1v1.1h-1.1zM353.4 712.0h1.1v1.1h-1.1zM350.9 706.6h1.1v1.1h-1.1zM344.5 692.9h1.1v1.1h-1.1zM341.8 696.4h1.1v1.1h-1.1zM346.1 705.7h1.1v1.1h-1.1zM351.0 699.0h1.1v1.1h-1.1zM345.6 690.8h1.1v1.1h-1.1zM351.8 688.3h1.1v1.1h-1.1zM337.7 690.2h1.1v1.1h-1.1zM341.7 701.1h1.1v1.1h-1.1zM343.9 693.8h1.1v1.1h-1.1zM348.1 722.3h1.1v1.1h-1.1zM349.5 688.9h1.1v1.1h-1.1zM350.2 700.9h1.1v1.1h-1.1zM348.9 690.7h1.1v1.1h-1.1zM349.0 695.5h1.1v1.1h-1.1zM359.8 696.1h1.1v1.1h-1.1zM356.2 702.9h1.1v1.1h-1.1zM347.1 681.8h1.1v1.1h-1.1zM363.1 708.6h1.1v1.1h-1.1zM357.0 689.9h1.1v1.1h-1.1zM343.5 689.3h1.1v1.1h-1.1zM360.3 692.9h1.1v1.1h-1.1zM343.9 699.1h1.1v1.1h-1.1zM336.4 700.7h1.1v1.1h-1.1zM358.1 697.0h1.1v1.1h-1.1zM351.5 708.8h1.1v1.1h-1.1zM356.2 691.9h1.1v1.1h-1.1zM344.0 688.6h1.1v1.1h-1.1zM364.0 681.0h1.1v1.1h-1.1zM348.0 694.4h1.1v1.1h-1.1zM384.7 685.8h1.1v1.1h-1.1zM369.5 706.3h1.1v1.1h-1.1zM382.0 705.3h1.1v1.1h-1.1zM375.7 700.3h1.1v1.1h-1.1zM373.2 705.8h1.1v1.1h-1.1zM371.4 683.6h1.1v1.1h-1.1zM372.9 686.1h1.1v1.1h-1.1zM376.4 688.5h1.1v1.1h-1.1zM369.5 699.2h1.1v1.1h-1.1zM377.2 694.0h1.1v1.1h-1.1zM373.9 698.3h1.1v1.1h-1.1zM380.7 693.2h1.1v1.1h-1.1zM375.5 704.2h1.1v1.1h-1.1zM367.9 703.5h1.1v1.1h-1.1zM379.6 711.9h1.1v1.1h-1.1zM372.8 701.8h1.1v1.1h-1.1zM371.5 686.4h1.1v1.1h-1.1zM371.6 707.2h1.1v1.1h-1.1zM375.3 699.7h1.1v1.1h-1.1zM381.5 693.6h1.1v1.1h-1.1zM383.5 702.4h1.1v1.1h-1.1zM372.4 693.2h1.1v1.1h-1.1zM377.4 705.3h1.1v1.1h-1.1zM370.6 703.1h1.1v1.1h-1.1zM368.3 698.1h1.1v1.1h-1.1zM366.0 696.3h1.1v1.1h-1.1zM383.8 696.1h1.1v1.1h-1.1zM387.5 682.8h1.1v1.1h-1.1zM382.8 706.9h1.1v1.1h-1.1zM374.9 712.8h1.1v1.1h-1.1zM371.6 695.2h1.1v1.1h-1.1zM374.3 704.9h1.1v1.1h-1.1zM389.2 693.2h1.1v1.1h-1.1zM381.7 688.1h1.1v1.1h-1.1zM375.8 708.8h1.1v1.1h-1.1zM371.8 681.2h1.1v1.1h-1.1zM373.2 705.7h1.1v1.1h-1.1zM391.7 697.2h1.1v1.1h-1.1zM370.3 687.5h1.1v1.1h-1.1zM377.9 709.9h1.1v1.1h-1.1zM379.3 706.5h1.1v1.1h-1.1zM380.1 691.9h1.1v1.1h-1.1zM369.9 707.2h1.1v1.1h-1.1zM386.9 701.5h1.1v1.1h-1.1zM384.2 701.5h1.1v1.1h-1.1zM373.9 696.8h1.1v1.1h-1.1zM374.8 689.6h1.1v1.1h-1.1zM373.7 697.8h1.1v1.1h-1.1zM374.9 693.5h1.1v1.1h-1.1zM375.1 692.7h1.1v1.1h-1.1zM384.8 703.3h1.1v1.1h-1.1zM358.5 709.6h1.1v1.1h-1.1zM380.3 712.1h1.1v1.1h-1.1zM371.1 699.2h1.1v1.1h-1.1zM381.9 698.3h1.1v1.1h-1.1zM376.9 695.4h1.1v1.1h-1.1zM377.2 700.4h1.1v1.1h-1.1zM367.3 699.8h1.1v1.1h-1.1zM374.6 701.1h1.1v1.1h-1.1zM390.2 699.9h1.1v1.1h-1.1zM377.6 705.2h1.1v1.1h-1.1zM382.7 700.4h1.1v1.1h-1.1zM381.1 692.8h1.1v1.1h-1.1zM372.8 701.0h1.1v1.1h-1.1zM367.4 708.8h1.1v1.1h-1.1zM387.4 696.5h1.1v1.1h-1.1zM371.7 695.1h1.1v1.1h-1.1zM380.3 706.8h1.1v1.1h-1.1zM366.1 695.9h1.1v1.1h-1.1zM378.2 695.5h1.1v1.1h-1.1zM364.8 689.1h1.1v1.1h-1.1zM374.1 712.5h1.1v1.1h-1.1zM373.0 702.1h1.1v1.1h-1.1zM377.4 691.4h1.1v1.1h-1.1zM380.0 694.4h1.1v1.1h-1.1zM374.2 687.9h1.1v1.1h-1.1zM380.9 699.4h1.1v1.1h-1.1zM372.3 688.2h1.1v1.1h-1.1zM374.4 715.3h1.1v1.1h-1.1zM383.4 694.1h1.1v1.1h-1.1zM387.7 682.7h1.1v1.1h-1.1zM381.8 696.2h1.1v1.1h-1.1zM375.6 706.7h1.1v1.1h-1.1zM373.9 704.3h1.1v1.1h-1.1zM373.4 680.8h1.1v1.1h-1.1zM381.8 710.1h1.1v1.1h-1.1zM370.3 704.0h1.1v1.1h-1.1zM367.4 696.4h1.1v1.1h-1.1zM368.3 716.8h1.1v1.1h-1.1zM364.8 703.0h1.1v1.1h-1.1zM363.4 693.8h1.1v1.1h-1.1zM380.7 691.5h1.1v1.1h-1.1zM376.9 693.1h1.1v1.1h-1.1zM378.2 690.2h1.1v1.1h-1.1zM376.9 698.6h1.1v1.1h-1.1zM377.3 697.3h1.1v1.1h-1.1zM374.7 704.7h1.1v1.1h-1.1zM374.8 706.5h1.1v1.1h-1.1zM379.1 689.0h1.1v1.1h-1.1zM362.4 696.2h1.1v1.1h-1.1zM374.6 693.7h1.1v1.1h-1.1zM365.1 695.0h1.1v1.1h-1.1zM378.8 708.8h1.1v1.1h-1.1zM375.2 688.8h1.1v1.1h-1.1zM372.1 693.6h1.1v1.1h-1.1zM366.8 691.6h1.1v1.1h-1.1zM387.4 695.5h1.1v1.1h-1.1zM380.0 695.6h1.1v1.1h-1.1zM378.7 714.5h1.1v1.1h-1.1zM367.6 694.6h1.1v1.1h-1.1zM372.4 693.6h1.1v1.1h-1.1zM382.1 693.3h1.1v1.1h-1.1zM371.8 705.7h1.1v1.1h-1.1zM371.6 711.8h1.1v1.1h-1.1zM377.7 706.8h1.1v1.1h-1.1zM374.4 698.8h1.1v1.1h-1.1zM378.8 707.2h1.1v1.1h-1.1zM376.9 685.8h1.1v1.1h-1.1zM376.0 703.0h1.1v1.1h-1.1zM376.8 703.6h1.1v1.1h-1.1zM377.9 686.5h1.1v1.1h-1.1zM382.2 692.1h1.1v1.1h-1.1zM376.4 698.2h1.1v1.1h-1.1zM368.6 693.6h1.1v1.1h-1.1zM379.7 693.2h1.1v1.1h-1.1zM384.4 703.3h1.1v1.1h-1.1zM367.8 689.4h1.1v1.1h-1.1zM365.3 693.8h1.1v1.1h-1.1zM367.5 708.0h1.1v1.1h-1.1zM384.2 692.1h1.1v1.1h-1.1zM373.2 694.7h1.1v1.1h-1.1zM377.8 693.7h1.1v1.1h-1.1zM367.1 704.4h1.1v1.1h-1.1zM385.7 711.8h1.1v1.1h-1.1zM373.0 701.6h1.1v1.1h-1.1zM383.2 712.7h1.1v1.1h-1.1zM378.2 694.9h1.1v1.1h-1.1zM377.4 711.4h1.1v1.1h-1.1zM371.6 698.3h1.1v1.1h-1.1zM376.5 720.2h1.1v1.1h-1.1zM371.3 695.9h1.1v1.1h-1.1zM386.1 689.2h1.1v1.1h-1.1zM393.3 691.1h1.1v1.1h-1.1zM375.4 702.4h1.1v1.1h-1.1zM382.5 710.2h1.1v1.1h-1.1zM377.6 705.8h1.1v1.1h-1.1zM376.0 704.2h1.1v1.1h-1.1zM375.6 709.5h1.1v1.1h-1.1zM374.1 690.0h1.1v1.1h-1.1zM383.9 710.1h1.1v1.1h-1.1zM375.8 709.5h1.1v1.1h-1.1zM372.6 704.4h1.1v1.1h-1.1zM363.2 703.8h1.1v1.1h-1.1zM371.0 696.9h1.1v1.1h-1.1zM365.6 703.3h1.1v1.1h-1.1zM377.7 693.9h1.1v1.1h-1.1zM374.3 705.7h1.1v1.1h-1.1zM381.8 704.7h1.1v1.1h-1.1zM387.6 713.2h1.1v1.1h-1.1zM375.9 709.0h1.1v1.1h-1.1zM370.9 710.7h1.1v1.1h-1.1zM375.7 692.5h1.1v1.1h-1.1zM374.5 688.7h1.1v1.1h-1.1zM376.4 702.7h1.1v1.1h-1.1zM369.5 711.8h1.1v1.1h-1.1zM380.6 702.8h1.1v1.1h-1.1zM375.4 687.7h1.1v1.1h-1.1zM383.8 704.6h1.1v1.1h-1.1zM377.8 688.1h1.1v1.1h-1.1zM369.8 702.4h1.1v1.1h-1.1zM385.2 708.6h1.1v1.1h-1.1zM375.2 696.2h1.1v1.1h-1.1zM379.1 704.8h1.1v1.1h-1.1zM382.1 695.2h1.1v1.1h-1.1zM370.6 702.9h1.1v1.1h-1.1zM373.0 690.7h1.1v1.1h-1.1zM376.0 697.4h1.1v1.1h-1.1zM365.0 695.2h1.1v1.1h-1.1zM380.6 705.8h1.1v1.1h-1.1zM375.2 698.7h1.1v1.1h-1.1zM378.1 689.1h1.1v1.1h-1.1zM373.3 691.9h1.1v1.1h-1.1zM381.3 694.2h1.1v1.1h-1.1zM376.4 717.4h1.1v1.1h-1.1zM384.6 699.0h1.1v1.1h-1.1zM374.2 695.8h1.1v1.1h-1.1zM383.2 695.1h1.1v1.1h-1.1zM374.6 695.5h1.1v1.1h-1.1zM371.4 703.2h1.1v1.1h-1.1zM373.6 698.0h1.1v1.1h-1.1zM379.9 686.8h1.1v1.1h-1.1zM384.4 702.6h1.1v1.1h-1.1zM377.2 704.9h1.1v1.1h-1.1zM372.9 704.6h1.1v1.1h-1.1zM366.8 705.9h1.1v1.1h-1.1zM373.4 700.9h1.1v1.1h-1.1zM384.7 708.6h1.1v1.1h-1.1zM368.3 701.0h1.1v1.1h-1.1zM374.4 693.7h1.1v1.1h-1.1zM375.1 691.7h1.1v1.1h-1.1zM376.0 699.0h1.1v1.1h-1.1zM378.5 695.3h1.1v1.1h-1.1zM364.4 693.2h1.1v1.1h-1.1zM375.5 695.8h1.1v1.1h-1.1zM383.9 694.7h1.1v1.1h-1.1zM374.9 707.9h1.1v1.1h-1.1zM371.9 701.5h1.1v1.1h-1.1zM374.3 676.2h1.1v1.1h-1.1zM377.4 682.6h1.1v1.1h-1.1zM386.8 702.5h1.1v1.1h-1.1zM383.9 687.7h1.1v1.1h-1.1zM374.4 714.4h1.1v1.1h-1.1zM379.0 682.0h1.1v1.1h-1.1zM376.0 702.1h1.1v1.1h-1.1zM365.8 710.5h1.1v1.1h-1.1zM369.7 699.5h1.1v1.1h-1.1zM373.2 691.6h1.1v1.1h-1.1zM375.7 703.1h1.1v1.1h-1.1zM374.9 703.8h1.1v1.1h-1.1zM380.5 707.9h1.1v1.1h-1.1zM367.7 692.7h1.1v1.1h-1.1zM369.5 692.9h1.1v1.1h-1.1zM372.4 701.9h1.1v1.1h-1.1zM373.3 685.0h1.1v1.1h-1.1zM382.3 682.5h1.1v1.1h-1.1zM387.3 709.2h1.1v1.1h-1.1zM382.0 698.5h1.1v1.1h-1.1zM373.8 700.0h1.1v1.1h-1.1zM381.9 703.9h1.1v1.1h-1.1zM370.2 692.7h1.1v1.1h-1.1zM379.5 689.0h1.1v1.1h-1.1zM367.2 707.7h1.1v1.1h-1.1zM381.9 684.7h1.1v1.1h-1.1zM376.8 698.2h1.1v1.1h-1.1zM368.9 699.8h1.1v1.1h-1.1zM372.8 708.3h1.1v1.1h-1.1zM381.5 699.4h1.1v1.1h-1.1zM378.6 698.8h1.1v1.1h-1.1zM377.8 669.1h1.1v1.1h-1.1zM374.8 688.0h1.1v1.1h-1.1zM379.9 691.1h1.1v1.1h-1.1zM370.5 695.2h1.1v1.1h-1.1zM370.5 691.9h1.1v1.1h-1.1zM369.8 700.4h1.1v1.1h-1.1zM377.7 701.2h1.1v1.1h-1.1zM374.6 698.4h1.1v1.1h-1.1zM378.7 702.8h1.1v1.1h-1.1zM380.1 699.6h1.1v1.1h-1.1zM380.6 686.4h1.1v1.1h-1.1zM365.1 698.0h1.1v1.1h-1.1zM377.4 690.6h1.1v1.1h-1.1zM379.6 696.4h1.1v1.1h-1.1zM372.8 690.7h1.1v1.1h-1.1zM382.0 702.2h1.1v1.1h-1.1zM369.7 696.9h1.1v1.1h-1.1zM371.9 705.7h1.1v1.1h-1.1zM380.8 697.0h1.1v1.1h-1.1zM378.1 699.7h1.1v1.1h-1.1zM382.5 700.5h1.1v1.1h-1.1zM375.5 711.5h1.1v1.1h-1.1zM378.9 706.6h1.1v1.1h-1.1zM373.4 700.4h1.1v1.1h-1.1zM370.4 701.0h1.1v1.1h-1.1zM378.7 704.4h1.1v1.1h-1.1zM381.0 697.5h1.1v1.1h-1.1zM363.5 700.7h1.1v1.1h-1.1zM382.3 698.5h1.1v1.1h-1.1zM380.3 702.0h1.1v1.1h-1.1zM374.6 706.6h1.1v1.1h-1.1zM373.5 699.1h1.1v1.1h-1.1zM378.4 695.2h1.1v1.1h-1.1zM369.8 678.8h1.1v1.1h-1.1zM375.9 687.9h1.1v1.1h-1.1zM371.9 700.0h1.1v1.1h-1.1zM373.5 695.8h1.1v1.1h-1.1zM370.3 701.0h1.1v1.1h-1.1zM372.2 704.7h1.1v1.1h-1.1zM373.1 707.2h1.1v1.1h-1.1zM373.1 713.1h1.1v1.1h-1.1zM370.6 682.8h1.1v1.1h-1.1zM387.4 694.0h1.1v1.1h-1.1zM375.1 697.8h1.1v1.1h-1.1zM383.9 691.6h1.1v1.1h-1.1zM366.7 693.0h1.1v1.1h-1.1zM375.5 702.4h1.1v1.1h-1.1zM376.5 695.3h1.1v1.1h-1.1zM374.9 714.4h1.1v1.1h-1.1zM383.6 701.7h1.1v1.1h-1.1zM374.7 699.4h1.1v1.1h-1.1zM373.9 689.7h1.1v1.1h-1.1zM374.7 698.5h1.1v1.1h-1.1zM372.5 706.9h1.1v1.1h-1.1zM375.2 717.7h1.1v1.1h-1.1zM381.3 710.2h1.1v1.1h-1.1zM383.5 687.1h1.1v1.1h-1.1zM372.1 693.2h1.1v1.1h-1.1zM384.3 697.0h1.1v1.1h-1.1zM376.5 698.6h1.1v1.1h-1.1zM380.1 697.3h1.1v1.1h-1.1zM380.7 704.0h1.1v1.1h-1.1zM388.6 654.0h1.1v1.1h-1.1zM387.5 657.1h1.1v1.1h-1.1zM386.1 640.9h1.1v1.1h-1.1zM387.8 622.7h1.1v1.1h-1.1zM381.1 644.9h1.1v1.1h-1.1zM391.6 644.4h1.1v1.1h-1.1zM385.4 653.6h1.1v1.1h-1.1zM390.2 627.5h1.1v1.1h-1.1zM390.7 655.7h1.1v1.1h-1.1zM386.8 643.7h1.1v1.1h-1.1zM385.2 648.4h1.1v1.1h-1.1zM389.0 646.5h1.1v1.1h-1.1zM383.2 653.8h1.1v1.1h-1.1zM389.3 646.0h1.1v1.1h-1.1zM392.0 643.7h1.1v1.1h-1.1zM392.6 632.7h1.1v1.1h-1.1zM389.6 634.6h1.1v1.1h-1.1zM385.3 662.5h1.1v1.1h-1.1zM393.0 650.1h1.1v1.1h-1.1zM383.5 671.9h1.1v1.1h-1.1zM391.1 634.1h1.1v1.1h-1.1zM387.6 642.3h1.1v1.1h-1.1zM391.8 636.8h1.1v1.1h-1.1zM391.6 638.1h1.1v1.1h-1.1zM384.2 663.3h1.1v1.1h-1.1zM390.3 642.1h1.1v1.1h-1.1zM387.9 658.5h1.1v1.1h-1.1zM386.6 642.6h1.1v1.1h-1.1zM382.9 652.2h1.1v1.1h-1.1zM382.2 660.2h1.1v1.1h-1.1zM381.2 664.5h1.1v1.1h-1.1zM389.0 638.3h1.1v1.1h-1.1zM393.2 648.9h1.1v1.1h-1.1zM391.4 655.8h1.1v1.1h-1.1zM387.3 667.2h1.1v1.1h-1.1zM391.9 643.9h1.1v1.1h-1.1zM387.3 651.8h1.1v1.1h-1.1zM391.1 648.5h1.1v1.1h-1.1zM388.6 665.1h1.1v1.1h-1.1zM381.8 671.5h1.1v1.1h-1.1zM384.3 641.4h1.1v1.1h-1.1zM389.4 634.9h1.1v1.1h-1.1zM383.4 661.7h1.1v1.1h-1.1zM382.9 653.6h1.1v1.1h-1.1zM382.5 650.8h1.1v1.1h-1.1zM389.6 649.8h1.1v1.1h-1.1zM391.5 629.0h1.1v1.1h-1.1zM383.5 668.7h1.1v1.1h-1.1zM380.7 669.8h1.1v1.1h-1.1zM384.6 663.5h1.1v1.1h-1.1zM393.5 618.7h1.1v1.1h-1.1zM386.6 647.5h1.1v1.1h-1.1zM395.3 633.7h1.1v1.1h-1.1zM389.2 655.0h1.1v1.1h-1.1zM386.5 645.1h1.1v1.1h-1.1zM381.7 650.9h1.1v1.1h-1.1zM385.8 657.9h1.1v1.1h-1.1zM387.7 652.0h1.1v1.1h-1.1zM393.3 627.4h1.1v1.1h-1.1zM382.4 653.1h1.1v1.1h-1.1zM383.7 660.1h1.1v1.1h-1.1zM389.0 635.5h1.1v1.1h-1.1zM389.9 661.5h1.1v1.1h-1.1zM394.0 635.2h1.1v1.1h-1.1zM384.1 666.5h1.1v1.1h-1.1zM389.3 640.8h1.1v1.1h-1.1zM399.0 639.2h1.1v1.1h-1.1zM386.4 662.3h1.1v1.1h-1.1zM387.5 648.4h1.1v1.1h-1.1zM392.4 646.4h1.1v1.1h-1.1zM383.8 641.0h1.1v1.1h-1.1zM389.1 662.6h1.1v1.1h-1.1zM387.0 638.5h1.1v1.1h-1.1zM386.9 661.1h1.1v1.1h-1.1zM390.5 649.2h1.1v1.1h-1.1zM388.5 637.7h1.1v1.1h-1.1zM394.2 633.9h1.1v1.1h-1.1zM381.2 663.9h1.1v1.1h-1.1zM387.8 638.1h1.1v1.1h-1.1zM383.8 671.8h1.1v1.1h-1.1zM386.2 651.8h1.1v1.1h-1.1zM384.3 643.2h1.1v1.1h-1.1zM390.4 655.6h1.1v1.1h-1.1zM385.6 670.7h1.1v1.1h-1.1zM396.5 629.1h1.1v1.1h-1.1zM397.1 641.3h1.1v1.1h-1.1zM379.8 658.9h1.1v1.1h-1.1zM388.1 648.3h1.1v1.1h-1.1zM390.4 653.8h1.1v1.1h-1.1zM384.8 647.4h1.1v1.1h-1.1zM388.8 655.5h1.1v1.1h-1.1zM386.5 655.9h1.1v1.1h-1.1zM385.5 653.1h1.1v1.1h-1.1zM381.9 670.0h1.1v1.1h-1.1zM390.2 630.8h1.1v1.1h-1.1zM387.7 647.0h1.1v1.1h-1.1zM391.4 623.2h1.1v1.1h-1.1zM387.2 666.6h1.1v1.1h-1.1zM391.2 642.5h1.1v1.1h-1.1zM389.2 654.5h1.1v1.1h-1.1zM390.7 658.9h1.1v1.1h-1.1zM386.1 647.1h1.1v1.1h-1.1zM394.2 636.6h1.1v1.1h-1.1zM388.4 652.8h1.1v1.1h-1.1zM383.8 664.4h1.1v1.1h-1.1zM389.2 648.3h1.1v1.1h-1.1zM386.2 634.8h1.1v1.1h-1.1zM387.1 645.0h1.1v1.1h-1.1zM388.4 648.0h1.1v1.1h-1.1zM397.1 636.6h1.1v1.1h-1.1zM391.5 649.7h1.1v1.1h-1.1zM391.9 636.3h1.1v1.1h-1.1zM389.0 666.3h1.1v1.1h-1.1zM389.2 651.7h1.1v1.1h-1.1zM394.3 640.0h1.1v1.1h-1.1zM383.9 654.6h1.1v1.1h-1.1zM388.6 652.9h1.1v1.1h-1.1zM396.8 636.3h1.1v1.1h-1.1zM389.8 648.0h1.1v1.1h-1.1zM389.0 660.2h1.1v1.1h-1.1zM390.7 631.9h1.1v1.1h-1.1zM392.0 637.8h1.1v1.1h-1.1zM390.3 631.3h1.1v1.1h-1.1zM395.4 621.3h1.1v1.1h-1.1zM381.2 656.2h1.1v1.1h-1.1zM390.6 640.2h1.1v1.1h-1.1zM393.6 617.9h1.1v1.1h-1.1zM393.9 652.3h1.1v1.1h-1.1zM389.2 655.8h1.1v1.1h-1.1zM388.5 648.6h1.1v1.1h-1.1zM384.0 650.1h1.1v1.1h-1.1zM388.3 648.2h1.1v1.1h-1.1zM389.6 654.8h1.1v1.1h-1.1zM387.3 654.3h1.1v1.1h-1.1zM384.1 659.8h1.1v1.1h-1.1zM385.1 654.3h1.1v1.1h-1.1zM386.1 653.3h1.1v1.1h-1.1zM381.3 663.4h1.1v1.1h-1.1zM394.9 663.6h1.1v1.1h-1.1zM386.5 646.7h1.1v1.1h-1.1zM382.9 646.2h1.1v1.1h-1.1zM388.3 624.6h1.1v1.1h-1.1zM387.6 643.3h1.1v1.1h-1.1zM388.1 641.8h1.1v1.1h-1.1zM386.4 654.3h1.1v1.1h-1.1zM394.1 639.7h1.1v1.1h-1.1zM378.6 665.0h1.1v1.1h-1.1zM382.8 654.3h1.1v1.1h-1.1zM388.6 627.6h1.1v1.1h-1.1zM391.8 637.3h1.1v1.1h-1.1zM390.2 633.1h1.1v1.1h-1.1zM388.7 649.2h1.1v1.1h-1.1zM389.2 661.6h1.1v1.1h-1.1zM389.8 649.0h1.1v1.1h-1.1zM390.3 650.7h1.1v1.1h-1.1zM382.6 661.3h1.1v1.1h-1.1zM382.5 669.0h1.1v1.1h-1.1zM381.7 640.1h1.1v1.1h-1.1zM382.2 651.1h1.1v1.1h-1.1zM385.5 671.9h1.1v1.1h-1.1zM385.2 663.6h1.1v1.1h-1.1zM393.0 656.4h1.1v1.1h-1.1zM379.9 645.1h1.1v1.1h-1.1zM389.5 638.6h1.1v1.1h-1.1zM383.8 659.2h1.1v1.1h-1.1zM393.7 650.1h1.1v1.1h-1.1zM391.6 639.6h1.1v1.1h-1.1zM386.4 644.4h1.1v1.1h-1.1zM389.7 664.2h1.1v1.1h-1.1zM391.8 655.0h1.1v1.1h-1.1zM394.5 662.1h1.1v1.1h-1.1zM384.0 650.9h1.1v1.1h-1.1zM391.9 630.8h1.1v1.1h-1.1zM389.7 655.0h1.1v1.1h-1.1zM382.6 664.5h1.1v1.1h-1.1zM386.5 664.4h1.1v1.1h-1.1zM391.4 637.0h1.1v1.1h-1.1zM383.3 654.9h1.1v1.1h-1.1zM380.3 657.6h1.1v1.1h-1.1zM392.2 651.7h1.1v1.1h-1.1zM387.6 659.0h1.1v1.1h-1.1zM383.1 676.3h1.1v1.1h-1.1zM390.9 645.0h1.1v1.1h-1.1zM391.4 639.7h1.1v1.1h-1.1zM385.9 635.7h1.1v1.1h-1.1zM390.0 615.4h1.1v1.1h-1.1zM384.8 625.5h1.1v1.1h-1.1zM389.2 645.4h1.1v1.1h-1.1zM382.6 645.9h1.1v1.1h-1.1zM388.2 644.5h1.1v1.1h-1.1zM382.9 646.7h1.1v1.1h-1.1zM380.6 649.5h1.1v1.1h-1.1zM386.4 655.2h1.1v1.1h-1.1zM391.3 643.7h1.1v1.1h-1.1zM388.9 623.7h1.1v1.1h-1.1zM389.8 656.7h1.1v1.1h-1.1zM385.7 666.4h1.1v1.1h-1.1zM381.7 658.0h1.1v1.1h-1.1zM391.4 644.0h1.1v1.1h-1.1zM393.1 639.5h1.1v1.1h-1.1zM392.7 630.7h1.1v1.1h-1.1zM387.9 646.0h1.1v1.1h-1.1zM382.9 651.7h1.1v1.1h-1.1zM393.5 647.8h1.1v1.1h-1.1zM391.3 650.3h1.1v1.1h-1.1zM382.7 677.0h1.1v1.1h-1.1zM399.4 619.1h1.1v1.1h-1.1zM390.7 652.1h1.1v1.1h-1.1zM392.4 645.6h1.1v1.1h-1.1zM389.4 635.9h1.1v1.1h-1.1zM383.5 680.3h1.1v1.1h-1.1zM395.4 635.3h1.1v1.1h-1.1zM384.0 670.6h1.1v1.1h-1.1zM385.4 668.2h1.1v1.1h-1.1zM384.5 664.6h1.1v1.1h-1.1zM384.3 640.1h1.1v1.1h-1.1zM384.6 661.1h1.1v1.1h-1.1zM398.9 640.0h1.1v1.1h-1.1zM382.5 660.7h1.1v1.1h-1.1zM387.0 636.5h1.1v1.1h-1.1zM382.7 667.4h1.1v1.1h-1.1zM388.8 663.5h1.1v1.1h-1.1zM394.3 613.0h1.1v1.1h-1.1zM385.0 679.3h1.1v1.1h-1.1zM388.5 636.4h1.1v1.1h-1.1zM388.7 650.6h1.1v1.1h-1.1zM389.1 646.4h1.1v1.1h-1.1zM388.4 662.6h1.1v1.1h-1.1zM393.1 631.3h1.1v1.1h-1.1zM386.4 662.2h1.1v1.1h-1.1zM340.5 751.5h1.1v1.1h-1.1zM344.6 775.4h1.1v1.1h-1.1zM343.7 714.2h1.1v1.1h-1.1zM355.4 747.1h1.1v1.1h-1.1zM348.2 733.2h1.1v1.1h-1.1zM345.0 739.0h1.1v1.1h-1.1zM348.4 714.6h1.1v1.1h-1.1zM342.3 745.1h1.1v1.1h-1.1zM344.1 699.9h1.1v1.1h-1.1zM352.7 753.6h1.1v1.1h-1.1zM351.8 748.0h1.1v1.1h-1.1zM345.4 747.8h1.1v1.1h-1.1zM346.5 709.3h1.1v1.1h-1.1zM351.4 751.4h1.1v1.1h-1.1zM354.8 756.9h1.1v1.1h-1.1zM348.7 751.0h1.1v1.1h-1.1zM350.8 728.1h1.1v1.1h-1.1zM344.5 746.4h1.1v1.1h-1.1zM349.6 731.8h1.1v1.1h-1.1zM348.8 746.7h1.1v1.1h-1.1zM345.3 748.2h1.1v1.1h-1.1zM344.8 741.2h1.1v1.1h-1.1zM341.1 717.8h1.1v1.1h-1.1zM349.1 765.1h1.1v1.1h-1.1zM347.9 732.9h1.1v1.1h-1.1zM341.7 752.5h1.1v1.1h-1.1zM355.6 762.9h1.1v1.1h-1.1zM350.0 764.0h1.1v1.1h-1.1zM356.1 745.0h1.1v1.1h-1.1zM345.9 739.5h1.1v1.1h-1.1zM352.2 729.0h1.1v1.1h-1.1zM352.2 751.0h1.1v1.1h-1.1zM345.8 752.6h1.1v1.1h-1.1zM344.0 720.7h1.1v1.1h-1.1zM333.3 742.1h1.1v1.1h-1.1zM344.4 716.1h1.1v1.1h-1.1zM352.6 740.6h1.1v1.1h-1.1zM344.5 750.7h1.1v1.1h-1.1zM355.3 741.0h1.1v1.1h-1.1zM351.3 716.0h1.1v1.1h-1.1zM349.3 743.8h1.1v1.1h-1.1zM347.7 755.1h1.1v1.1h-1.1zM360.2 752.0h1.1v1.1h-1.1zM352.2 737.5h1.1v1.1h-1.1zM352.3 724.2h1.1v1.1h-1.1zM348.3 766.0h1.1v1.1h-1.1zM355.6 704.5h1.1v1.1h-1.1zM348.6 766.4h1.1v1.1h-1.1zM344.9 727.4h1.1v1.1h-1.1zM341.7 712.9h1.1v1.1h-1.1zM340.9 723.4h1.1v1.1h-1.1zM348.9 718.8h1.1v1.1h-1.1zM348.7 726.0h1.1v1.1h-1.1zM346.1 728.8h1.1v1.1h-1.1zM356.6 740.5h1.1v1.1h-1.1zM352.0 739.3h1.1v1.1h-1.1zM353.7 755.3h1.1v1.1h-1.1zM346.5 730.1h1.1v1.1h-1.1zM354.0 735.1h1.1v1.1h-1.1zM348.7 737.1h1.1v1.1h-1.1zM356.2 779.7h1.1v1.1h-1.1zM355.3 719.6h1.1v1.1h-1.1zM346.7 727.4h1.1v1.1h-1.1zM353.5 741.2h1.1v1.1h-1.1zM350.0 719.5h1.1v1.1h-1.1zM351.2 746.4h1.1v1.1h-1.1zM348.8 737.9h1.1v1.1h-1.1zM345.8 729.7h1.1v1.1h-1.1zM351.8 737.9h1.1v1.1h-1.1zM348.8 761.7h1.1v1.1h-1.1zM346.7 735.8h1.1v1.1h-1.1zM356.0 729.0h1.1v1.1h-1.1zM343.1 725.2h1.1v1.1h-1.1zM346.3 758.6h1.1v1.1h-1.1zM348.8 728.0h1.1v1.1h-1.1zM353.7 729.7h1.1v1.1h-1.1zM348.9 753.9h1.1v1.1h-1.1zM345.9 736.5h1.1v1.1h-1.1zM349.4 750.6h1.1v1.1h-1.1zM347.1 719.7h1.1v1.1h-1.1zM352.2 740.0h1.1v1.1h-1.1zM346.6 728.2h1.1v1.1h-1.1zM347.9 730.7h1.1v1.1h-1.1zM344.9 736.5h1.1v1.1h-1.1zM352.8 753.1h1.1v1.1h-1.1zM351.1 755.1h1.1v1.1h-1.1zM352.2 719.7h1.1v1.1h-1.1zM347.7 717.8h1.1v1.1h-1.1zM347.8 755.7h1.1v1.1h-1.1zM344.0 727.3h1.1v1.1h-1.1zM359.7 745.9h1.1v1.1h-1.1zM345.0 733.2h1.1v1.1h-1.1zM352.1 778.8h1.1v1.1h-1.1zM344.8 738.5h1.1v1.1h-1.1zM349.6 762.0h1.1v1.1h-1.1zM358.8 715.7h1.1v1.1h-1.1zM352.4 746.0h1.1v1.1h-1.1zM340.6 757.1h1.1v1.1h-1.1zM353.0 747.6h1.1v1.1h-1.1zM350.2 757.3h1.1v1.1h-1.1zM344.1 741.9h1.1v1.1h-1.1zM347.2 719.6h1.1v1.1h-1.1zM349.2 709.1h1.1v1.1h-1.1zM352.3 764.9h1.1v1.1h-1.1zM343.9 722.2h1.1v1.1h-1.1zM347.7 724.9h1.1v1.1h-1.1zM358.5 717.6h1.1v1.1h-1.1zM354.5 739.1h1.1v1.1h-1.1zM354.7 721.9h1.1v1.1h-1.1zM346.9 732.6h1.1v1.1h-1.1zM350.3 726.8h1.1v1.1h-1.1zM351.8 748.3h1.1v1.1h-1.1zM353.5 743.9h1.1v1.1h-1.1zM338.5 731.7h1.1v1.1h-1.1zM349.0 776.6h1.1v1.1h-1.1zM349.7 730.3h1.1v1.1h-1.1zM345.7 755.8h1.1v1.1h-1.1zM352.8 744.0h1.1v1.1h-1.1zM349.2 716.8h1.1v1.1h-1.1zM346.1 732.4h1.1v1.1h-1.1zM341.8 716.7h1.1v1.1h-1.1zM343.3 739.4h1.1v1.1h-1.1zM349.8 726.2h1.1v1.1h-1.1zM348.8 768.5h1.1v1.1h-1.1zM352.4 744.4h1.1v1.1h-1.1zM348.9 751.5h1.1v1.1h-1.1zM345.8 704.8h1.1v1.1h-1.1zM351.3 756.7h1.1v1.1h-1.1zM344.2 714.2h1.1v1.1h-1.1zM356.3 743.0h1.1v1.1h-1.1zM373.7 738.2h1.1v1.1h-1.1zM371.9 726.5h1.1v1.1h-1.1zM373.5 734.9h1.1v1.1h-1.1zM365.0 760.7h1.1v1.1h-1.1zM358.0 730.3h1.1v1.1h-1.1zM383.1 751.2h1.1v1.1h-1.1zM378.9 732.7h1.1v1.1h-1.1zM363.2 739.9h1.1v1.1h-1.1zM365.9 730.1h1.1v1.1h-1.1zM374.9 747.4h1.1v1.1h-1.1zM371.6 692.7h1.1v1.1h-1.1zM381.0 727.9h1.1v1.1h-1.1zM363.1 752.5h1.1v1.1h-1.1zM385.7 747.4h1.1v1.1h-1.1zM372.3 717.4h1.1v1.1h-1.1zM371.3 736.3h1.1v1.1h-1.1zM380.4 723.7h1.1v1.1h-1.1zM371.3 726.5h1.1v1.1h-1.1zM391.2 747.2h1.1v1.1h-1.1zM379.3 726.5h1.1v1.1h-1.1zM367.1 770.8h1.1v1.1h-1.1zM378.4 760.3h1.1v1.1h-1.1zM372.5 733.0h1.1v1.1h-1.1zM375.0 772.0h1.1v1.1h-1.1zM384.4 716.4h1.1v1.1h-1.1zM390.0 732.1h1.1v1.1h-1.1zM370.9 723.3h1.1v1.1h-1.1zM373.8 728.4h1.1v1.1h-1.1zM366.4 720.5h1.1v1.1h-1.1zM376.7 751.4h1.1v1.1h-1.1zM371.4 757.0h1.1v1.1h-1.1zM374.1 714.1h1.1v1.1h-1.1zM373.7 746.7h1.1v1.1h-1.1zM375.5 767.1h1.1v1.1h-1.1zM383.1 756.9h1.1v1.1h-1.1zM384.7 747.2h1.1v1.1h-1.1zM365.4 756.1h1.1v1.1h-1.1zM368.9 700.9h1.1v1.1h-1.1zM374.1 722.9h1.1v1.1h-1.1zM370.2 754.6h1.1v1.1h-1.1zM375.4 737.2h1.1v1.1h-1.1zM369.7 759.5h1.1v1.1h-1.1zM361.0 725.0h1.1v1.1h-1.1zM379.6 747.1h1.1v1.1h-1.1zM380.7 716.9h1.1v1.1h-1.1zM368.9 737.1h1.1v1.1h-1.1zM384.4 700.8h1.1v1.1h-1.1zM391.0 752.0h1.1v1.1h-1.1zM369.6 733.1h1.1v1.1h-1.1zM370.4 714.6h1.1v1.1h-1.1zM366.1 752.9h1.1v1.1h-1.1zM381.9 765.1h1.1v1.1h-1.1zM363.1 710.6h1.1v1.1h-1.1zM361.4 743.9h1.1v1.1h-1.1zM384.1 719.9h1.1v1.1h-1.1zM373.6 779.2h1.1v1.1h-1.1zM366.1 745.5h1.1v1.1h-1.1zM376.9 753.4h1.1v1.1h-1.1zM363.4 719.6h1.1v1.1h-1.1zM389.7 706.4h1.1v1.1h-1.1zM370.1 773.5h1.1v1.1h-1.1zM378.6 754.1h1.1v1.1h-1.1zM369.8 735.6h1.1v1.1h-1.1zM352.1 740.5h1.1v1.1h-1.1zM379.2 736.3h1.1v1.1h-1.1zM374.0 718.7h1.1v1.1h-1.1zM368.6 724.4h1.1v1.1h-1.1zM393.9 751.7h1.1v1.1h-1.1zM368.2 733.3h1.1v1.1h-1.1zM386.8 675.1h1.1v1.1h-1.1zM383.3 663.5h1.1v1.1h-1.1zM376.7 679.9h1.1v1.1h-1.1zM382.8 672.5h1.1v1.1h-1.1zM384.1 686.8h1.1v1.1h-1.1zM380.3 682.0h1.1v1.1h-1.1zM384.9 682.3h1.1v1.1h-1.1zM388.2 672.4h1.1v1.1h-1.1zM377.7 668.8h1.1v1.1h-1.1zM371.7 680.8h1.1v1.1h-1.1zM379.4 677.2h1.1v1.1h-1.1zM363.6 668.0h1.1v1.1h-1.1zM385.2 684.6h1.1v1.1h-1.1zM391.1 664.4h1.1v1.1h-1.1zM376.6 676.0h1.1v1.1h-1.1zM384.0 666.5h1.1v1.1h-1.1zM381.7 672.5h1.1v1.1h-1.1zM379.0 679.6h1.1v1.1h-1.1zM390.7 669.7h1.1v1.1h-1.1zM378.3 675.5h1.1v1.1h-1.1zM386.0 667.4h1.1v1.1h-1.1zM390.7 663.3h1.1v1.1h-1.1zM381.2 667.3h1.1v1.1h-1.1zM382.5 683.4h1.1v1.1h-1.1zM372.7 681.3h1.1v1.1h-1.1zM381.4 659.2h1.1v1.1h-1.1zM384.9 673.3h1.1v1.1h-1.1zM381.2 672.6h1.1v1.1h-1.1zM397.8 672.1h1.1v1.1h-1.1zM376.3 681.2h1.1v1.1h-1.1zM381.3 677.6h1.1v1.1h-1.1zM378.8 668.3h1.1v1.1h-1.1zM384.5 678.1h1.1v1.1h-1.1zM377.1 687.3h1.1v1.1h-1.1zM385.6 680.9h1.1v1.1h-1.1zM374.7 662.9h1.1v1.1h-1.1zM375.8 677.3h1.1v1.1h-1.1zM394.3 684.1h1.1v1.1h-1.1zM378.0 676.8h1.1v1.1h-1.1zM381.7 665.1h1.1v1.1h-1.1zM376.6 672.6h1.1v1.1h-1.1zM389.0 675.7h1.1v1.1h-1.1zM380.2 669.1h1.1v1.1h-1.1zM390.7 672.2h1.1v1.1h-1.1zM382.8 671.2h1.1v1.1h-1.1zM375.0 681.7h1.1v1.1h-1.1zM379.1 684.5h1.1v1.1h-1.1zM385.9 673.6h1.1v1.1h-1.1zM380.0 661.7h1.1v1.1h-1.1zM385.1 677.8h1.1v1.1h-1.1zM374.3 658.2h1.1v1.1h-1.1zM382.6 666.0h1.1v1.1h-1.1zM371.1 683.3h1.1v1.1h-1.1zM375.3 667.6h1.1v1.1h-1.1zM369.3 679.5h1.1v1.1h-1.1zM376.8 665.4h1.1v1.1h-1.1zM379.5 667.6h1.1v1.1h-1.1zM367.0 666.5h1.1v1.1h-1.1zM384.7 680.4h1.1v1.1h-1.1zM381.6 662.1h1.1v1.1h-1.1zM385.1 673.9h1.1v1.1h-1.1zM375.8 672.9h1.1v1.1h-1.1zM383.7 664.7h1.1v1.1h-1.1zM380.2 675.1h1.1v1.1h-1.1zM382.7 655.8h1.1v1.1h-1.1zM390.3 659.9h1.1v1.1h-1.1zM378.0 675.4h1.1v1.1h-1.1zM373.2 678.8h1.1v1.1h-1.1zM379.0 673.1h1.1v1.1h-1.1zM385.2 677.8h1.1v1.1h-1.1zM377.5 665.5h1.1v1.1h-1.1zM387.2 678.8h1.1v1.1h-1.1zM384.7 671.9h1.1v1.1h-1.1zM382.2 684.4h1.1v1.1h-1.1zM388.3 663.9h1.1v1.1h-1.1zM382.1 664.7h1.1v1.1h-1.1zM382.7 673.7h1.1v1.1h-1.1zM367.5 676.8h1.1v1.1h-1.1zM383.4 669.8h1.1v1.1h-1.1zM374.1 669.1h1.1v1.1h-1.1z" fill="#1f2ee8" fill-opacity="0.8"/>
<path d="M346.7 698.5h1.1v1.1h-1.1zM347.0 694.5h1.1v1.1h-1.1zM346.7 693.1h1.1v1.1h-1.1zM352.3 698.5h1.1v1.1h-1.1zM350.3 691.0h1.1v1.1h-1.1zM352.7 701.5h1.1v1.1h-1.1zM353.1 699.1h1.1v1.1h-1.1zM349.6 696.5h1.1v1.1h-1.1zM354.5 699.7h1.1v1.1h-1.1zM351.2 695.5h1.1v1.1h-1.1zM348.9 700.2h1.1v1.1h-1.1zM353.1 698.9h1.1v1.1h-1.1zM354.7 697.7h1.1v1.1h-1.1zM346.3 697.9h1.1v1.1h-1.1zM346.6 697.5h1.1v1.1h-1.1zM346.5 693.6h1.1v1.1h-1.1zM348.9 690.6h1.1v1.1h-1.1zM353.5 691.1h1.1v1.1h-1.1zM351.4 701.7h1.1v1.1h-1.1zM354.9 698.8h1.1v1.1h-1.1zM348.6 700.1h1.1v1.1h-1.1zM352.4 690.6h1.1v1.1h-1.1zM352.2 695.6h1.1v1.1h-1.1zM349.7 699.3h1.1v1.1h-1.1zM348.8 693.1h1.1v1.1h-1.1zM351.6 697.0h1.1v1.1h-1.1zM352.1 695.3h1.1v1.1h-1.1zM353.8 692.9h1.1v1.1h-1.1zM352.0 691.0h1.1v1.1h-1.1zM347.3 696.7h1.1v1.1h-1.1zM355.8 698.2h1.1v1.1h-1.1zM348.4 702.0h1.1v1.1h-1.1zM351.8 694.9h1.1v1.1h-1.1zM353.3 693.1h1.1v1.1h-1.1zM354.8 700.2h1.1v1.1h-1.1zM352.7 692.5h1.1v1.1h-1.1zM351.0 697.9h1.1v1.1h-1.1zM349.8 694.7h1.1v1.1h-1.1zM352.4 691.5h1.1v1.1h-1.1zM353.7 692.9h1.1v1.1h-1.1zM355.3 698.4h1.1v1.1h-1.1zM348.3 692.6h1.1v1.1h-1.1zM350.0 700.4h1.1v1.1h-1.1zM355.2 697.9h1.1v1.1h-1.1zM353.6 691.0h1.1v1.1h-1.1zM353.9 701.1h1.1v1.1h-1.1zM354.1 697.3h1.1v1.1h-1.1zM350.6 692.2h1.1v1.1h-1.1zM352.4 690.1h1.1v1.1h-1.1zM347.6 699.1h1.1v1.1h-1.1z" fill="#19c9b5" fill-opacity="0.9"/>
<path d="M344.7 700.8h1.1v1.1h-1.1zM354.8 702.9h1.1v1.1h-1.1zM354.7 701.5h1.1v1.1h-1.1zM348.1 689.9h1.1v1.1h-1.1zM344.6 699.2h1.1v1.1h-1.1z" fill="#3ccc3c" fill-opacity="0.9"/>
<line x1="361.60" y1="591.50" x2="361.60" y2="783.00" stroke="#000" stroke-width="1.6" />
<line x1="259.00" y1="670.90" x2="449.20" y2="670.90" stroke="#000" stroke-width="1.6" />
<rect x="327.70" y="782.10" width="9.50" height="1.80" fill="#3050e0" stroke="none" stroke-width="0" fill-opacity="0.8"/>
<rect x="337.20" y="782.10" width="11.80" height="1.80" fill="#80d030" stroke="none" stroke-width="0" fill-opacity="0.9"/>
<rect x="349.00" y="782.10" width="11.00" height="1.80" fill="#e05020" stroke="none" stroke-width="0" fill-opacity="0.9"/>
<rect x="362.00" y="782.10" width="21.00" height="1.80" fill="#60d040" stroke="none" stroke-width="0" fill-opacity="0.9"/>
<rect x="383.00" y="782.10" width="5.00" height="1.80" fill="#3050e0" stroke="none" stroke-width="0" fill-opacity="0.8"/>
<line x1="276.50" y1="783.00" x2="276.50" y2="787.50" stroke="#222" stroke-width="1.4" />
<line x1="301.50" y1="783.00" x2="301.50" y2="787.50" stroke="#222" stroke-width="1.4" />
<line x1="309.03" y1="783.00" x2="309.03" y2="785.60" stroke="#333" stroke-width="0.8" />
<line x1="313.43" y1="783.00" x2="313.43" y2="785.60" stroke="#333" stroke-width="0.8" />
<line x1="316.55" y1="783.00" x2="316.55" y2="785.60" stroke="#333" stroke-width="0.8" />
<line x1="318.97" y1="783.00" x2="318.97" y2="785.60" stroke="#333" stroke-width="0.8" />
<line x1="320.95" y1="783.00" x2="320.95" y2="785.60" stroke="#333" stroke-width="0.8" />
<line x1="322.63" y1="783.00" x2="322.63" y2="785.60" stroke="#333" stroke-width="0.8" />
<line x1="324.08" y1="783.00" x2="324.08" y2="785.60" stroke="#333" stroke-width="0.8" />
<line x1="325.36" y1="783.00" x2="325.36" y2="785.60" stroke="#333" stroke-width="0.8" />
<line x1="326.50" y1="783.00" x2="326.50" y2="787.50" stroke="#222" stroke-width="1.4" />
<line x1="334.03" y1="783.00" x2="334.03" y2="785.60" stroke="#333" stroke-width="0.8" />
<line x1="338.43" y1="783.00" x2="338.43" y2="785.60" stroke="#333" stroke-width="0.8" />
<line x1="341.55" y1="783.00" x2="341.55" y2="785.60" stroke="#333" stroke-width="0.8" />
<line x1="343.97" y1="783.00" x2="343.97" y2="785.60" stroke="#333" stroke-width="0.8" />
<line x1="345.95" y1="783.00" x2="345.95" y2="785.60" stroke="#333" stroke-width="0.8" />
<line x1="347.63" y1="783.00" x2="347.63" y2="785.60" stroke="#333" stroke-width="0.8" />
<line x1="349.08" y1="783.00" x2="349.08" y2="785.60" stroke="#333" stroke-width="0.8" />
<line x1="350.36" y1="783.00" x2="350.36" y2="785.60" stroke="#333" stroke-width="0.8" />
<line x1="351.50" y1="783.00" x2="351.50" y2="787.50" stroke="#222" stroke-width="1.4" />
<line x1="359.03" y1="783.00" x2="359.03" y2="785.60" stroke="#333" stroke-width="0.8" />
<line x1="363.43" y1="783.00" x2="363.43" y2="785.60" stroke="#333" stroke-width="0.8" />
<line x1="366.55" y1="783.00" x2="366.55" y2="785.60" stroke="#333" stroke-width="0.8" />
<line x1="368.97" y1="783.00" x2="368.97" y2="785.60" stroke="#333" stroke-width="0.8" />
<line x1="370.95" y1="783.00" x2="370.95" y2="785.60" stroke="#333" stroke-width="0.8" />
<line x1="372.63" y1="783.00" x2="372.63" y2="785.60" stroke="#333" stroke-width="0.8" />
<line x1="374.08" y1="783.00" x2="374.08" y2="785.60" stroke="#333" stroke-width="0.8" />
<line x1="375.36" y1="783.00" x2="375.36" y2="785.60" stroke="#333" stroke-width="0.8" />
<line x1="376.50" y1="783.00" x2="376.50" y2="787.50" stroke="#222" stroke-width="1.4" />
<line x1="384.03" y1="783.00" x2="384.03" y2="785.60" stroke="#333" stroke-width="0.8" />
<line x1="388.43" y1="783.00" x2="388.43" y2="785.60" stroke="#333" stroke-width="0.8" />
<line x1="391.55" y1="783.00" x2="391.55" y2="785.60" stroke="#333" stroke-width="0.8" />
<line x1="393.97" y1="783.00" x2="393.97" y2="785.60" stroke="#333" stroke-width="0.8" />
<line x1="395.95" y1="783.00" x2="395.95" y2="785.60" stroke="#333" stroke-width="0.8" />
<line x1="397.63" y1="783.00" x2="397.63" y2="785.60" stroke="#333" stroke-width="0.8" />
<line x1="399.08" y1="783.00" x2="399.08" y2="785.60" stroke="#333" stroke-width="0.8" />
<line x1="400.36" y1="783.00" x2="400.36" y2="785.60" stroke="#333" stroke-width="0.8" />
<line x1="401.50" y1="783.00" x2="401.50" y2="787.50" stroke="#222" stroke-width="1.4" />
<line x1="409.03" y1="783.00" x2="409.03" y2="785.60" stroke="#333" stroke-width="0.8" />
<line x1="413.43" y1="783.00" x2="413.43" y2="785.60" stroke="#333" stroke-width="0.8" />
<line x1="416.55" y1="783.00" x2="416.55" y2="785.60" stroke="#333" stroke-width="0.8" />
<line x1="418.97" y1="783.00" x2="418.97" y2="785.60" stroke="#333" stroke-width="0.8" />
<line x1="420.95" y1="783.00" x2="420.95" y2="785.60" stroke="#333" stroke-width="0.8" />
<line x1="422.63" y1="783.00" x2="422.63" y2="785.60" stroke="#333" stroke-width="0.8" />
<line x1="424.08" y1="783.00" x2="424.08" y2="785.60" stroke="#333" stroke-width="0.8" />
<line x1="425.36" y1="783.00" x2="425.36" y2="785.60" stroke="#333" stroke-width="0.8" />
<line x1="426.50" y1="783.00" x2="426.50" y2="787.50" stroke="#222" stroke-width="1.4" />
<line x1="434.03" y1="783.00" x2="434.03" y2="785.60" stroke="#333" stroke-width="0.8" />
<line x1="438.43" y1="783.00" x2="438.43" y2="785.60" stroke="#333" stroke-width="0.8" />
<line x1="441.55" y1="783.00" x2="441.55" y2="785.60" stroke="#333" stroke-width="0.8" />
<line x1="443.97" y1="783.00" x2="443.97" y2="785.60" stroke="#333" stroke-width="0.8" />
<line x1="445.95" y1="783.00" x2="445.95" y2="785.60" stroke="#333" stroke-width="0.8" />
<line x1="447.63" y1="783.00" x2="447.63" y2="785.60" stroke="#333" stroke-width="0.8" />
<line x1="449.08" y1="783.00" x2="449.08" y2="785.60" stroke="#333" stroke-width="0.8" />
<line x1="261.50" y1="783.00" x2="261.50" y2="785.60" stroke="#333" stroke-width="0.8" />
<line x1="264.70" y1="783.00" x2="264.70" y2="785.60" stroke="#333" stroke-width="0.8" />
<line x1="267.90" y1="783.00" x2="267.90" y2="785.60" stroke="#333" stroke-width="0.8" />
<line x1="271.10" y1="783.00" x2="271.10" y2="785.60" stroke="#333" stroke-width="0.8" />
<line x1="274.30" y1="783.00" x2="274.30" y2="785.60" stroke="#333" stroke-width="0.8" />
<line x1="280.70" y1="783.00" x2="280.70" y2="785.60" stroke="#333" stroke-width="0.8" />
<line x1="283.90" y1="783.00" x2="283.90" y2="785.60" stroke="#333" stroke-width="0.8" />
<line x1="287.10" y1="783.00" x2="287.10" y2="785.60" stroke="#333" stroke-width="0.8" />
<line x1="290.30" y1="783.00" x2="290.30" y2="785.60" stroke="#333" stroke-width="0.8" />
<line x1="293.50" y1="783.00" x2="293.50" y2="785.60" stroke="#333" stroke-width="0.8" />
<line x1="296.70" y1="783.00" x2="296.70" y2="785.60" stroke="#333" stroke-width="0.8" />
<line x1="299.90" y1="783.00" x2="299.90" y2="785.60" stroke="#333" stroke-width="0.8" />
<line x1="253.50" y1="760.20" x2="259.00" y2="760.20" stroke="#222" stroke-width="1.4" />
<line x1="253.50" y1="729.90" x2="259.00" y2="729.90" stroke="#222" stroke-width="1.4" />
<line x1="256.40" y1="720.78" x2="259.00" y2="720.78" stroke="#333" stroke-width="0.8" />
<line x1="256.40" y1="715.44" x2="259.00" y2="715.44" stroke="#333" stroke-width="0.8" />
<line x1="256.40" y1="711.66" x2="259.00" y2="711.66" stroke="#333" stroke-width="0.8" />
<line x1="256.40" y1="708.72" x2="259.00" y2="708.72" stroke="#333" stroke-width="0.8" />
<line x1="256.40" y1="706.32" x2="259.00" y2="706.32" stroke="#333" stroke-width="0.8" />
<line x1="256.40" y1="704.29" x2="259.00" y2="704.29" stroke="#333" stroke-width="0.8" />
<line x1="256.40" y1="702.54" x2="259.00" y2="702.54" stroke="#333" stroke-width="0.8" />
<line x1="256.40" y1="700.99" x2="259.00" y2="700.99" stroke="#333" stroke-width="0.8" />
<line x1="253.50" y1="699.60" x2="259.00" y2="699.60" stroke="#222" stroke-width="1.4" />
<line x1="256.40" y1="690.48" x2="259.00" y2="690.48" stroke="#333" stroke-width="0.8" />
<line x1="256.40" y1="685.14" x2="259.00" y2="685.14" stroke="#333" stroke-width="0.8" />
<line x1="256.40" y1="681.36" x2="259.00" y2="681.36" stroke="#333" stroke-width="0.8" />
<line x1="256.40" y1="678.42" x2="259.00" y2="678.42" stroke="#333" stroke-width="0.8" />
<line x1="256.40" y1="676.02" x2="259.00" y2="676.02" stroke="#333" stroke-width="0.8" />
<line x1="256.40" y1="673.99" x2="259.00" y2="673.99" stroke="#333" stroke-width="0.8" />
<line x1="256.40" y1="672.24" x2="259.00" y2="672.24" stroke="#333" stroke-width="0.8" />
<line x1="256.40" y1="670.69" x2="259.00" y2="670.69" stroke="#333" stroke-width="0.8" />
<line x1="253.50" y1="669.30" x2="259.00" y2="669.30" stroke="#222" stroke-width="1.4" />
<line x1="256.40" y1="660.18" x2="259.00" y2="660.18" stroke="#333" stroke-width="0.8" />
<line x1="256.40" y1="654.84" x2="259.00" y2="654.84" stroke="#333" stroke-width="0.8" />
<line x1="256.40" y1="651.06" x2="259.00" y2="651.06" stroke="#333" stroke-width="0.8" />
<line x1="256.40" y1="648.12" x2="259.00" y2="648.12" stroke="#333" stroke-width="0.8" />
<line x1="256.40" y1="645.72" x2="259.00" y2="645.72" stroke="#333" stroke-width="0.8" />
<line x1="256.40" y1="643.69" x2="259.00" y2="643.69" stroke="#333" stroke-width="0.8" />
<line x1="256.40" y1="641.94" x2="259.00" y2="641.94" stroke="#333" stroke-width="0.8" />
<line x1="256.40" y1="640.39" x2="259.00" y2="640.39" stroke="#333" stroke-width="0.8" />
<line x1="253.50" y1="639.00" x2="259.00" y2="639.00" stroke="#222" stroke-width="1.4" />
<line x1="256.40" y1="629.88" x2="259.00" y2="629.88" stroke="#333" stroke-width="0.8" />
<line x1="256.40" y1="624.54" x2="259.00" y2="624.54" stroke="#333" stroke-width="0.8" />
<line x1="256.40" y1="620.76" x2="259.00" y2="620.76" stroke="#333" stroke-width="0.8" />
<line x1="256.40" y1="617.82" x2="259.00" y2="617.82" stroke="#333" stroke-width="0.8" />
<line x1="256.40" y1="615.42" x2="259.00" y2="615.42" stroke="#333" stroke-width="0.8" />
<line x1="256.40" y1="613.39" x2="259.00" y2="613.39" stroke="#333" stroke-width="0.8" />
<line x1="256.40" y1="611.64" x2="259.00" y2="611.64" stroke="#333" stroke-width="0.8" />
<line x1="256.40" y1="610.09" x2="259.00" y2="610.09" stroke="#333" stroke-width="0.8" />
<line x1="253.50" y1="608.70" x2="259.00" y2="608.70" stroke="#222" stroke-width="1.4" />
<line x1="256.40" y1="599.58" x2="259.00" y2="599.58" stroke="#333" stroke-width="0.8" />
<line x1="256.40" y1="594.24" x2="259.00" y2="594.24" stroke="#333" stroke-width="0.8" />
<line x1="256.40" y1="780.50" x2="259.00" y2="780.50" stroke="#333" stroke-width="0.8" />
<line x1="256.40" y1="777.30" x2="259.00" y2="777.30" stroke="#333" stroke-width="0.8" />
<line x1="256.40" y1="774.10" x2="259.00" y2="774.10" stroke="#333" stroke-width="0.8" />
<line x1="256.40" y1="770.90" x2="259.00" y2="770.90" stroke="#333" stroke-width="0.8" />
<line x1="256.40" y1="767.70" x2="259.00" y2="767.70" stroke="#333" stroke-width="0.8" />
<line x1="256.40" y1="764.50" x2="259.00" y2="764.50" stroke="#333" stroke-width="0.8" />
<line x1="256.40" y1="758.10" x2="259.00" y2="758.10" stroke="#333" stroke-width="0.8" />
<line x1="256.40" y1="754.90" x2="259.00" y2="754.90" stroke="#333" stroke-width="0.8" />
<line x1="256.40" y1="751.70" x2="259.00" y2="751.70" stroke="#333" stroke-width="0.8" />
<line x1="256.40" y1="748.50" x2="259.00" y2="748.50" stroke="#333" stroke-width="0.8" />
<line x1="256.40" y1="745.30" x2="259.00" y2="745.30" stroke="#333" stroke-width="0.8" />
<line x1="256.40" y1="742.10" x2="259.00" y2="742.10" stroke="#333" stroke-width="0.8" />
<line x1="256.40" y1="738.90" x2="259.00" y2="738.90" stroke="#333" stroke-width="0.8" />
<line x1="256.40" y1="735.70" x2="259.00" y2="735.70" stroke="#333" stroke-width="0.8" />
<line x1="256.40" y1="732.50" x2="259.00" y2="732.50" stroke="#333" stroke-width="0.8" />
<text x="276.50" y="805.30" font-family="Liberation Sans" font-size="7" font-weight="normal" text-anchor="middle" fill="#3a3a3a" >0</text>
<text x="321.50" y="805.30" font-family="Liberation Sans" font-size="7" fill="#3a3a3a">10<tspan font-size="6.6" dx="0.5" dy="-6.5">2</tspan></text>
<text x="371.50" y="805.30" font-family="Liberation Sans" font-size="7" fill="#3a3a3a">10<tspan font-size="6.6" dx="0.5" dy="-6.5">4</tspan></text>
<text x="421.50" y="805.30" font-family="Liberation Sans" font-size="7" fill="#3a3a3a">10<tspan font-size="6.6" dx="0.5" dy="-6.5">6</tspan></text>
<text x="244.80" y="762.70" font-family="Liberation Sans" font-size="7" font-weight="normal" text-anchor="end" fill="#3a3a3a" >0</text>
<text x="237.20" y="734.90" font-family="Liberation Sans" font-size="7" fill="#3a3a3a">10<tspan font-size="7" dx="0.5" dy="-5.6">1</tspan></text>
<text x="237.20" y="704.60" font-family="Liberation Sans" font-size="7" fill="#3a3a3a">10<tspan font-size="7" dx="0.5" dy="-5.6">2</tspan></text>
<text x="237.20" y="674.30" font-family="Liberation Sans" font-size="7" fill="#3a3a3a">10<tspan font-size="7" dx="0.5" dy="-5.6">3</tspan></text>
<text x="237.20" y="644.00" font-family="Liberation Sans" font-size="7" fill="#3a3a3a">10<tspan font-size="7" dx="0.5" dy="-5.6">4</tspan></text>
<text x="237.20" y="613.70" font-family="Liberation Sans" font-size="7" fill="#3a3a3a">10<tspan font-size="7" dx="0.5" dy="-5.6">5</tspan></text>
<text x="350.90" y="821.80" font-family="Liberation Sans" font-size="9" font-weight="normal" text-anchor="middle" fill="#3a3a3a" textLength="101.5" lengthAdjust="spacingAndGlyphs">FL1-A :: Annexin V FITC-A</text>
<text transform="translate(232.00,686.45) rotate(-90)" font-family="Liberation Sans" font-size="9.8" text-anchor="middle" fill="#3a3a3a" textLength="69.5" lengthAdjust="spacingAndGlyphs">FL10-A :: PI PE-A</text>
<text x="354.60" y="579.80" font-family="Liberation Serif" font-size="26" font-weight="bold" text-anchor="middle" fill="#000" >PC-3-exos</text>
<text x="262.80" y="608.30" font-family="Liberation Sans" font-size="8.7" font-weight="normal" text-anchor="start" fill="#3a3a3a" >Q1</text>
<text x="262.80" y="621.80" font-family="Liberation Sans" font-size="8.7" font-weight="normal" text-anchor="start" fill="#3a3a3a" >0.12</text>
<text x="433.60" y="608.30" font-family="Liberation Sans" font-size="8.7" font-weight="normal" text-anchor="end" fill="#3a3a3a" >Q2</text>
<text x="433.60" y="621.80" font-family="Liberation Sans" font-size="8.7" font-weight="normal" text-anchor="end" fill="#3a3a3a" >6.24</text>
<text x="262.80" y="758.50" font-family="Liberation Sans" font-size="8.7" font-weight="normal" text-anchor="start" fill="#3a3a3a" >Q4</text>
<text x="262.80" y="772.30" font-family="Liberation Sans" font-size="8.7" font-weight="normal" text-anchor="start" fill="#3a3a3a" >63.9</text>
<text x="433.60" y="758.50" font-family="Liberation Sans" font-size="8.7" font-weight="normal" text-anchor="end" fill="#3a3a3a" >Q3</text>
<text x="433.60" y="772.30" font-family="Liberation Sans" font-size="8.7" font-weight="normal" text-anchor="end" fill="#3a3a3a" >29.8</text>
<rect x="496.60" y="601.00" width="187.40" height="187.00" fill="none" stroke="#555" stroke-width="1.3" />
<path d="M592.9 714.6h1.1v1.1h-1.1zM586.3 696.8h1.1v1.1h-1.1zM602.8 705.3h1.1v1.1h-1.1zM594.2 731.9h1.1v1.1h-1.1zM595.6 695.7h1.1v1.1h-1.1zM597.0 713.8h1.1v1.1h-1.1zM583.5 702.0h1.1v1.1h-1.1zM600.9 709.6h1.1v1.1h-1.1zM592.0 706.0h1.1v1.1h-1.1zM583.8 706.3h1.1v1.1h-1.1zM589.6 685.3h1.1v1.1h-1.1zM594.3 695.2h1.1v1.1h-1.1zM595.3 725.6h1.1v1.1h-1.1zM589.1 698.9h1.1v1.1h-1.1zM588.5 709.2h1.1v1.1h-1.1zM582.1 694.7h1.1v1.1h-1.1zM602.2 696.8h1.1v1.1h-1.1zM590.8 699.5h1.1v1.1h-1.1zM604.0 699.9h1.1v1.1h-1.1zM591.5 698.3h1.1v1.1h-1.1zM602.5 683.6h1.1v1.1h-1.1zM594.2 695.7h1.1v1.1h-1.1zM589.8 718.0h1.1v1.1h-1.1zM599.7 707.2h1.1v1.1h-1.1zM591.4 696.5h1.1v1.1h-1.1zM598.9 702.8h1.1v1.1h-1.1zM591.6 707.2h1.1v1.1h-1.1zM596.0 705.1h1.1v1.1h-1.1zM595.6 698.6h1.1v1.1h-1.1zM596.7 699.0h1.1v1.1h-1.1zM584.6 702.5h1.1v1.1h-1.1zM585.3 699.7h1.1v1.1h-1.1zM586.6 703.6h1.1v1.1h-1.1zM592.8 711.2h1.1v1.1h-1.1zM585.5 702.6h1.1v1.1h-1.1zM586.2 709.7h1.1v1.1h-1.1zM586.6 696.0h1.1v1.1h-1.1zM588.1 697.2h1.1v1.1h-1.1zM587.2 714.6h1.1v1.1h-1.1zM594.3 704.4h1.1v1.1h-1.1zM596.5 702.5h1.1v1.1h-1.1zM588.4 699.9h1.1v1.1h-1.1zM590.4 711.5h1.1v1.1h-1.1zM590.7 711.9h1.1v1.1h-1.1zM599.4 705.9h1.1v1.1h-1.1zM591.0 709.6h1.1v1.1h-1.1zM592.7 709.5h1.1v1.1h-1.1zM591.6 700.3h1.1v1.1h-1.1zM587.2 717.9h1.1v1.1h-1.1zM594.5 699.9h1.1v1.1h-1.1zM585.7 689.7h1.1v1.1h-1.1zM592.8 708.3h1.1v1.1h-1.1zM596.0 718.4h1.1v1.1h-1.1zM594.2 710.3h1.1v1.1h-1.1zM586.1 692.0h1.1v1.1h-1.1zM595.5 709.1h1.1v1.1h-1.1zM591.7 711.8h1.1v1.1h-1.1zM587.5 708.2h1.1v1.1h-1.1zM592.7 704.7h1.1v1.1h-1.1zM604.2 686.9h1.1v1.1h-1.1zM604.4 698.0h1.1v1.1h-1.1zM592.1 687.8h1.1v1.1h-1.1zM587.9 703.2h1.1v1.1h-1.1zM592.7 707.2h1.1v1.1h-1.1zM590.1 719.1h1.1v1.1h-1.1zM599.4 696.6h1.1v1.1h-1.1zM601.8 693.0h1.1v1.1h-1.1zM601.5 705.2h1.1v1.1h-1.1zM589.9 715.9h1.1v1.1h-1.1zM581.3 714.4h1.1v1.1h-1.1zM590.1 709.4h1.1v1.1h-1.1zM582.9 706.1h1.1v1.1h-1.1zM594.6 713.9h1.1v1.1h-1.1zM597.0 717.3h1.1v1.1h-1.1zM595.9 689.1h1.1v1.1h-1.1zM584.8 691.8h1.1v1.1h-1.1zM591.8 710.7h1.1v1.1h-1.1zM586.9 708.5h1.1v1.1h-1.1zM593.9 706.3h1.1v1.1h-1.1zM593.8 701.1h1.1v1.1h-1.1zM590.5 710.8h1.1v1.1h-1.1zM588.0 695.0h1.1v1.1h-1.1zM584.2 699.4h1.1v1.1h-1.1zM595.4 706.6h1.1v1.1h-1.1zM584.8 694.9h1.1v1.1h-1.1zM594.8 692.7h1.1v1.1h-1.1zM587.9 711.2h1.1v1.1h-1.1zM585.0 710.3h1.1v1.1h-1.1zM592.6 714.5h1.1v1.1h-1.1zM597.6 707.9h1.1v1.1h-1.1zM601.8 690.3h1.1v1.1h-1.1zM600.2 695.0h1.1v1.1h-1.1zM589.7 705.0h1.1v1.1h-1.1zM586.4 688.9h1.1v1.1h-1.1zM588.0 692.0h1.1v1.1h-1.1zM598.2 710.8h1.1v1.1h-1.1zM598.3 715.5h1.1v1.1h-1.1zM594.5 706.1h1.1v1.1h-1.1zM592.9 705.7h1.1v1.1h-1.1zM600.1 715.3h1.1v1.1h-1.1zM599.4 686.0h1.1v1.1h-1.1zM592.9 701.8h1.1v1.1h-1.1zM583.7 703.0h1.1v1.1h-1.1zM592.3 684.2h1.1v1.1h-1.1zM589.2 713.8h1.1v1.1h-1.1zM592.6 709.3h1.1v1.1h-1.1zM585.5 694.5h1.1v1.1h-1.1zM588.7 710.3h1.1v1.1h-1.1zM590.4 705.7h1.1v1.1h-1.1zM598.0 702.5h1.1v1.1h-1.1zM596.9 715.0h1.1v1.1h-1.1zM589.3 694.9h1.1v1.1h-1.1zM585.1 689.8h1.1v1.1h-1.1zM599.9 712.0h1.1v1.1h-1.1zM586.5 703.0h1.1v1.1h-1.1zM588.3 700.2h1.1v1.1h-1.1zM587.5 684.4h1.1v1.1h-1.1zM590.8 695.6h1.1v1.1h-1.1zM598.6 705.4h1.1v1.1h-1.1zM594.8 711.1h1.1v1.1h-1.1zM592.9 699.3h1.1v1.1h-1.1zM585.0 705.5h1.1v1.1h-1.1zM597.6 690.4h1.1v1.1h-1.1zM583.7 705.6h1.1v1.1h-1.1zM585.2 712.1h1.1v1.1h-1.1zM588.5 705.2h1.1v1.1h-1.1zM590.7 691.5h1.1v1.1h-1.1zM592.2 709.5h1.1v1.1h-1.1zM599.8 689.9h1.1v1.1h-1.1zM595.6 698.5h1.1v1.1h-1.1zM594.7 697.9h1.1v1.1h-1.1zM585.2 697.8h1.1v1.1h-1.1zM589.4 711.8h1.1v1.1h-1.1zM594.2 714.9h1.1v1.1h-1.1zM587.1 710.7h1.1v1.1h-1.1zM591.1 716.4h1.1v1.1h-1.1zM601.5 691.9h1.1v1.1h-1.1zM597.4 701.0h1.1v1.1h-1.1zM592.6 696.9h1.1v1.1h-1.1zM586.8 691.3h1.1v1.1h-1.1zM592.8 682.3h1.1v1.1h-1.1zM589.8 703.1h1.1v1.1h-1.1zM587.2 714.8h1.1v1.1h-1.1zM589.2 701.8h1.1v1.1h-1.1zM590.0 700.1h1.1v1.1h-1.1zM590.8 700.4h1.1v1.1h-1.1zM595.5 709.9h1.1v1.1h-1.1zM586.7 697.8h1.1v1.1h-1.1zM600.3 709.6h1.1v1.1h-1.1zM583.7 700.3h1.1v1.1h-1.1zM591.9 712.3h1.1v1.1h-1.1zM598.7 706.6h1.1v1.1h-1.1zM593.0 696.1h1.1v1.1h-1.1zM586.8 710.1h1.1v1.1h-1.1zM586.0 717.1h1.1v1.1h-1.1zM594.0 690.5h1.1v1.1h-1.1zM594.5 712.2h1.1v1.1h-1.1zM596.1 691.1h1.1v1.1h-1.1zM595.8 710.8h1.1v1.1h-1.1zM585.4 702.1h1.1v1.1h-1.1zM592.4 718.8h1.1v1.1h-1.1zM596.2 687.1h1.1v1.1h-1.1zM587.2 711.2h1.1v1.1h-1.1zM582.3 686.6h1.1v1.1h-1.1zM589.1 720.1h1.1v1.1h-1.1zM585.3 695.9h1.1v1.1h-1.1zM593.4 691.6h1.1v1.1h-1.1zM586.4 702.6h1.1v1.1h-1.1zM590.9 703.6h1.1v1.1h-1.1zM588.8 696.7h1.1v1.1h-1.1zM603.6 699.4h1.1v1.1h-1.1zM594.4 692.5h1.1v1.1h-1.1zM580.1 699.3h1.1v1.1h-1.1zM598.2 694.5h1.1v1.1h-1.1zM597.1 695.0h1.1v1.1h-1.1zM590.5 690.4h1.1v1.1h-1.1zM596.8 685.5h1.1v1.1h-1.1zM583.9 709.5h1.1v1.1h-1.1zM593.4 708.8h1.1v1.1h-1.1zM590.3 694.0h1.1v1.1h-1.1zM589.6 698.2h1.1v1.1h-1.1zM592.6 695.4h1.1v1.1h-1.1zM599.5 696.0h1.1v1.1h-1.1zM587.7 711.6h1.1v1.1h-1.1zM593.0 699.4h1.1v1.1h-1.1zM595.0 707.3h1.1v1.1h-1.1zM593.5 704.7h1.1v1.1h-1.1zM585.2 711.3h1.1v1.1h-1.1zM589.1 704.8h1.1v1.1h-1.1zM591.8 697.2h1.1v1.1h-1.1zM579.9 708.3h1.1v1.1h-1.1zM592.4 710.7h1.1v1.1h-1.1zM588.9 698.3h1.1v1.1h-1.1zM586.4 683.6h1.1v1.1h-1.1zM585.7 688.9h1.1v1.1h-1.1zM598.6 702.4h1.1v1.1h-1.1zM603.7 694.0h1.1v1.1h-1.1zM589.9 714.9h1.1v1.1h-1.1zM596.3 707.7h1.1v1.1h-1.1zM596.5 709.6h1.1v1.1h-1.1zM587.0 686.3h1.1v1.1h-1.1zM591.8 690.2h1.1v1.1h-1.1zM580.6 697.7h1.1v1.1h-1.1zM589.0 707.1h1.1v1.1h-1.1zM591.0 692.6h1.1v1.1h-1.1zM587.6 710.4h1.1v1.1h-1.1zM592.1 702.2h1.1v1.1h-1.1zM592.8 691.2h1.1v1.1h-1.1zM593.3 720.3h1.1v1.1h-1.1zM600.5 692.1h1.1v1.1h-1.1zM599.5 695.7h1.1v1.1h-1.1zM590.9 706.4h1.1v1.1h-1.1zM594.9 702.9h1.1v1.1h-1.1zM594.1 706.2h1.1v1.1h-1.1zM587.9 695.1h1.1v1.1h-1.1zM594.2 726.0h1.1v1.1h-1.1zM587.1 700.6h1.1v1.1h-1.1zM584.7 694.9h1.1v1.1h-1.1zM596.0 702.8h1.1v1.1h-1.1zM597.7 708.9h1.1v1.1h-1.1zM596.0 693.7h1.1v1.1h-1.1zM593.2 686.8h1.1v1.1h-1.1zM587.6 698.4h1.1v1.1h-1.1zM596.2 694.2h1.1v1.1h-1.1zM594.3 714.2h1.1v1.1h-1.1zM592.1 700.6h1.1v1.1h-1.1zM590.3 704.3h1.1v1.1h-1.1zM591.9 695.1h1.1v1.1h-1.1zM589.4 700.4h1.1v1.1h-1.1zM597.4 703.8h1.1v1.1h-1.1zM600.4 698.2h1.1v1.1h-1.1zM599.9 703.0h1.1v1.1h-1.1zM586.8 702.0h1.1v1.1h-1.1zM603.4 692.1h1.1v1.1h-1.1zM593.2 695.4h1.1v1.1h-1.1zM596.4 700.6h1.1v1.1h-1.1zM593.4 707.5h1.1v1.1h-1.1zM590.6 713.9h1.1v1.1h-1.1zM601.2 707.5h1.1v1.1h-1.1zM587.8 707.2h1.1v1.1h-1.1zM590.7 712.3h1.1v1.1h-1.1zM597.7 715.8h1.1v1.1h-1.1zM607.6 700.5h1.1v1.1h-1.1zM590.1 707.6h1.1v1.1h-1.1zM585.9 706.4h1.1v1.1h-1.1zM585.6 716.8h1.1v1.1h-1.1zM581.2 708.1h1.1v1.1h-1.1zM591.2 710.1h1.1v1.1h-1.1zM595.3 704.3h1.1v1.1h-1.1zM595.1 718.0h1.1v1.1h-1.1zM602.0 702.1h1.1v1.1h-1.1zM587.8 707.2h1.1v1.1h-1.1zM590.1 702.9h1.1v1.1h-1.1zM592.6 719.3h1.1v1.1h-1.1zM592.3 706.5h1.1v1.1h-1.1zM586.7 694.8h1.1v1.1h-1.1zM592.9 689.0h1.1v1.1h-1.1zM595.8 694.6h1.1v1.1h-1.1zM592.9 705.4h1.1v1.1h-1.1zM601.9 692.8h1.1v1.1h-1.1zM586.0 687.2h1.1v1.1h-1.1zM587.9 698.7h1.1v1.1h-1.1zM594.1 708.7h1.1v1.1h-1.1zM599.3 703.5h1.1v1.1h-1.1zM588.8 711.5h1.1v1.1h-1.1zM579.1 710.3h1.1v1.1h-1.1zM589.7 713.5h1.1v1.1h-1.1zM598.5 691.2h1.1v1.1h-1.1zM591.4 702.6h1.1v1.1h-1.1zM586.3 701.0h1.1v1.1h-1.1zM589.3 685.9h1.1v1.1h-1.1zM589.8 696.9h1.1v1.1h-1.1zM603.5 690.8h1.1v1.1h-1.1zM596.6 722.0h1.1v1.1h-1.1zM584.7 714.7h1.1v1.1h-1.1zM590.6 724.6h1.1v1.1h-1.1zM590.1 711.7h1.1v1.1h-1.1zM595.2 708.7h1.1v1.1h-1.1zM598.3 709.0h1.1v1.1h-1.1zM596.5 693.8h1.1v1.1h-1.1zM596.9 704.2h1.1v1.1h-1.1zM596.3 706.8h1.1v1.1h-1.1zM591.6 714.6h1.1v1.1h-1.1zM593.6 725.3h1.1v1.1h-1.1zM595.3 701.0h1.1v1.1h-1.1zM588.8 693.1h1.1v1.1h-1.1zM601.1 708.8h1.1v1.1h-1.1zM596.2 718.7h1.1v1.1h-1.1zM605.7 710.5h1.1v1.1h-1.1zM590.5 706.7h1.1v1.1h-1.1zM594.2 707.5h1.1v1.1h-1.1zM609.8 693.2h1.1v1.1h-1.1zM592.5 711.9h1.1v1.1h-1.1zM583.9 705.2h1.1v1.1h-1.1zM597.4 705.0h1.1v1.1h-1.1zM593.8 693.2h1.1v1.1h-1.1zM586.6 701.8h1.1v1.1h-1.1zM594.2 699.1h1.1v1.1h-1.1zM602.1 697.2h1.1v1.1h-1.1zM602.7 700.3h1.1v1.1h-1.1zM598.0 702.8h1.1v1.1h-1.1zM593.1 704.9h1.1v1.1h-1.1zM597.0 678.7h1.1v1.1h-1.1zM583.1 701.7h1.1v1.1h-1.1zM586.7 701.7h1.1v1.1h-1.1zM588.5 699.6h1.1v1.1h-1.1zM589.0 709.3h1.1v1.1h-1.1zM580.0 689.9h1.1v1.1h-1.1zM599.2 691.7h1.1v1.1h-1.1zM583.5 703.9h1.1v1.1h-1.1zM589.7 698.5h1.1v1.1h-1.1zM586.4 706.8h1.1v1.1h-1.1zM603.8 686.3h1.1v1.1h-1.1zM585.3 708.2h1.1v1.1h-1.1zM582.9 711.4h1.1v1.1h-1.1zM602.5 710.1h1.1v1.1h-1.1zM597.6 703.0h1.1v1.1h-1.1zM581.5 698.7h1.1v1.1h-1.1zM598.2 694.1h1.1v1.1h-1.1zM590.4 713.6h1.1v1.1h-1.1zM586.8 712.9h1.1v1.1h-1.1zM587.2 712.5h1.1v1.1h-1.1zM596.6 707.7h1.1v1.1h-1.1zM599.1 705.9h1.1v1.1h-1.1zM583.6 701.0h1.1v1.1h-1.1zM598.8 688.0h1.1v1.1h-1.1zM591.3 700.1h1.1v1.1h-1.1zM587.9 710.7h1.1v1.1h-1.1zM591.6 709.4h1.1v1.1h-1.1zM592.0 704.8h1.1v1.1h-1.1zM594.2 710.2h1.1v1.1h-1.1zM586.6 703.3h1.1v1.1h-1.1zM589.2 696.3h1.1v1.1h-1.1zM600.8 702.3h1.1v1.1h-1.1zM583.8 709.1h1.1v1.1h-1.1zM593.1 704.5h1.1v1.1h-1.1zM582.1 712.5h1.1v1.1h-1.1zM589.6 711.7h1.1v1.1h-1.1zM595.2 700.2h1.1v1.1h-1.1zM599.1 710.4h1.1v1.1h-1.1zM598.5 699.9h1.1v1.1h-1.1zM595.8 707.2h1.1v1.1h-1.1zM596.7 695.7h1.1v1.1h-1.1zM600.4 702.6h1.1v1.1h-1.1zM593.8 710.8h1.1v1.1h-1.1zM596.9 711.8h1.1v1.1h-1.1zM586.6 715.5h1.1v1.1h-1.1zM598.0 693.1h1.1v1.1h-1.1zM597.8 707.3h1.1v1.1h-1.1zM596.2 720.2h1.1v1.1h-1.1zM598.1 686.0h1.1v1.1h-1.1zM597.1 699.6h1.1v1.1h-1.1zM593.0 706.2h1.1v1.1h-1.1zM584.4 715.0h1.1v1.1h-1.1zM597.6 707.0h1.1v1.1h-1.1zM594.2 709.8h1.1v1.1h-1.1zM590.7 696.7h1.1v1.1h-1.1zM593.5 713.0h1.1v1.1h-1.1zM592.6 717.2h1.1v1.1h-1.1zM588.8 693.8h1.1v1.1h-1.1zM592.4 695.5h1.1v1.1h-1.1zM586.1 697.1h1.1v1.1h-1.1zM601.5 709.1h1.1v1.1h-1.1zM585.2 704.7h1.1v1.1h-1.1zM599.1 696.3h1.1v1.1h-1.1zM599.0 681.3h1.1v1.1h-1.1zM598.7 703.7h1.1v1.1h-1.1zM591.4 696.4h1.1v1.1h-1.1zM590.1 702.0h1.1v1.1h-1.1zM596.1 696.2h1.1v1.1h-1.1zM596.3 697.0h1.1v1.1h-1.1zM583.5 696.1h1.1v1.1h-1.1zM600.1 712.0h1.1v1.1h-1.1zM588.6 721.0h1.1v1.1h-1.1zM576.5 697.5h1.1v1.1h-1.1zM588.5 691.5h1.1v1.1h-1.1zM585.3 705.5h1.1v1.1h-1.1zM590.1 693.7h1.1v1.1h-1.1zM597.8 710.9h1.1v1.1h-1.1zM591.9 698.8h1.1v1.1h-1.1zM594.3 712.2h1.1v1.1h-1.1zM593.8 705.8h1.1v1.1h-1.1zM594.4 713.6h1.1v1.1h-1.1zM597.9 710.2h1.1v1.1h-1.1zM596.9 696.5h1.1v1.1h-1.1zM596.4 706.8h1.1v1.1h-1.1zM595.0 702.5h1.1v1.1h-1.1zM586.6 705.3h1.1v1.1h-1.1zM595.8 702.7h1.1v1.1h-1.1zM588.7 703.6h1.1v1.1h-1.1zM602.1 702.6h1.1v1.1h-1.1zM594.5 701.8h1.1v1.1h-1.1zM592.4 697.9h1.1v1.1h-1.1zM597.2 702.8h1.1v1.1h-1.1zM596.5 714.9h1.1v1.1h-1.1zM587.1 703.5h1.1v1.1h-1.1zM592.2 693.9h1.1v1.1h-1.1zM583.5 710.7h1.1v1.1h-1.1zM585.4 700.9h1.1v1.1h-1.1zM595.6 705.5h1.1v1.1h-1.1zM594.6 717.9h1.1v1.1h-1.1zM602.6 699.2h1.1v1.1h-1.1zM591.3 705.8h1.1v1.1h-1.1zM592.1 684.9h1.1v1.1h-1.1zM600.8 724.0h1.1v1.1h-1.1zM583.4 705.3h1.1v1.1h-1.1zM584.5 700.5h1.1v1.1h-1.1zM594.0 707.9h1.1v1.1h-1.1zM600.8 711.4h1.1v1.1h-1.1zM575.5 711.5h1.1v1.1h-1.1zM591.7 717.2h1.1v1.1h-1.1zM608.2 720.2h1.1v1.1h-1.1zM617.1 707.5h1.1v1.1h-1.1zM612.7 704.2h1.1v1.1h-1.1zM601.7 716.7h1.1v1.1h-1.1zM607.4 697.3h1.1v1.1h-1.1zM599.7 710.3h1.1v1.1h-1.1zM610.8 715.3h1.1v1.1h-1.1zM606.9 716.9h1.1v1.1h-1.1zM605.9 700.2h1.1v1.1h-1.1zM615.4 706.5h1.1v1.1h-1.1zM605.7 701.7h1.1v1.1h-1.1zM602.9 696.2h1.1v1.1h-1.1zM603.7 703.6h1.1v1.1h-1.1zM619.8 711.9h1.1v1.1h-1.1zM621.1 718.4h1.1v1.1h-1.1zM605.4 697.5h1.1v1.1h-1.1zM613.6 705.0h1.1v1.1h-1.1zM613.1 705.0h1.1v1.1h-1.1zM605.5 706.0h1.1v1.1h-1.1zM609.2 705.8h1.1v1.1h-1.1zM619.4 705.5h1.1v1.1h-1.1zM611.6 703.2h1.1v1.1h-1.1zM607.7 715.7h1.1v1.1h-1.1zM608.9 710.0h1.1v1.1h-1.1zM623.1 718.6h1.1v1.1h-1.1zM613.8 703.5h1.1v1.1h-1.1zM609.8 692.7h1.1v1.1h-1.1zM601.5 704.3h1.1v1.1h-1.1zM606.7 694.4h1.1v1.1h-1.1zM612.3 705.1h1.1v1.1h-1.1zM615.6 700.3h1.1v1.1h-1.1zM604.5 701.3h1.1v1.1h-1.1zM608.8 703.6h1.1v1.1h-1.1zM609.7 697.3h1.1v1.1h-1.1zM609.8 714.4h1.1v1.1h-1.1zM609.4 679.9h1.1v1.1h-1.1zM611.6 713.7h1.1v1.1h-1.1zM610.5 718.2h1.1v1.1h-1.1zM610.2 711.3h1.1v1.1h-1.1zM613.1 715.6h1.1v1.1h-1.1zM615.8 696.4h1.1v1.1h-1.1zM608.4 706.2h1.1v1.1h-1.1zM610.0 695.5h1.1v1.1h-1.1zM609.4 712.0h1.1v1.1h-1.1zM612.7 717.9h1.1v1.1h-1.1zM609.6 700.4h1.1v1.1h-1.1zM604.2 706.3h1.1v1.1h-1.1zM606.3 707.7h1.1v1.1h-1.1zM604.2 692.4h1.1v1.1h-1.1zM614.3 724.8h1.1v1.1h-1.1zM606.1 677.9h1.1v1.1h-1.1zM612.1 683.9h1.1v1.1h-1.1zM598.0 691.4h1.1v1.1h-1.1zM618.0 687.8h1.1v1.1h-1.1zM612.6 710.5h1.1v1.1h-1.1zM605.4 709.1h1.1v1.1h-1.1zM614.1 701.7h1.1v1.1h-1.1zM615.0 702.3h1.1v1.1h-1.1zM614.8 703.8h1.1v1.1h-1.1zM613.4 700.2h1.1v1.1h-1.1zM614.0 702.2h1.1v1.1h-1.1zM607.5 712.4h1.1v1.1h-1.1zM602.6 701.6h1.1v1.1h-1.1zM605.0 704.6h1.1v1.1h-1.1zM619.2 698.2h1.1v1.1h-1.1zM614.1 708.3h1.1v1.1h-1.1zM618.9 726.7h1.1v1.1h-1.1zM616.6 698.4h1.1v1.1h-1.1zM608.2 706.5h1.1v1.1h-1.1zM609.5 713.2h1.1v1.1h-1.1zM614.2 726.5h1.1v1.1h-1.1zM608.5 700.9h1.1v1.1h-1.1zM605.6 710.5h1.1v1.1h-1.1zM606.2 700.8h1.1v1.1h-1.1zM608.8 704.0h1.1v1.1h-1.1zM608.0 710.1h1.1v1.1h-1.1zM614.0 710.7h1.1v1.1h-1.1zM605.5 710.0h1.1v1.1h-1.1zM599.6 706.5h1.1v1.1h-1.1zM610.8 693.6h1.1v1.1h-1.1zM615.6 722.0h1.1v1.1h-1.1zM604.7 713.1h1.1v1.1h-1.1zM606.0 711.7h1.1v1.1h-1.1zM617.5 705.9h1.1v1.1h-1.1zM603.4 705.3h1.1v1.1h-1.1zM609.2 698.7h1.1v1.1h-1.1zM619.0 718.2h1.1v1.1h-1.1zM611.3 697.5h1.1v1.1h-1.1zM598.9 700.2h1.1v1.1h-1.1zM622.0 685.5h1.1v1.1h-1.1zM607.9 708.3h1.1v1.1h-1.1zM600.6 710.0h1.1v1.1h-1.1zM619.0 704.9h1.1v1.1h-1.1zM607.7 703.8h1.1v1.1h-1.1zM612.1 707.3h1.1v1.1h-1.1zM608.3 719.5h1.1v1.1h-1.1zM612.3 720.4h1.1v1.1h-1.1zM595.9 703.4h1.1v1.1h-1.1zM607.2 689.2h1.1v1.1h-1.1zM611.0 689.6h1.1v1.1h-1.1zM612.7 716.6h1.1v1.1h-1.1zM611.6 718.0h1.1v1.1h-1.1zM613.7 696.1h1.1v1.1h-1.1zM608.4 700.3h1.1v1.1h-1.1zM613.7 686.2h1.1v1.1h-1.1zM610.4 711.0h1.1v1.1h-1.1zM604.5 708.8h1.1v1.1h-1.1zM608.3 696.7h1.1v1.1h-1.1zM611.1 687.8h1.1v1.1h-1.1zM622.3 715.2h1.1v1.1h-1.1zM604.9 699.3h1.1v1.1h-1.1zM606.2 707.9h1.1v1.1h-1.1zM605.2 715.9h1.1v1.1h-1.1zM618.2 700.3h1.1v1.1h-1.1zM605.7 693.5h1.1v1.1h-1.1zM602.7 705.4h1.1v1.1h-1.1zM611.9 699.3h1.1v1.1h-1.1zM606.5 723.5h1.1v1.1h-1.1zM603.5 706.0h1.1v1.1h-1.1zM611.4 712.5h1.1v1.1h-1.1zM602.7 700.1h1.1v1.1h-1.1zM611.8 711.0h1.1v1.1h-1.1zM602.6 708.6h1.1v1.1h-1.1zM604.1 689.6h1.1v1.1h-1.1zM616.5 705.1h1.1v1.1h-1.1zM620.2 709.9h1.1v1.1h-1.1zM607.7 718.5h1.1v1.1h-1.1zM598.1 705.4h1.1v1.1h-1.1zM608.8 708.0h1.1v1.1h-1.1zM605.1 714.4h1.1v1.1h-1.1zM611.7 705.1h1.1v1.1h-1.1zM619.7 715.9h1.1v1.1h-1.1zM610.7 720.7h1.1v1.1h-1.1zM619.3 711.3h1.1v1.1h-1.1zM613.3 704.9h1.1v1.1h-1.1zM610.1 724.9h1.1v1.1h-1.1zM607.0 702.3h1.1v1.1h-1.1zM609.4 701.7h1.1v1.1h-1.1zM617.5 685.5h1.1v1.1h-1.1zM598.0 686.7h1.1v1.1h-1.1zM608.9 709.8h1.1v1.1h-1.1zM610.8 700.7h1.1v1.1h-1.1zM600.2 717.4h1.1v1.1h-1.1zM605.5 687.2h1.1v1.1h-1.1zM609.4 714.5h1.1v1.1h-1.1zM604.1 687.0h1.1v1.1h-1.1zM618.3 698.3h1.1v1.1h-1.1zM600.0 704.2h1.1v1.1h-1.1zM606.2 711.8h1.1v1.1h-1.1zM611.7 725.5h1.1v1.1h-1.1zM605.9 695.7h1.1v1.1h-1.1zM603.8 700.2h1.1v1.1h-1.1zM616.0 696.2h1.1v1.1h-1.1zM612.7 701.0h1.1v1.1h-1.1zM619.2 678.5h1.1v1.1h-1.1zM606.8 709.3h1.1v1.1h-1.1zM612.5 721.3h1.1v1.1h-1.1zM612.6 696.7h1.1v1.1h-1.1zM617.3 696.7h1.1v1.1h-1.1zM604.0 701.0h1.1v1.1h-1.1zM605.1 704.1h1.1v1.1h-1.1zM617.6 693.9h1.1v1.1h-1.1zM613.3 720.2h1.1v1.1h-1.1zM607.6 699.3h1.1v1.1h-1.1zM604.3 703.6h1.1v1.1h-1.1zM601.8 709.6h1.1v1.1h-1.1zM612.9 704.5h1.1v1.1h-1.1zM618.3 700.1h1.1v1.1h-1.1zM610.9 703.0h1.1v1.1h-1.1zM604.3 695.7h1.1v1.1h-1.1zM624.9 652.8h1.1v1.1h-1.1zM622.8 684.8h1.1v1.1h-1.1zM619.0 660.4h1.1v1.1h-1.1zM623.8 655.9h1.1v1.1h-1.1zM628.6 636.8h1.1v1.1h-1.1zM626.4 655.3h1.1v1.1h-1.1zM624.6 657.3h1.1v1.1h-1.1zM631.3 646.1h1.1v1.1h-1.1zM628.5 646.7h1.1v1.1h-1.1zM624.4 659.8h1.1v1.1h-1.1zM628.4 661.0h1.1v1.1h-1.1zM628.8 667.0h1.1v1.1h-1.1zM623.5 651.1h1.1v1.1h-1.1zM629.8 643.0h1.1v1.1h-1.1zM623.1 668.0h1.1v1.1h-1.1zM626.2 656.9h1.1v1.1h-1.1zM625.0 678.0h1.1v1.1h-1.1zM627.5 674.9h1.1v1.1h-1.1zM630.6 655.1h1.1v1.1h-1.1zM627.9 649.6h1.1v1.1h-1.1zM623.1 661.3h1.1v1.1h-1.1zM626.0 642.3h1.1v1.1h-1.1zM628.0 650.1h1.1v1.1h-1.1zM628.6 662.8h1.1v1.1h-1.1zM623.7 657.0h1.1v1.1h-1.1zM624.8 649.4h1.1v1.1h-1.1zM632.6 666.0h1.1v1.1h-1.1zM628.6 646.9h1.1v1.1h-1.1zM627.2 671.9h1.1v1.1h-1.1zM630.0 670.4h1.1v1.1h-1.1zM632.5 639.0h1.1v1.1h-1.1zM631.7 643.9h1.1v1.1h-1.1zM625.1 658.2h1.1v1.1h-1.1zM624.7 670.3h1.1v1.1h-1.1zM631.4 654.1h1.1v1.1h-1.1zM628.8 651.6h1.1v1.1h-1.1zM629.3 654.5h1.1v1.1h-1.1zM631.0 633.0h1.1v1.1h-1.1zM620.6 665.9h1.1v1.1h-1.1zM625.2 669.4h1.1v1.1h-1.1zM632.3 671.6h1.1v1.1h-1.1zM629.1 655.3h1.1v1.1h-1.1zM632.8 629.9h1.1v1.1h-1.1zM625.9 647.5h1.1v1.1h-1.1zM630.9 672.7h1.1v1.1h-1.1zM633.7 667.8h1.1v1.1h-1.1zM628.4 660.9h1.1v1.1h-1.1zM622.9 675.5h1.1v1.1h-1.1zM622.4 639.7h1.1v1.1h-1.1zM626.3 645.5h1.1v1.1h-1.1zM627.5 669.5h1.1v1.1h-1.1zM626.8 646.5h1.1v1.1h-1.1zM621.1 652.1h1.1v1.1h-1.1zM623.9 675.3h1.1v1.1h-1.1zM623.8 629.6h1.1v1.1h-1.1zM631.8 653.0h1.1v1.1h-1.1zM619.7 653.7h1.1v1.1h-1.1zM626.3 670.6h1.1v1.1h-1.1zM619.9 661.0h1.1v1.1h-1.1zM630.1 635.9h1.1v1.1h-1.1zM626.0 640.9h1.1v1.1h-1.1zM628.4 657.1h1.1v1.1h-1.1zM620.3 670.5h1.1v1.1h-1.1zM621.8 664.7h1.1v1.1h-1.1zM631.1 655.6h1.1v1.1h-1.1zM622.1 674.9h1.1v1.1h-1.1zM628.1 632.3h1.1v1.1h-1.1zM631.7 653.6h1.1v1.1h-1.1zM624.1 658.2h1.1v1.1h-1.1zM630.9 640.9h1.1v1.1h-1.1zM626.5 661.9h1.1v1.1h-1.1zM619.7 657.5h1.1v1.1h-1.1zM627.2 641.2h1.1v1.1h-1.1zM626.8 652.4h1.1v1.1h-1.1zM626.1 660.3h1.1v1.1h-1.1zM620.7 654.9h1.1v1.1h-1.1zM633.2 648.0h1.1v1.1h-1.1zM636.1 657.9h1.1v1.1h-1.1zM627.5 661.6h1.1v1.1h-1.1zM626.7 667.4h1.1v1.1h-1.1zM621.1 671.0h1.1v1.1h-1.1zM629.1 640.7h1.1v1.1h-1.1zM622.3 673.0h1.1v1.1h-1.1zM622.8 649.8h1.1v1.1h-1.1zM626.0 675.2h1.1v1.1h-1.1zM628.8 659.0h1.1v1.1h-1.1zM631.3 668.0h1.1v1.1h-1.1zM630.4 664.2h1.1v1.1h-1.1zM628.8 648.7h1.1v1.1h-1.1zM628.1 653.1h1.1v1.1h-1.1zM628.2 673.5h1.1v1.1h-1.1zM627.5 659.7h1.1v1.1h-1.1zM625.0 667.6h1.1v1.1h-1.1zM622.5 653.0h1.1v1.1h-1.1zM622.4 668.5h1.1v1.1h-1.1zM625.4 664.4h1.1v1.1h-1.1zM620.3 680.2h1.1v1.1h-1.1zM622.7 664.7h1.1v1.1h-1.1zM630.0 647.7h1.1v1.1h-1.1zM626.5 664.7h1.1v1.1h-1.1zM628.4 668.2h1.1v1.1h-1.1zM621.5 655.2h1.1v1.1h-1.1zM626.6 677.8h1.1v1.1h-1.1zM623.6 653.4h1.1v1.1h-1.1zM626.0 664.0h1.1v1.1h-1.1zM629.9 643.4h1.1v1.1h-1.1zM628.4 656.1h1.1v1.1h-1.1zM633.2 655.4h1.1v1.1h-1.1zM631.9 667.7h1.1v1.1h-1.1zM632.9 658.4h1.1v1.1h-1.1zM629.8 660.9h1.1v1.1h-1.1zM623.4 665.9h1.1v1.1h-1.1zM611.3 672.3h1.1v1.1h-1.1zM631.4 642.4h1.1v1.1h-1.1zM625.4 642.4h1.1v1.1h-1.1zM623.3 652.8h1.1v1.1h-1.1zM629.9 651.0h1.1v1.1h-1.1zM630.9 654.9h1.1v1.1h-1.1zM624.2 662.8h1.1v1.1h-1.1zM628.4 648.7h1.1v1.1h-1.1zM620.7 681.1h1.1v1.1h-1.1zM623.8 659.2h1.1v1.1h-1.1zM622.4 655.4h1.1v1.1h-1.1zM625.7 667.1h1.1v1.1h-1.1zM627.6 654.1h1.1v1.1h-1.1zM630.4 644.6h1.1v1.1h-1.1zM627.9 656.9h1.1v1.1h-1.1zM630.1 658.4h1.1v1.1h-1.1zM624.4 666.6h1.1v1.1h-1.1zM626.6 658.1h1.1v1.1h-1.1zM629.4 664.7h1.1v1.1h-1.1zM621.1 643.0h1.1v1.1h-1.1zM623.5 673.6h1.1v1.1h-1.1zM628.5 660.1h1.1v1.1h-1.1zM622.8 656.6h1.1v1.1h-1.1zM623.1 683.0h1.1v1.1h-1.1zM625.8 661.8h1.1v1.1h-1.1zM625.4 681.3h1.1v1.1h-1.1zM615.4 667.7h1.1v1.1h-1.1zM627.2 648.1h1.1v1.1h-1.1zM622.9 656.7h1.1v1.1h-1.1zM625.8 665.7h1.1v1.1h-1.1zM623.3 649.1h1.1v1.1h-1.1zM622.6 645.1h1.1v1.1h-1.1zM629.6 645.9h1.1v1.1h-1.1zM633.0 651.8h1.1v1.1h-1.1zM630.0 659.0h1.1v1.1h-1.1zM624.3 660.9h1.1v1.1h-1.1zM623.8 677.3h1.1v1.1h-1.1zM621.8 678.6h1.1v1.1h-1.1zM594.1 747.0h1.1v1.1h-1.1zM582.1 755.9h1.1v1.1h-1.1zM589.5 732.0h1.1v1.1h-1.1zM592.3 755.7h1.1v1.1h-1.1zM596.2 742.7h1.1v1.1h-1.1zM586.5 713.0h1.1v1.1h-1.1zM588.1 731.9h1.1v1.1h-1.1zM590.0 735.8h1.1v1.1h-1.1zM588.1 739.8h1.1v1.1h-1.1zM592.9 725.9h1.1v1.1h-1.1zM589.8 760.1h1.1v1.1h-1.1zM588.6 752.1h1.1v1.1h-1.1zM584.9 739.3h1.1v1.1h-1.1zM587.7 732.1h1.1v1.1h-1.1zM593.2 736.6h1.1v1.1h-1.1zM589.8 746.8h1.1v1.1h-1.1zM597.6 723.7h1.1v1.1h-1.1zM596.7 737.0h1.1v1.1h-1.1zM585.9 712.4h1.1v1.1h-1.1zM590.0 750.9h1.1v1.1h-1.1zM587.4 731.5h1.1v1.1h-1.1zM595.0 718.9h1.1v1.1h-1.1zM590.0 729.5h1.1v1.1h-1.1zM597.8 766.4h1.1v1.1h-1.1zM590.5 750.9h1.1v1.1h-1.1zM584.2 745.9h1.1v1.1h-1.1zM594.4 727.3h1.1v1.1h-1.1zM590.6 716.8h1.1v1.1h-1.1zM589.7 758.4h1.1v1.1h-1.1zM590.7 771.8h1.1v1.1h-1.1zM598.5 757.0h1.1v1.1h-1.1zM585.1 735.8h1.1v1.1h-1.1zM587.8 766.5h1.1v1.1h-1.1zM593.2 728.0h1.1v1.1h-1.1zM588.5 766.7h1.1v1.1h-1.1zM587.8 731.0h1.1v1.1h-1.1zM591.5 728.8h1.1v1.1h-1.1zM594.1 735.6h1.1v1.1h-1.1zM601.5 721.7h1.1v1.1h-1.1zM592.7 701.3h1.1v1.1h-1.1zM591.7 726.0h1.1v1.1h-1.1zM585.9 739.0h1.1v1.1h-1.1zM587.0 718.4h1.1v1.1h-1.1zM592.9 742.1h1.1v1.1h-1.1zM598.4 739.4h1.1v1.1h-1.1zM591.0 730.9h1.1v1.1h-1.1zM599.4 729.7h1.1v1.1h-1.1zM594.0 715.8h1.1v1.1h-1.1zM595.1 730.8h1.1v1.1h-1.1zM590.7 742.6h1.1v1.1h-1.1zM588.0 732.7h1.1v1.1h-1.1zM594.5 749.0h1.1v1.1h-1.1zM581.9 718.0h1.1v1.1h-1.1zM590.9 746.8h1.1v1.1h-1.1zM586.6 721.7h1.1v1.1h-1.1zM600.7 740.6h1.1v1.1h-1.1zM587.8 727.5h1.1v1.1h-1.1zM589.8 753.0h1.1v1.1h-1.1zM590.2 721.5h1.1v1.1h-1.1zM587.4 757.4h1.1v1.1h-1.1zM583.8 722.0h1.1v1.1h-1.1zM592.2 726.3h1.1v1.1h-1.1zM596.1 732.4h1.1v1.1h-1.1zM597.5 754.7h1.1v1.1h-1.1zM590.1 720.0h1.1v1.1h-1.1zM595.5 755.3h1.1v1.1h-1.1zM592.7 762.4h1.1v1.1h-1.1zM588.5 727.2h1.1v1.1h-1.1zM589.9 701.3h1.1v1.1h-1.1zM585.0 756.4h1.1v1.1h-1.1zM585.6 760.1h1.1v1.1h-1.1zM591.0 740.5h1.1v1.1h-1.1zM591.0 735.0h1.1v1.1h-1.1zM589.7 750.6h1.1v1.1h-1.1zM593.2 761.0h1.1v1.1h-1.1zM585.9 767.2h1.1v1.1h-1.1zM584.4 738.1h1.1v1.1h-1.1zM595.4 778.7h1.1v1.1h-1.1zM585.9 734.4h1.1v1.1h-1.1zM590.5 746.3h1.1v1.1h-1.1zM592.7 735.4h1.1v1.1h-1.1zM579.7 783.4h1.1v1.1h-1.1zM590.6 751.6h1.1v1.1h-1.1zM599.1 736.1h1.1v1.1h-1.1zM583.4 732.0h1.1v1.1h-1.1zM592.9 727.9h1.1v1.1h-1.1zM596.6 733.6h1.1v1.1h-1.1zM593.5 762.8h1.1v1.1h-1.1zM596.6 728.0h1.1v1.1h-1.1zM594.2 756.9h1.1v1.1h-1.1zM599.4 721.7h1.1v1.1h-1.1zM578.5 739.5h1.1v1.1h-1.1zM593.6 744.6h1.1v1.1h-1.1zM587.8 763.7h1.1v1.1h-1.1zM591.5 735.5h1.1v1.1h-1.1zM593.1 714.7h1.1v1.1h-1.1zM593.6 718.6h1.1v1.1h-1.1zM588.9 737.8h1.1v1.1h-1.1zM594.7 733.7h1.1v1.1h-1.1zM595.8 721.5h1.1v1.1h-1.1zM585.7 743.8h1.1v1.1h-1.1zM591.8 749.5h1.1v1.1h-1.1zM589.3 738.9h1.1v1.1h-1.1zM594.6 750.0h1.1v1.1h-1.1zM588.5 741.5h1.1v1.1h-1.1zM585.5 764.4h1.1v1.1h-1.1zM587.0 768.8h1.1v1.1h-1.1zM584.6 737.7h1.1v1.1h-1.1zM590.6 734.7h1.1v1.1h-1.1zM599.4 730.1h1.1v1.1h-1.1zM601.6 779.6h1.1v1.1h-1.1zM599.2 769.4h1.1v1.1h-1.1zM598.4 770.4h1.1v1.1h-1.1zM594.8 760.6h1.1v1.1h-1.1zM601.6 783.4h1.1v1.1h-1.1zM593.4 776.4h1.1v1.1h-1.1zM596.6 774.5h1.1v1.1h-1.1zM596.8 777.5h1.1v1.1h-1.1zM601.3 751.8h1.1v1.1h-1.1zM600.6 782.6h1.1v1.1h-1.1zM601.1 776.7h1.1v1.1h-1.1zM603.4 772.6h1.1v1.1h-1.1zM605.1 784.6h1.1v1.1h-1.1zM597.5 758.7h1.1v1.1h-1.1zM599.3 779.7h1.1v1.1h-1.1zM601.7 781.2h1.1v1.1h-1.1zM606.2 779.3h1.1v1.1h-1.1zM601.1 768.2h1.1v1.1h-1.1zM594.9 771.2h1.1v1.1h-1.1zM596.2 774.2h1.1v1.1h-1.1zM599.9 775.5h1.1v1.1h-1.1zM601.4 771.7h1.1v1.1h-1.1zM601.6 779.7h1.1v1.1h-1.1zM618.3 695.3h1.1v1.1h-1.1zM605.3 698.7h1.1v1.1h-1.1zM611.2 703.3h1.1v1.1h-1.1zM606.4 683.9h1.1v1.1h-1.1zM612.4 677.8h1.1v1.1h-1.1zM607.4 679.8h1.1v1.1h-1.1zM617.1 685.8h1.1v1.1h-1.1zM605.6 685.5h1.1v1.1h-1.1zM611.5 686.5h1.1v1.1h-1.1zM604.2 693.7h1.1v1.1h-1.1zM617.3 689.4h1.1v1.1h-1.1zM606.0 691.7h1.1v1.1h-1.1zM615.7 685.5h1.1v1.1h-1.1zM611.5 695.5h1.1v1.1h-1.1zM611.2 699.6h1.1v1.1h-1.1zM613.6 671.4h1.1v1.1h-1.1zM606.6 698.6h1.1v1.1h-1.1zM612.0 682.0h1.1v1.1h-1.1zM613.4 678.3h1.1v1.1h-1.1zM611.9 687.4h1.1v1.1h-1.1zM625.8 677.4h1.1v1.1h-1.1zM609.2 677.0h1.1v1.1h-1.1zM610.0 686.7h1.1v1.1h-1.1zM617.8 691.1h1.1v1.1h-1.1zM603.8 682.6h1.1v1.1h-1.1zM619.7 702.6h1.1v1.1h-1.1zM609.8 684.2h1.1v1.1h-1.1zM607.6 692.9h1.1v1.1h-1.1zM609.1 679.9h1.1v1.1h-1.1zM616.3 698.3h1.1v1.1h-1.1zM608.7 680.1h1.1v1.1h-1.1zM613.3 681.4h1.1v1.1h-1.1zM610.2 683.7h1.1v1.1h-1.1zM606.1 698.9h1.1v1.1h-1.1zM610.5 699.4h1.1v1.1h-1.1zM607.7 685.0h1.1v1.1h-1.1zM614.3 688.0h1.1v1.1h-1.1zM620.3 708.2h1.1v1.1h-1.1zM613.9 696.5h1.1v1.1h-1.1zM621.5 682.8h1.1v1.1h-1.1zM615.0 682.9h1.1v1.1h-1.1zM609.7 695.6h1.1v1.1h-1.1zM611.4 683.4h1.1v1.1h-1.1zM603.3 684.1h1.1v1.1h-1.1zM606.3 694.9h1.1v1.1h-1.1zM612.7 686.2h1.1v1.1h-1.1zM619.0 692.0h1.1v1.1h-1.1zM606.1 683.3h1.1v1.1h-1.1zM615.2 684.0h1.1v1.1h-1.1zM608.8 688.6h1.1v1.1h-1.1zM618.2 693.8h1.1v1.1h-1.1zM612.9 694.5h1.1v1.1h-1.1zM617.5 706.1h1.1v1.1h-1.1zM618.7 683.7h1.1v1.1h-1.1zM612.9 692.8h1.1v1.1h-1.1zM613.5 693.2h1.1v1.1h-1.1zM605.3 687.6h1.1v1.1h-1.1zM612.5 683.8h1.1v1.1h-1.1zM608.0 679.9h1.1v1.1h-1.1zM613.0 699.5h1.1v1.1h-1.1z" fill="#1f2ee8" fill-opacity="0.8"/>
<path d="M594.2 701.3h1.1v1.1h-1.1zM588.4 700.9h1.1v1.1h-1.1zM589.9 700.8h1.1v1.1h-1.1zM594.2 704.0h1.1v1.1h-1.1zM594.2 711.1h1.1v1.1h-1.1zM594.1 710.2h1.1v1.1h-1.1zM588.7 700.6h1.1v1.1h-1.1zM594.9 699.0h1.1v1.1h-1.1zM592.1 700.4h1.1v1.1h-1.1zM587.8 705.9h1.1v1.1h-1.1zM592.1 707.9h1.1v1.1h-1.1zM589.8 708.8h1.1v1.1h-1.1zM593.7 705.6h1.1v1.1h-1.1zM592.5 704.6h1.1v1.1h-1.1zM593.7 709.5h1.1v1.1h-1.1zM589.7 706.9h1.1v1.1h-1.1zM596.2 702.7h1.1v1.1h-1.1zM590.8 707.6h1.1v1.1h-1.1zM593.8 704.0h1.1v1.1h-1.1zM593.1 706.0h1.1v1.1h-1.1zM588.1 704.8h1.1v1.1h-1.1zM592.5 706.7h1.1v1.1h-1.1zM593.7 708.9h1.1v1.1h-1.1zM593.6 700.3h1.1v1.1h-1.1zM595.7 707.0h1.1v1.1h-1.1zM592.3 697.0h1.1v1.1h-1.1zM589.2 702.9h1.1v1.1h-1.1zM595.8 705.2h1.1v1.1h-1.1zM593.9 698.0h1.1v1.1h-1.1zM595.9 706.9h1.1v1.1h-1.1zM596.9 703.5h1.1v1.1h-1.1zM594.3 702.3h1.1v1.1h-1.1zM592.0 709.7h1.1v1.1h-1.1zM596.7 703.0h1.1v1.1h-1.1zM589.7 701.6h1.1v1.1h-1.1zM590.5 701.9h1.1v1.1h-1.1zM592.3 696.9h1.1v1.1h-1.1zM594.6 700.9h1.1v1.1h-1.1z" fill="#19c9b5" fill-opacity="0.9"/>
<path d="M587.9 708.9h1.1v1.1h-1.1z" fill="#3ccc3c" fill-opacity="0.9"/>
<line x1="604.20" y1="601.00" x2="604.20" y2="788.00" stroke="#000" stroke-width="1.6" />
<line x1="496.60" y1="680.90" x2="684.00" y2="680.90" stroke="#000" stroke-width="1.6" />
<rect x="585.00" y="787.10" width="9.00" height="1.80" fill="#e0a080" stroke="none" stroke-width="0" fill-opacity="0.6"/>
<rect x="594.00" y="787.10" width="9.00" height="1.80" fill="#d09090" stroke="none" stroke-width="0" fill-opacity="0.5"/>
<rect x="605.00" y="787.10" width="12.00" height="1.80" fill="#70c050" stroke="none" stroke-width="0" fill-opacity="0.7"/>
<rect x="617.00" y="787.10" width="8.00" height="1.80" fill="#5070e0" stroke="none" stroke-width="0" fill-opacity="0.6"/>
<line x1="514.90" y1="788.00" x2="514.90" y2="792.50" stroke="#222" stroke-width="1.4" />
<line x1="539.00" y1="788.00" x2="539.00" y2="792.50" stroke="#222" stroke-width="1.4" />
<line x1="546.25" y1="788.00" x2="546.25" y2="790.60" stroke="#333" stroke-width="0.8" />
<line x1="550.50" y1="788.00" x2="550.50" y2="790.60" stroke="#333" stroke-width="0.8" />
<line x1="553.51" y1="788.00" x2="553.51" y2="790.60" stroke="#333" stroke-width="0.8" />
<line x1="555.85" y1="788.00" x2="555.85" y2="790.60" stroke="#333" stroke-width="0.8" />
<line x1="557.75" y1="788.00" x2="557.75" y2="790.60" stroke="#333" stroke-width="0.8" />
<line x1="559.37" y1="788.00" x2="559.37" y2="790.60" stroke="#333" stroke-width="0.8" />
<line x1="560.76" y1="788.00" x2="560.76" y2="790.60" stroke="#333" stroke-width="0.8" />
<line x1="562.00" y1="788.00" x2="562.00" y2="790.60" stroke="#333" stroke-width="0.8" />
<line x1="563.10" y1="788.00" x2="563.10" y2="792.50" stroke="#222" stroke-width="1.4" />
<line x1="570.35" y1="788.00" x2="570.35" y2="790.60" stroke="#333" stroke-width="0.8" />
<line x1="574.60" y1="788.00" x2="574.60" y2="790.60" stroke="#333" stroke-width="0.8" />
<line x1="577.61" y1="788.00" x2="577.61" y2="790.60" stroke="#333" stroke-width="0.8" />
<line x1="579.95" y1="788.00" x2="579.95" y2="790.60" stroke="#333" stroke-width="0.8" />
<line x1="581.85" y1="788.00" x2="581.85" y2="790.60" stroke="#333" stroke-width="0.8" />
<line x1="583.47" y1="788.00" x2="583.47" y2="790.60" stroke="#333" stroke-width="0.8" />
<line x1="584.86" y1="788.00" x2="584.86" y2="790.60" stroke="#333" stroke-width="0.8" />
<line x1="586.10" y1="788.00" x2="586.10" y2="790.60" stroke="#333" stroke-width="0.8" />
<line x1="587.20" y1="788.00" x2="587.20" y2="792.50" stroke="#222" stroke-width="1.4" />
<line x1="594.45" y1="788.00" x2="594.45" y2="790.60" stroke="#333" stroke-width="0.8" />
<line x1="598.70" y1="788.00" x2="598.70" y2="790.60" stroke="#333" stroke-width="0.8" />
<line x1="601.71" y1="788.00" x2="601.71" y2="790.60" stroke="#333" stroke-width="0.8" />
<line x1="604.05" y1="788.00" x2="604.05" y2="790.60" stroke="#333" stroke-width="0.8" />
<line x1="605.95" y1="788.00" x2="605.95" y2="790.60" stroke="#333" stroke-width="0.8" />
<line x1="607.57" y1="788.00" x2="607.57" y2="790.60" stroke="#333" stroke-width="0.8" />
<line x1="608.96" y1="788.00" x2="608.96" y2="790.60" stroke="#333" stroke-width="0.8" />
<line x1="610.20" y1="788.00" x2="610.20" y2="790.60" stroke="#333" stroke-width="0.8" />
<line x1="611.30" y1="788.00" x2="611.30" y2="792.50" stroke="#222" stroke-width="1.4" />
<line x1="618.55" y1="788.00" x2="618.55" y2="790.60" stroke="#333" stroke-width="0.8" />
<line x1="622.80" y1="788.00" x2="622.80" y2="790.60" stroke="#333" stroke-width="0.8" />
<line x1="625.81" y1="788.00" x2="625.81" y2="790.60" stroke="#333" stroke-width="0.8" />
<line x1="628.15" y1="788.00" x2="628.15" y2="790.60" stroke="#333" stroke-width="0.8" />
<line x1="630.05" y1="788.00" x2="630.05" y2="790.60" stroke="#333" stroke-width="0.8" />
<line x1="631.67" y1="788.00" x2="631.67" y2="790.60" stroke="#333" stroke-width="0.8" />
<line x1="633.06" y1="788.00" x2="633.06" y2="790.60" stroke="#333" stroke-width="0.8" />
<line x1="634.30" y1="788.00" x2="634.30" y2="790.60" stroke="#333" stroke-width="0.8" />
<line x1="635.40" y1="788.00" x2="635.40" y2="792.50" stroke="#222" stroke-width="1.4" />
<line x1="642.65" y1="788.00" x2="642.65" y2="790.60" stroke="#333" stroke-width="0.8" />
<line x1="646.90" y1="788.00" x2="646.90" y2="790.60" stroke="#333" stroke-width="0.8" />
<line x1="649.91" y1="788.00" x2="649.91" y2="790.60" stroke="#333" stroke-width="0.8" />
<line x1="652.25" y1="788.00" x2="652.25" y2="790.60" stroke="#333" stroke-width="0.8" />
<line x1="654.15" y1="788.00" x2="654.15" y2="790.60" stroke="#333" stroke-width="0.8" />
<line x1="655.77" y1="788.00" x2="655.77" y2="790.60" stroke="#333" stroke-width="0.8" />
<line x1="657.16" y1="788.00" x2="657.16" y2="790.60" stroke="#333" stroke-width="0.8" />
<line x1="658.40" y1="788.00" x2="658.40" y2="790.60" stroke="#333" stroke-width="0.8" />
<line x1="659.50" y1="788.00" x2="659.50" y2="792.50" stroke="#222" stroke-width="1.4" />
<line x1="666.75" y1="788.00" x2="666.75" y2="790.60" stroke="#333" stroke-width="0.8" />
<line x1="671.00" y1="788.00" x2="671.00" y2="790.60" stroke="#333" stroke-width="0.8" />
<line x1="674.01" y1="788.00" x2="674.01" y2="790.60" stroke="#333" stroke-width="0.8" />
<line x1="676.35" y1="788.00" x2="676.35" y2="790.60" stroke="#333" stroke-width="0.8" />
<line x1="678.25" y1="788.00" x2="678.25" y2="790.60" stroke="#333" stroke-width="0.8" />
<line x1="679.87" y1="788.00" x2="679.87" y2="790.60" stroke="#333" stroke-width="0.8" />
<line x1="681.26" y1="788.00" x2="681.26" y2="790.60" stroke="#333" stroke-width="0.8" />
<line x1="682.50" y1="788.00" x2="682.50" y2="790.60" stroke="#333" stroke-width="0.8" />
<line x1="683.60" y1="788.00" x2="683.60" y2="792.50" stroke="#222" stroke-width="1.4" />
<line x1="499.10" y1="788.00" x2="499.10" y2="790.60" stroke="#333" stroke-width="0.8" />
<line x1="502.30" y1="788.00" x2="502.30" y2="790.60" stroke="#333" stroke-width="0.8" />
<line x1="505.50" y1="788.00" x2="505.50" y2="790.60" stroke="#333" stroke-width="0.8" />
<line x1="508.70" y1="788.00" x2="508.70" y2="790.60" stroke="#333" stroke-width="0.8" />
<line x1="511.90" y1="788.00" x2="511.90" y2="790.60" stroke="#333" stroke-width="0.8" />
<line x1="518.30" y1="788.00" x2="518.30" y2="790.60" stroke="#333" stroke-width="0.8" />
<line x1="521.50" y1="788.00" x2="521.50" y2="790.60" stroke="#333" stroke-width="0.8" />
<line x1="524.70" y1="788.00" x2="524.70" y2="790.60" stroke="#333" stroke-width="0.8" />
<line x1="527.90" y1="788.00" x2="527.90" y2="790.60" stroke="#333" stroke-width="0.8" />
<line x1="531.10" y1="788.00" x2="531.10" y2="790.60" stroke="#333" stroke-width="0.8" />
<line x1="534.30" y1="788.00" x2="534.30" y2="790.60" stroke="#333" stroke-width="0.8" />
<line x1="537.50" y1="788.00" x2="537.50" y2="790.60" stroke="#333" stroke-width="0.8" />
<line x1="491.10" y1="766.00" x2="496.60" y2="766.00" stroke="#222" stroke-width="1.4" />
<line x1="491.10" y1="736.50" x2="496.60" y2="736.50" stroke="#222" stroke-width="1.4" />
<line x1="494.00" y1="727.62" x2="496.60" y2="727.62" stroke="#333" stroke-width="0.8" />
<line x1="494.00" y1="722.42" x2="496.60" y2="722.42" stroke="#333" stroke-width="0.8" />
<line x1="494.00" y1="718.74" x2="496.60" y2="718.74" stroke="#333" stroke-width="0.8" />
<line x1="494.00" y1="715.88" x2="496.60" y2="715.88" stroke="#333" stroke-width="0.8" />
<line x1="494.00" y1="713.54" x2="496.60" y2="713.54" stroke="#333" stroke-width="0.8" />
<line x1="494.00" y1="711.57" x2="496.60" y2="711.57" stroke="#333" stroke-width="0.8" />
<line x1="494.00" y1="709.86" x2="496.60" y2="709.86" stroke="#333" stroke-width="0.8" />
<line x1="494.00" y1="708.35" x2="496.60" y2="708.35" stroke="#333" stroke-width="0.8" />
<line x1="491.10" y1="707.00" x2="496.60" y2="707.00" stroke="#222" stroke-width="1.4" />
<line x1="494.00" y1="698.12" x2="496.60" y2="698.12" stroke="#333" stroke-width="0.8" />
<line x1="494.00" y1="692.92" x2="496.60" y2="692.92" stroke="#333" stroke-width="0.8" />
<line x1="494.00" y1="689.24" x2="496.60" y2="689.24" stroke="#333" stroke-width="0.8" />
<line x1="494.00" y1="686.38" x2="496.60" y2="686.38" stroke="#333" stroke-width="0.8" />
<line x1="494.00" y1="684.04" x2="496.60" y2="684.04" stroke="#333" stroke-width="0.8" />
<line x1="494.00" y1="682.07" x2="496.60" y2="682.07" stroke="#333" stroke-width="0.8" />
<line x1="494.00" y1="680.36" x2="496.60" y2="680.36" stroke="#333" stroke-width="0.8" />
<line x1="494.00" y1="678.85" x2="496.60" y2="678.85" stroke="#333" stroke-width="0.8" />
<line x1="491.10" y1="677.50" x2="496.60" y2="677.50" stroke="#222" stroke-width="1.4" />
<line x1="494.00" y1="668.62" x2="496.60" y2="668.62" stroke="#333" stroke-width="0.8" />
<line x1="494.00" y1="663.42" x2="496.60" y2="663.42" stroke="#333" stroke-width="0.8" />
<line x1="494.00" y1="659.74" x2="496.60" y2="659.74" stroke="#333" stroke-width="0.8" />
<line x1="494.00" y1="656.88" x2="496.60" y2="656.88" stroke="#333" stroke-width="0.8" />
<line x1="494.00" y1="654.54" x2="496.60" y2="654.54" stroke="#333" stroke-width="0.8" />
<line x1="494.00" y1="652.57" x2="496.60" y2="652.57" stroke="#333" stroke-width="0.8" />
<line x1="494.00" y1="650.86" x2="496.60" y2="650.86" stroke="#333" stroke-width="0.8" />
<line x1="494.00" y1="649.35" x2="496.60" y2="649.35" stroke="#333" stroke-width="0.8" />
<line x1="491.10" y1="648.00" x2="496.60" y2="648.00" stroke="#222" stroke-width="1.4" />
<line x1="494.00" y1="639.12" x2="496.60" y2="639.12" stroke="#333" stroke-width="0.8" />
<line x1="494.00" y1="633.92" x2="496.60" y2="633.92" stroke="#333" stroke-width="0.8" />
<line x1="494.00" y1="630.24" x2="496.60" y2="630.24" stroke="#333" stroke-width="0.8" />
<line x1="494.00" y1="627.38" x2="496.60" y2="627.38" stroke="#333" stroke-width="0.8" />
<line x1="494.00" y1="625.04" x2="496.60" y2="625.04" stroke="#333" stroke-width="0.8" />
<line x1="494.00" y1="623.07" x2="496.60" y2="623.07" stroke="#333" stroke-width="0.8" />
<line x1="494.00" y1="621.36" x2="496.60" y2="621.36" stroke="#333" stroke-width="0.8" />
<line x1="494.00" y1="619.85" x2="496.60" y2="619.85" stroke="#333" stroke-width="0.8" />
<line x1="491.10" y1="618.50" x2="496.60" y2="618.50" stroke="#222" stroke-width="1.4" />
<line x1="494.00" y1="609.62" x2="496.60" y2="609.62" stroke="#333" stroke-width="0.8" />
<line x1="494.00" y1="604.42" x2="496.60" y2="604.42" stroke="#333" stroke-width="0.8" />
<line x1="494.00" y1="785.50" x2="496.60" y2="785.50" stroke="#333" stroke-width="0.8" />
<line x1="494.00" y1="782.30" x2="496.60" y2="782.30" stroke="#333" stroke-width="0.8" />
<line x1="494.00" y1="779.10" x2="496.60" y2="779.10" stroke="#333" stroke-width="0.8" />
<line x1="494.00" y1="775.90" x2="496.60" y2="775.90" stroke="#333" stroke-width="0.8" />
<line x1="494.00" y1="772.70" x2="496.60" y2="772.70" stroke="#333" stroke-width="0.8" />
<line x1="494.00" y1="769.50" x2="496.60" y2="769.50" stroke="#333" stroke-width="0.8" />
<line x1="494.00" y1="763.10" x2="496.60" y2="763.10" stroke="#333" stroke-width="0.8" />
<line x1="494.00" y1="759.90" x2="496.60" y2="759.90" stroke="#333" stroke-width="0.8" />
<line x1="494.00" y1="756.70" x2="496.60" y2="756.70" stroke="#333" stroke-width="0.8" />
<line x1="494.00" y1="753.50" x2="496.60" y2="753.50" stroke="#333" stroke-width="0.8" />
<line x1="494.00" y1="750.30" x2="496.60" y2="750.30" stroke="#333" stroke-width="0.8" />
<line x1="494.00" y1="747.10" x2="496.60" y2="747.10" stroke="#333" stroke-width="0.8" />
<line x1="494.00" y1="743.90" x2="496.60" y2="743.90" stroke="#333" stroke-width="0.8" />
<line x1="494.00" y1="740.70" x2="496.60" y2="740.70" stroke="#333" stroke-width="0.8" />
<text x="514.90" y="810.30" font-family="Liberation Sans" font-size="7" font-weight="normal" text-anchor="middle" fill="#3a3a3a" >0</text>
<text x="558.10" y="810.30" font-family="Liberation Sans" font-size="7" fill="#3a3a3a">10<tspan font-size="6.6" dx="0.5" dy="-6.5">2</tspan></text>
<text x="606.30" y="810.30" font-family="Liberation Sans" font-size="7" fill="#3a3a3a">10<tspan font-size="6.6" dx="0.5" dy="-6.5">4</tspan></text>
<text x="654.50" y="810.30" font-family="Liberation Sans" font-size="7" fill="#3a3a3a">10<tspan font-size="6.6" dx="0.5" dy="-6.5">6</tspan></text>
<text x="482.40" y="768.50" font-family="Liberation Sans" font-size="7" font-weight="normal" text-anchor="end" fill="#3a3a3a" >0</text>
<text x="474.80" y="741.50" font-family="Liberation Sans" font-size="7" fill="#3a3a3a">10<tspan font-size="7" dx="0.5" dy="-5.6">1</tspan></text>
<text x="474.80" y="712.00" font-family="Liberation Sans" font-size="7" fill="#3a3a3a">10<tspan font-size="7" dx="0.5" dy="-5.6">2</tspan></text>
<text x="474.80" y="682.50" font-family="Liberation Sans" font-size="7" fill="#3a3a3a">10<tspan font-size="7" dx="0.5" dy="-5.6">3</tspan></text>
<text x="474.80" y="653.00" font-family="Liberation Sans" font-size="7" fill="#3a3a3a">10<tspan font-size="7" dx="0.5" dy="-5.6">4</tspan></text>
<text x="474.80" y="623.50" font-family="Liberation Sans" font-size="7" fill="#3a3a3a">10<tspan font-size="7" dx="0.5" dy="-5.6">5</tspan></text>
<text x="587.10" y="826.80" font-family="Liberation Sans" font-size="9" font-weight="normal" text-anchor="middle" fill="#3a3a3a" textLength="101.5" lengthAdjust="spacingAndGlyphs">FL1-A :: Annexin V FITC-A</text>
<text transform="translate(469.60,693.70) rotate(-90)" font-family="Liberation Sans" font-size="9.8" text-anchor="middle" fill="#3a3a3a" textLength="69.5" lengthAdjust="spacingAndGlyphs">FL10-A :: PI PE-A</text>
<text x="590.00" y="587.50" font-family="Liberation Serif" font-size="26" font-weight="bold" text-anchor="middle" fill="#000" >GW4869</text>
<text x="500.40" y="617.80" font-family="Liberation Sans" font-size="8.7" font-weight="normal" text-anchor="start" fill="#3a3a3a" >Q1</text>
<text x="500.40" y="631.30" font-family="Liberation Sans" font-size="8.7" font-weight="normal" text-anchor="start" fill="#3a3a3a" >0.071</text>
<text x="668.40" y="617.80" font-family="Liberation Sans" font-size="8.7" font-weight="normal" text-anchor="end" fill="#3a3a3a" >Q2</text>
<text x="668.40" y="631.30" font-family="Liberation Sans" font-size="8.7" font-weight="normal" text-anchor="end" fill="#3a3a3a" >10.3</text>
<text x="500.40" y="763.50" font-family="Liberation Sans" font-size="8.7" font-weight="normal" text-anchor="start" fill="#3a3a3a" >Q4</text>
<text x="500.40" y="777.30" font-family="Liberation Sans" font-size="8.7" font-weight="normal" text-anchor="start" fill="#3a3a3a" >71.9</text>
<text x="668.40" y="763.50" font-family="Liberation Sans" font-size="8.7" font-weight="normal" text-anchor="end" fill="#3a3a3a" >Q3</text>
<text x="668.40" y="777.30" font-family="Liberation Sans" font-size="8.7" font-weight="normal" text-anchor="end" fill="#3a3a3a" >17.7</text>
<line x1="146.60" y1="852.00" x2="146.60" y2="961.00" stroke="#000" stroke-width="3" />
<line x1="136.00" y1="959.90" x2="313.00" y2="959.90" stroke="#000" stroke-width="1.6" />
<line x1="136.00" y1="853.40" x2="147.30" y2="853.40" stroke="#000" stroke-width="1.7" />
<text transform="translate(132.4,856.80) scale(1,0.5)" font-family="Liberation Sans" font-size="18" font-weight="bold" text-anchor="end">40</text>
<line x1="136.00" y1="880.12" x2="147.30" y2="880.12" stroke="#000" stroke-width="1.7" />
<text transform="translate(132.4,883.52) scale(1,0.5)" font-family="Liberation Sans" font-size="18" font-weight="bold" text-anchor="end">30</text>
<line x1="136.00" y1="906.85" x2="147.30" y2="906.85" stroke="#000" stroke-width="1.7" />
<text transform="translate(132.4,910.25) scale(1,0.5)" font-family="Liberation Sans" font-size="18" font-weight="bold" text-anchor="end">20</text>
<line x1="136.00" y1="933.57" x2="147.30" y2="933.57" stroke="#000" stroke-width="1.7" />
<text transform="translate(132.4,936.97) scale(1,0.5)" font-family="Liberation Sans" font-size="18" font-weight="bold" text-anchor="end">10</text>
<line x1="136.00" y1="960.30" x2="147.30" y2="960.30" stroke="#000" stroke-width="1.7" />
<text transform="translate(132.4,963.70) scale(1,0.5)" font-family="Liberation Sans" font-size="18" font-weight="bold" text-anchor="end">0</text>
<rect x="163.50" y="939.40" width="34.60" height="20.90" fill="#000" stroke="none" stroke-width="0" />
<rect x="215.30" y="864.50" width="33.60" height="95.30" fill="#a09fa3" stroke="none" stroke-width="0" />
<rect x="215.30" y="864.50" width="2.70" height="95.30" fill="#000" stroke="none" stroke-width="0" />
<rect x="246.20" y="864.50" width="2.70" height="95.30" fill="#000" stroke="none" stroke-width="0" />
<rect x="215.30" y="864.50" width="33.60" height="1.70" fill="#000" stroke="none" stroke-width="0" />
<rect x="266.25" y="890.00" width="34.55" height="69.80" fill="url(#hatch)" stroke="none" stroke-width="0" />
<rect x="266.25" y="890.00" width="2.70" height="69.80" fill="#000" stroke="none" stroke-width="0" />
<rect x="298.10" y="890.00" width="2.70" height="69.80" fill="#000" stroke="none" stroke-width="0" />
<rect x="266.25" y="890.00" width="34.55" height="1.70" fill="#000" stroke="none" stroke-width="0" />
<line x1="181.00" y1="936.30" x2="181.00" y2="939.40" stroke="#000" stroke-width="1.6" />
<line x1="172.20" y1="936.30" x2="190.00" y2="936.30" stroke="#000" stroke-width="1.1" />
<line x1="232.10" y1="863.80" x2="232.10" y2="864.50" stroke="#000" stroke-width="1.6" />
<line x1="223.30" y1="863.80" x2="240.80" y2="863.80" stroke="#000" stroke-width="1.1" />
<line x1="283.35" y1="883.90" x2="283.35" y2="890.00" stroke="#000" stroke-width="1.4" />
<line x1="274.10" y1="883.90" x2="292.00" y2="883.90" stroke="#000" stroke-width="1.4" />
<line x1="181.00" y1="959.90" x2="181.00" y2="965.00" stroke="#000" stroke-width="2.4" />
<line x1="232.10" y1="959.90" x2="232.10" y2="965.00" stroke="#000" stroke-width="2.4" />
<line x1="283.30" y1="959.90" x2="283.30" y2="965.00" stroke="#000" stroke-width="2.4" />
<polyline points="180.3,841.1 180.3,835.4 284,835.4 284,841.1" fill="none" stroke="#000" stroke-width="1.4"/>
<polyline points="231.1,861 231.1,855.5 284,855.5 284,861" fill="none" stroke="#000" stroke-width="1.4"/>
<path d="M226.20 827.00V831.90M222.00 828.23L230.40 830.68M222.00 830.68L230.40 828.23" stroke="#000" stroke-width="1.5" fill="none"/>
<path d="M239.60 827.00V831.90M235.40 828.23L243.80 830.68M235.40 830.68L243.80 828.23" stroke="#000" stroke-width="1.5" fill="none"/>
<path d="M257.95 846.00V851.00M253.70 847.25L262.20 849.75M253.70 849.75L262.20 847.25" stroke="#000" stroke-width="1.5" fill="none"/>
<text transform="translate(97.3,907.3) scale(1,0.441) rotate(-90)" font-family="Liberation Sans" font-size="20.3" font-weight="bold" text-anchor="middle">Apoptotic cells (%)</text>
<text transform="translate(187.5,975) scale(1.05,0.567) rotate(-34)" font-family="Liberation Sans" font-size="15.5" font-weight="bold" text-anchor="end" textLength="59" lengthAdjust="spacingAndGlyphs">Control</text>
<text transform="translate(237.5,975) scale(1.05,0.567) rotate(-34)" font-family="Liberation Sans" font-size="15.5" font-weight="bold" text-anchor="end" textLength="73" lengthAdjust="spacingAndGlyphs">PC-3-exos</text>
<text transform="translate(289.2,975) scale(1.05,0.567) rotate(-34)" font-family="Liberation Sans" font-size="15.5" font-weight="bold" text-anchor="end" textLength="62" lengthAdjust="spacingAndGlyphs">GW4869</text>
</svg>
</body></html>
